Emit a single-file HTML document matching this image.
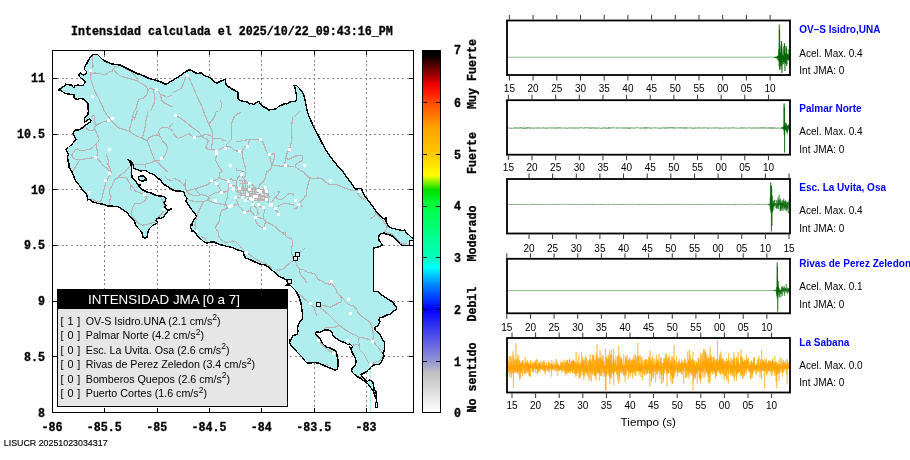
<!DOCTYPE html>
<html lang="es"><head><meta charset="utf-8"><title>Intensidad JMA</title>
<style>html,body{margin:0;padding:0;background:#fff;}svg{display:block}</style></head>
<body><svg width="910" height="460" viewBox="0 0 910 460">
<rect width="910" height="460" fill="#fff"/>
<g shape-rendering="crispEdges">
<line x1="104.5" y1="55" x2="104.5" y2="412" stroke="#858585" stroke-width="1" stroke-dasharray="2 2.66"/>
<line x1="157.5" y1="55" x2="157.5" y2="412" stroke="#858585" stroke-width="1" stroke-dasharray="2 2.66"/>
<line x1="209.5" y1="55" x2="209.5" y2="412" stroke="#858585" stroke-width="1" stroke-dasharray="2 2.66"/>
<line x1="261.5" y1="55" x2="261.5" y2="412" stroke="#858585" stroke-width="1" stroke-dasharray="2 2.66"/>
<line x1="314.5" y1="55" x2="314.5" y2="412" stroke="#858585" stroke-width="1" stroke-dasharray="2 2.66"/>
<line x1="366.5" y1="55" x2="366.5" y2="412" stroke="#858585" stroke-width="1" stroke-dasharray="2 2.66"/>
<line x1="57" y1="356.5" x2="413" y2="356.5" stroke="#858585" stroke-width="1" stroke-dasharray="2 2.66"/>
<line x1="57" y1="301.5" x2="413" y2="301.5" stroke="#858585" stroke-width="1" stroke-dasharray="2 2.66"/>
<line x1="57" y1="245.5" x2="413" y2="245.5" stroke="#858585" stroke-width="1" stroke-dasharray="2 2.66"/>
<line x1="57" y1="189.5" x2="413" y2="189.5" stroke="#858585" stroke-width="1" stroke-dasharray="2 2.66"/>
<line x1="57" y1="134.5" x2="413" y2="134.5" stroke="#858585" stroke-width="1" stroke-dasharray="2 2.66"/>
<line x1="57" y1="78.5" x2="413" y2="78.5" stroke="#858585" stroke-width="1" stroke-dasharray="2 2.66"/>
<polygon points="92.5,54.5 97.5,54.5 100.0,57.0 103.0,60.0 107.0,62.0 112.0,64.0 120.0,65.0 126.0,68.0 132.0,71.0 138.0,74.0 140.0,74.2 144.0,76.0 149.0,78.5 155.0,80.0 161.0,82.0 166.0,84.5 169.0,82.5 174.0,79.5 180.0,76.0 185.0,72.0 190.0,69.5 193.0,71.5 197.0,73.5 201.0,72.8 204.0,75.5 209.0,77.0 212.0,79.5 214.0,82.0 217.0,83.0 221.0,81.0 225.0,79.2 225.5,81.0 226.0,85.0 229.0,87.0 232.0,89.0 235.0,90.5 238.0,92.5 238.0,99.0 240.0,100.5 244.0,101.5 247.5,102.0 249.0,104.0 252.0,103.5 254.0,105.0 256.0,102.5 259.0,101.5 260.5,104.0 263.0,106.5 266.0,108.0 269.0,110.0 272.0,109.5 276.0,109.0 278.5,106.5 282.0,105.0 285.0,103.5 287.0,104.0 290.0,102.0 295.0,101.2 296.5,100.0 296.5,95.0 295.5,91.0 295.0,87.0 293.5,85.5 296.5,85.5 299.5,88.5 302.5,92.0 304.0,96.0 305.0,100.0 306.0,105.0 307.0,110.0 308.5,115.0 310.5,120.0 311.3,121.6 314.6,128.3 318.0,135.0 322.0,143.0 327.2,152.2 334.0,161.5 340.5,169.5 343.2,172.0 346.5,176.7 349.8,181.3 353.2,186.0 355.8,189.3 359.2,188.6 361.8,188.6 362.5,192.0 365.8,197.3 369.8,202.6 373.8,208.0 376.4,212.0 380.4,216.0 384.4,219.2 385.8,217.2 386.0,221.2 387.8,225.2 391.0,228.0 396.4,229.2 401.7,230.5 405.0,230.0 406.4,233.0 409.0,235.0 412.0,238.0 413.5,239.0 413.5,245.5 402.0,245.5 400.0,244.0 398.0,241.0 395.0,239.0 393.0,236.5 390.0,235.0 387.0,234.5 384.0,233.0 381.0,233.5 379.0,236.0 378.5,239.0 380.0,242.0 382.0,244.0 382.0,245.5 378.0,247.0 374.0,248.0 373.5,250.0 373.5,291.5 378.0,291.5 380.0,294.0 385.0,297.0 389.0,300.0 393.0,302.0 394.5,305.0 396.5,306.5 396.5,309.0 394.0,311.0 390.5,314.0 387.0,315.0 383.0,317.0 379.5,318.0 379.0,320.0 380.0,322.0 378.5,324.0 378.0,325.5 375.5,327.0 374.5,329.0 376.0,331.0 379.0,333.5 380.5,335.0 382.0,339.0 384.5,342.0 384.8,346.0 384.5,350.0 383.0,353.0 384.0,356.0 382.5,359.0 381.5,361.5 380.0,364.0 377.0,364.5 374.0,365.0 372.0,366.0 370.0,368.0 368.5,370.5 364.0,373.0 361.0,374.5 363.0,377.5 366.0,380.5 367.5,381.5 369.0,380.0 371.0,380.5 373.0,382.5 373.5,385.0 374.0,389.0 375.8,391.5 376.3,394.0 376.6,398.0 376.6,402.5 376.4,402.5 376.2,399.0 375.0,396.0 374.0,393.0 373.0,390.5 371.0,388.0 369.5,386.0 368.0,384.0 366.0,382.5 363.0,380.0 360.0,378.0 357.0,376.5 354.0,374.0 352.0,372.0 351.5,370.0 352.5,368.0 354.0,367.0 355.5,365.0 356.0,361.0 355.5,358.0 353.5,355.0 352.0,352.0 351.0,349.0 349.5,346.5 351.5,349.0 352.5,346.5 350.0,344.0 347.5,344.5 346.5,343.5 343.0,342.0 340.0,341.0 336.0,338.0 333.0,336.0 332.5,333.0 331.0,331.0 328.0,330.0 324.5,330.0 322.0,331.5 319.0,332.5 317.0,331.5 315.5,333.5 316.5,335.5 319.0,337.5 321.0,340.0 322.0,343.0 324.5,345.5 327.0,347.5 330.0,348.0 334.0,350.0 336.5,351.5 337.0,356.0 338.0,360.0 338.0,366.0 337.0,369.5 335.0,370.0 330.0,368.0 326.0,366.5 322.0,364.5 318.0,363.0 314.0,362.5 311.0,363.0 307.0,363.0 305.0,361.0 303.0,358.0 300.0,355.0 297.0,352.0 294.0,348.5 291.0,345.5 289.5,343.0 289.5,340.0 290.5,341.0 291.5,338.0 293.0,335.5 297.0,334.5 298.0,331.0 297.5,327.5 298.5,324.0 300.0,321.5 302.2,319.0 302.8,315.0 302.0,311.0 301.5,307.0 301.0,303.0 300.0,300.0 299.5,298.0 298.0,295.0 296.0,291.0 293.0,288.0 290.0,285.0 286.0,285.0 287.5,284.0 287.0,280.5 283.0,278.0 279.0,276.5 277.0,274.5 273.0,271.0 269.0,267.5 265.0,265.0 260.0,264.0 255.0,262.0 250.0,259.5 245.5,258.0 244.0,255.0 243.5,252.0 240.0,250.5 236.0,249.5 233.0,247.5 227.0,246.5 222.0,245.0 217.0,243.5 214.0,242.0 210.0,242.2 207.0,243.0 204.0,242.0 201.5,239.5 198.5,237.0 196.5,234.5 195.0,232.0 192.0,230.5 190.5,227.5 191.0,224.5 192.5,222.5 195.0,218.0 196.5,216.5 194.5,213.0 192.0,210.0 190.0,207.0 188.0,204.0 186.0,201.0 187.0,198.0 185.0,196.0 184.5,194.0 184.0,192.0 180.0,191.0 176.0,191.2 173.0,190.0 169.0,187.5 165.0,185.0 162.0,182.5 161.0,180.0 159.0,179.0 156.0,176.5 153.0,174.0 149.0,173.0 147.0,171.0 144.0,170.5 141.0,171.0 137.0,169.5 134.0,168.5 133.5,166.0 132.5,163.0 130.0,160.5 127.5,159.5 129.5,161.5 131.0,164.0 131.5,168.0 131.5,172.0 132.0,177.0 133.0,179.0 135.0,180.5 137.0,183.0 138.0,185.0 140.0,187.5 143.0,190.0 147.0,192.0 151.0,193.0 153.0,194.0 156.0,195.5 160.0,196.0 164.0,196.5 166.0,198.0 165.5,200.5 164.0,203.0 166.0,205.5 164.5,207.0 167.0,209.5 171.5,209.0 170.0,210.0 167.5,210.5 167.0,212.5 165.0,214.0 164.0,216.5 161.0,218.5 159.0,218.0 157.0,218.5 156.0,220.5 157.5,222.5 156.0,224.0 153.0,225.0 151.0,227.0 149.0,229.0 148.0,232.0 147.5,235.0 147.0,237.5 145.0,238.0 143.0,237.5 142.5,234.0 141.0,231.0 138.0,228.0 135.5,225.0 134.5,221.0 132.0,218.5 129.0,216.0 128.0,213.0 124.5,211.0 121.0,208.5 118.0,206.5 113.0,206.2 108.0,206.0 104.5,204.5 101.0,204.0 97.0,203.2 93.0,202.0 89.5,199.5 87.5,200.0 87.0,195.0 85.0,192.5 82.0,189.0 79.0,185.0 75.5,180.5 74.0,177.0 72.5,173.0 71.0,170.0 69.0,167.0 69.0,164.0 68.0,161.0 67.5,157.0 68.5,154.5 67.5,152.0 66.0,149.5 68.5,147.5 71.0,145.0 73.5,143.5 74.0,141.5 76.0,140.0 75.5,138.0 74.0,136.0 73.0,133.5 73.5,131.8 75.5,130.0 79.0,130.0 81.0,128.5 84.0,127.0 85.5,125.0 88.0,123.5 90.5,122.0 91.0,120.0 89.5,119.0 87.0,120.5 84.5,122.0 84.5,118.0 86.0,116.5 88.0,115.0 88.3,111.0 88.0,107.0 88.0,103.5 86.0,101.0 83.0,99.0 80.0,98.5 77.0,99.5 74.0,98.0 74.0,94.5 67.5,94.0 65.0,93.5 63.0,92.0 61.0,90.5 58.5,89.8 61.0,88.5 63.0,87.0 65.0,85.5 65.5,83.5 66.0,84.5 71.5,85.0 72.5,86.5 74.0,88.0 74.5,85.8 78.0,85.0 82.0,85.8 84.5,84.5 85.0,81.5 83.5,80.0 81.0,78.0 79.0,76.0 79.0,74.0 80.5,72.5 82.0,74.5 83.5,75.2 86.0,74.0 86.5,71.5 84.5,69.5 84.5,67.0 86.5,64.0 88.0,61.0 90.0,58.0 92.5,54.5" fill="#afeeee" stroke="none"/>
<polygon points="138.5,177.0 140.5,176.0 143.5,176.2 145.5,177.5 145.5,179.5 143.5,180.8 140.5,180.8 138.5,179.5" fill="#afeeee" stroke="none"/>
<polygon points="370.0,368.0 371.0,368.0 371.0,412.0 370.0,412.0" fill="#afeeee" stroke="none"/>
</g>
<g fill="none" stroke="#bcb0b0" stroke-width="1.15" shape-rendering="crispEdges">
<polyline points="92.6,55.3 92.3,62.0 93.2,66.0 91.6,69.9 90.6,74.6 90.8,79.3 92.6,84.6 94.3,89.9 96.5,94.5 98.8,98.5 100.9,103.2 102.8,107.2 104.1,111.0"/>
<polyline points="90.6,74.6 94.6,72.9 98.5,73.3 103.2,74.6 106.5,74.2 109.2,71.9 112.5,71.3 113.4,68.6 115.2,66.6 117.8,65.7 120.5,66.0"/>
<polyline points="113.4,68.6 114.5,71.3 117.2,73.3 119.2,75.3 122.5,76.6 126.5,77.9 130.5,78.6 134.4,79.9 137.8,81.2 140.4,83.2 143.8,84.8 146.7,87.2 148.0,89.9 147.7,93.2 145.8,95.9 143.8,97.9 140.4,98.5 138.2,100.5 137.1,104.5 136.0,108.5 134.4,111.0"/>
<polyline points="120.5,66.0 125.1,68.0 129.1,70.6 132.5,72.6 135.1,75.9 137.1,78.6 137.8,81.2"/>
<polyline points="148.0,89.9 150.4,87.9 153.1,89.2 156.4,89.5"/>
<polyline points="153.1,89.2 154.1,93.9 155.1,98.5 154.1,103.2 152.4,107.2 150.4,111.0"/>
<polyline points="156.4,89.5 158.4,91.2 160.4,94.5 161.0,97.9 162.4,101.2 165.0,103.2 167.7,104.5 170.4,105.9 173.0,106.5"/>
<polyline points="160.4,94.5 163.7,95.2 166.4,97.2 169.0,96.5 171.7,95.2"/>
<polyline points="187.0,75.0 185.0,79.3 183.0,84.6 181.0,88.6 177.0,90.6 173.0,92.6"/>
<polyline points="187.0,75.0 189.6,78.6 191.6,83.2 193.6,88.6 196.3,94.5 198.9,100.5 201.6,105.9 203.6,111.0"/>
<polyline points="220.2,99.9 221.5,103.2 221.5,107.2 219.5,111.0"/>
<polyline points="104.5,111.0 107.9,116.3 111.2,120.3 114.5,124.3 118.5,127.6 123.8,129.6 129.1,130.9 133.1,133.6 137.1,136.3 142.4,138.3 147.1,140.9 149.1,145.6 151.1,150.9 153.1,156.2 155.1,160.9 158.4,162.9 162.4,166.9 166.4,170.8 167.7,172.0"/>
<polyline points="134.4,111.0 132.5,116.3 131.8,121.6 130.5,125.6 129.1,130.9"/>
<polyline points="137.1,111.0 135.8,115.0 134.4,119.0 133.1,116.3"/>
<polyline points="147.7,111.0 147.1,116.3 145.8,121.6 145.1,127.0 143.8,132.3 142.4,138.3"/>
<polyline points="90.6,116.3 94.6,115.7 94.8,120.3 95.2,125.6 94.6,129.6 90.6,130.9 87.9,129.6 85.9,127.6"/>
<polyline points="95.2,125.6 97.9,124.3 101.9,122.3 106.5,121.0 108.5,120.3 112.5,118.3"/>
<polyline points="95.2,129.6 96.5,132.9 97.9,136.3 99.2,139.6 97.9,142.2 95.9,144.2 93.2,146.9 90.6,148.9 85.2,150.2 79.9,150.6 77.3,148.9 74.6,150.2 71.9,154.9 72.6,157.5 75.3,159.1 79.9,159.5 85.2,158.9 90.6,158.2 95.2,157.5 97.9,159.1 100.5,162.2 103.2,165.5 106.5,168.2 109.8,170.8 111.2,172.0"/>
<polyline points="95.9,144.2 96.5,148.2 97.9,152.2 97.2,155.5 95.2,157.5"/>
<polyline points="105.9,153.6 107.2,156.9 108.5,160.9 107.9,164.2 109.8,168.2 111.2,172.0"/>
<polyline points="79.9,159.5 77.9,162.9 75.3,166.9 73.3,170.8"/>
<polyline points="147.1,140.9 149.1,137.6 153.1,135.6 157.1,134.9 160.4,136.9 162.4,140.9 165.7,144.2 167.7,147.6 166.4,152.2 164.4,156.2 161.7,158.9 158.4,160.9 155.1,160.9"/>
<polyline points="160.4,136.9 158.4,132.3 160.4,128.3 165.0,127.0 169.0,128.3 173.0,130.9"/>
<polyline points="173.0,123.0 170.4,125.6 169.0,128.3"/>
<polyline points="155.1,160.9 150.4,162.9 145.1,164.2 138.4,164.5 133.1,164.2"/>
<polyline points="145.1,164.2 145.8,168.2"/>
<polyline points="133.1,165.5 129.1,167.5 126.5,169.5 125.1,172.0"/>
<polyline points="175.4,115.7 179.6,117.6 183.6,120.3 187.6,123.6 191.6,127.0 195.6,129.6 198.9,132.3 200.9,135.6 202.9,137.6 206.2,138.9 208.2,140.9 207.6,144.2 205.6,146.9 206.9,148.9 210.2,149.8 214.2,149.8 216.5,152.2"/>
<polyline points="203.6,111.0 204.9,115.0 206.9,119.6 208.9,124.3 210.9,128.3 212.2,132.3 212.9,136.3 212.9,138.3"/>
<polyline points="218.2,111.0 215.6,112.3 214.9,116.3 212.9,119.6 210.2,122.3 208.9,124.3"/>
<polyline points="173.0,133.6 175.7,136.3 178.3,138.3 182.3,136.9 186.3,134.9 189.0,133.6 191.0,135.6 194.5,137.3 199.6,136.3 204.2,134.7 208.2,134.9 211.6,136.3 212.9,138.3 216.9,138.7 220.9,138.9 223.5,140.5 225.5,140.5"/>
<polyline points="212.9,138.3 212.2,142.9 211.6,146.9 211.6,149.8"/>
<polyline points="241.5,112.6 238.2,113.4 234.8,116.3 232.8,119.6 231.5,124.3 231.5,129.6 231.8,134.9 231.5,139.6 228.9,142.2 226.9,144.2 226.2,146.9 225.5,148.5"/>
<polyline points="216.5,152.2 219.5,149.6 222.9,147.6 225.5,148.5 228.9,146.2 231.5,147.6 233.5,149.6 235.5,150.9 238.8,151.2 242.1,152.2 242.8,149.6 244.8,146.9 247.5,146.5 248.8,142.9 249.5,139.6 252.8,139.3 256.8,139.2 260.4,139.3"/>
<polyline points="236.2,141.6 239.5,141.3 243.5,140.5 247.5,139.6 249.5,139.6"/>
<polyline points="216.5,152.2 216.2,156.2 215.6,160.2 217.5,164.2 220.2,168.2 222.2,172.0"/>
<polyline points="242.1,152.2 242.8,157.5 243.5,161.5 244.8,165.5 245.5,169.5 244.8,171.5 240.8,170.8 236.8,170.2 236.2,168.2"/>
<polyline points="260.4,139.3 263.4,142.9 264.8,146.9 266.1,150.9 268.7,154.2 270.1,158.9 271.4,163.5 272.1,165.5"/>
<polyline points="269.4,154.5 274.7,153.6 274.7,157.5 273.4,161.5 272.1,165.5 271.4,168.2 268.7,170.8 266.1,172.0"/>
<polyline points="272.1,165.5 276.7,165.3 280.7,166.2 285.1,165.8 290.0,166.2 294.0,166.2"/>
<polyline points="292.7,117.0 292.0,123.0 291.4,128.3 291.6,133.6 292.0,137.6 291.4,141.6 290.7,145.6 289.4,149.6 287.4,152.2 286.0,156.2 285.4,160.2 284.7,164.2 285.1,165.8"/>
<polyline points="286.0,158.2 288.7,159.5 291.4,158.2 294.0,156.9"/>
<polyline points="294.0,117.0 296.7,114.3 300.0,111.0"/>
<polyline points="294.0,156.2 302.0,155.5 302.6,160.2 299.3,162.2 296.0,164.2 295.3,166.9 299.3,169.5 303.3,172.0"/>
<polyline points="111.2,172.0 109.2,176.0 107.2,180.0 105.2,184.0 104.5,188.0 103.2,191.9 102.5,196.6 101.2,200.6 98.5,201.9 94.6,200.6 90.6,198.6"/>
<polyline points="124.5,172.0 121.1,174.7 118.5,177.3 115.2,179.3 113.2,182.6 111.8,186.6 109.8,189.3 109.2,193.3 111.2,196.6 109.8,199.9 109.2,203.9"/>
<polyline points="118.5,177.3 122.5,177.3 126.5,177.6 128.5,181.3 130.5,184.6 133.1,188.0 135.8,191.3 139.8,192.6 144.4,194.6 146.4,197.3 145.1,200.6 142.4,202.6 138.4,203.9 135.1,203.2 133.1,206.6 131.8,210.6 131.1,214.6 133.1,217.9 135.8,220.5 138.4,223.2 142.4,225.2 146.4,224.5 150.4,223.2 154.4,222.5 156.4,220.5 158.4,217.2 161.0,214.6 163.0,211.9 163.4,209.9"/>
<polyline points="130.5,184.6 130.5,189.3 131.8,191.3"/>
<polyline points="163.0,211.9 164.4,205.2 162.4,199.9 160.4,197.3"/>
<polyline points="165.0,176.0 166.4,178.6 169.0,180.0 173.0,180.6"/>
<polyline points="173.0,178.6 177.0,179.3 181.0,182.0 183.6,184.6 185.6,188.0 186.3,190.6"/>
<polyline points="185.6,179.3 185.0,184.0 185.6,188.0"/>
<polyline points="186.3,190.6 190.3,190.0 195.6,188.6 199.6,187.3 203.6,186.0 207.6,184.6 210.2,182.6 211.6,180.6"/>
<polyline points="186.3,190.6 189.0,193.9 192.9,195.3 196.9,195.7 200.9,194.6 204.9,195.3 208.2,196.6 211.6,194.6 215.6,192.6 219.5,191.9 221.5,192.3 224.9,191.9 227.5,191.3 228.9,189.3 228.2,185.3 228.5,181.6"/>
<polyline points="195.6,188.6 197.6,191.9 200.9,194.6"/>
<polyline points="185.6,198.6 190.3,200.6 194.9,201.5 199.6,201.9 203.6,201.5 207.6,199.9 209.6,197.9 208.2,196.6"/>
<polyline points="203.6,201.5 201.6,205.2 199.6,209.2 197.6,213.2 196.9,217.2 195.6,221.2 194.9,225.2 195.6,229.2 196.3,231.2"/>
<polyline points="207.6,199.9 210.9,201.9 215.6,203.2 219.5,203.9 223.5,204.6 226.2,205.9 227.5,208.6 224.2,209.2 221.5,210.6 220.2,213.9 219.5,218.5 218.9,222.5 216.2,225.2 215.6,228.5 217.5,231.2 218.9,233.0"/>
<polyline points="227.5,191.3 227.5,195.3 226.9,199.3 225.5,201.9 226.2,205.9"/>
<polyline points="216.5,183.6 218.9,186.6 220.2,189.3 221.5,192.3"/>
<polyline points="211.6,180.6 215.6,180.0 218.9,178.6 219.5,174.7 220.2,172.0"/>
<polyline points="218.9,178.6 222.9,179.3 226.2,180.6 228.5,181.6"/>
<polyline points="230.2,205.9 234.2,205.2 237.5,203.9 236.8,200.6 235.5,197.3"/>
<polyline points="237.5,203.9 239.5,206.6 242.1,209.2 244.5,212.3 247.5,211.2 250.1,210.6 250.8,207.2 252.8,204.6"/>
<polyline points="250.1,210.6 252.8,213.2 255.4,217.5 258.1,213.2 257.4,209.2 255.4,207.2 252.8,204.6"/>
<polyline points="258.5,204.6 260.8,207.2 263.4,207.5 264.8,211.2 263.4,214.6 263.4,218.5"/>
<polyline points="255.4,217.5 256.1,222.5 258.1,225.2 261.4,227.2 264.4,228.5"/>
<polyline points="255.4,217.5 259.4,217.9 263.4,218.5 265.4,221.2 264.8,225.2 264.4,228.5"/>
<polyline points="265.4,221.2 268.7,223.2 272.7,225.2 276.7,227.9 279.4,231.2 282.0,232.5 286.0,233.0"/>
<polyline points="270.7,205.2 274.1,207.9 276.7,211.2 278.5,214.6"/>
<polyline points="275.4,208.2 279.4,205.2 283.4,203.9 287.4,203.2 291.4,204.6 294.0,205.2"/>
<polyline points="270.7,205.2 272.7,200.6 275.4,197.3 278.1,194.6 279.4,191.9 277.4,191.9"/>
<polyline points="275.4,197.3 279.4,199.9 283.4,198.6 286.0,195.9 288.7,193.9 292.7,193.9 294.0,195.9"/>
<polyline points="266.5,191.5 268.7,194.6 269.4,197.9 266.5,199.5 268.7,202.6 270.7,205.2"/>
<polyline points="230.8,185.3 235.5,186.0 239.5,188.6 244.8,189.3 249.5,189.3 254.1,188.6 258.1,190.6 260.8,191.9 266.5,191.5"/>
<polyline points="233.5,188.6 236.8,191.9 242.1,193.3 247.5,194.3 252.8,193.9 258.1,194.6 263.4,195.9 266.5,199.5"/>
<polyline points="235.5,197.3 242.4,197.3 245.5,200.2 251.5,198.6 256.8,197.9 260.8,199.3 266.5,199.5"/>
<polyline points="251.5,198.6 252.8,204.6"/>
<polyline points="247.5,194.3 249.5,189.3 249.5,183.6 246.1,181.3 243.5,178.6 241.5,174.4"/>
<polyline points="236.8,180.6 236.8,186.6 238.2,191.9"/>
<polyline points="239.5,180.0 244.8,180.6 249.5,183.6 252.8,185.3 255.4,188.0"/>
<polyline points="241.5,174.4 238.2,177.3 236.8,180.6 232.8,180.0 230.8,178.6 228.5,181.6"/>
<polyline points="244.8,180.6 245.5,185.3 244.8,189.3"/>
<polyline points="252.8,185.3 254.1,188.6 254.1,193.9 251.5,198.6"/>
<polyline points="258.1,190.6 259.4,185.3 262.1,182.6 264.8,180.0 265.4,176.0 266.8,172.0"/>
<polyline points="260.8,191.9 263.4,189.3 265.4,187.3"/>
<polyline points="246.1,172.0 245.5,176.0 243.5,178.6"/>
<polyline points="239.5,183.3 247.5,183.3"/>
<polyline points="242.1,180.0 242.1,186.6"/>
<polyline points="247.5,185.3 247.5,189.3"/>
<polyline points="255.4,191.9 266.1,193.3"/>
<polyline points="258.1,195.9 258.1,200.6 258.5,204.6"/>
<polyline points="262.1,194.6 262.8,200.6"/>
<polyline points="236.8,194.6 244.8,195.3 250.1,196.6"/>
<polyline points="235.5,188.0 242.1,187.7 247.5,188.6 252.8,189.3 258.1,188.6 263.4,190.0 268.7,190.6"/>
<polyline points="236.8,190.0 243.5,190.6 250.1,191.3 256.8,191.9 263.4,192.6 268.1,193.3"/>
<polyline points="238.2,186.6 238.2,193.3"/>
<polyline points="243.5,185.3 243.5,193.3"/>
<polyline points="252.8,188.0 252.8,198.6"/>
<polyline points="255.4,189.3 256.1,198.6"/>
<polyline points="260.8,191.9 260.8,199.9"/>
<polyline points="264.8,191.9 264.8,199.9"/>
<polyline points="267.4,191.9 268.1,199.9"/>
<polyline points="248.8,195.9 255.4,195.3 262.1,196.6 267.4,197.3"/>
<polyline points="247.5,198.6 252.8,200.6 258.1,199.9 264.8,200.6 268.7,199.9"/>
<polyline points="240.2,190.6 240.2,195.9"/>
<polyline points="245.5,190.0 246.1,197.3"/>
<polyline points="249.5,190.6 250.1,198.6"/>
<polyline points="303.3,172.0 306.6,175.3 310.0,178.0 313.9,178.6 317.9,178.0 321.9,178.4 324.6,181.3 328.6,184.0 332.6,184.6 336.6,184.6 340.5,186.0 344.5,188.0 348.5,189.3 352.5,190.6 356.5,190.6 359.6,191.5 357.8,193.9 360.5,197.3 363.8,199.3 366.5,199.3"/>
<polyline points="310.0,178.0 308.6,182.6 307.3,186.6 306.6,190.6 306.6,194.6 304.6,197.3 302.6,199.9 300.0,202.6 298.7,204.3 301.3,205.9 302.6,206.8"/>
<polyline points="298.7,204.3 296.7,207.9 294.0,209.2"/>
<polyline points="370.5,218.5 373.8,216.5 375.8,213.9 377.1,214.6 380.4,216.5"/>
<polyline points="375.8,213.9 375.1,211.9"/>
<polyline points="387.8,225.2 387.1,227.9 385.8,230.5 383.1,233.0"/>
<polyline points="218.2,233.0 218.9,236.3 220.9,239.6 224.2,241.6 226.2,243.0 228.9,242.0 232.2,241.0 235.5,241.6 238.2,244.3 240.8,247.0 243.5,249.6 245.5,251.6 248.8,254.3 252.8,256.9 256.8,259.6 260.8,261.6 264.8,262.9 268.7,265.6 272.1,268.2"/>
<polyline points="200.9,236.3 204.9,238.3 206.9,241.0 208.2,242.6"/>
<polyline points="282.0,233.0 285.4,235.0 287.4,237.7 290.7,238.3 292.7,241.0 292.0,246.3 291.4,250.3 292.0,254.3 292.7,258.3"/>
<polyline points="292.7,260.9 290.0,262.9 287.4,264.9 285.4,267.6 282.0,269.6 278.7,270.2 276.1,269.6"/>
<polyline points="304.6,248.3 301.3,251.6 298.7,254.3"/>
<polyline points="295.3,260.9 296.7,264.9 299.3,268.9 300.0,272.9 301.3,275.6 304.6,278.9 306.6,282.9"/>
<polyline points="299.3,268.9 303.3,269.6 307.3,272.2 311.3,272.9 314.6,273.6 316.6,276.9 317.9,279.5 321.9,280.9 325.9,283.5 329.9,284.2 331.5,283.5 333.9,286.2 336.6,290.2 337.2,294.0"/>
<polyline points="387.1,233.0 391.1,235.0 395.1,239.0 399.1,242.3 403.0,244.3 407.0,243.6"/>
<polyline points="299.3,294.0 303.3,298.0 307.3,301.3 310.6,304.0 313.9,307.3 315.3,311.3 316.6,315.9"/>
<polyline points="318.6,304.4 321.9,305.3 325.9,306.0 329.9,307.3 333.9,305.3 337.9,303.3 341.2,302.0 341.9,299.3 339.9,295.3 338.5,294.0"/>
<polyline points="318.6,306.6 323.3,310.0 328.6,314.6 333.9,319.9 339.2,325.2 344.5,329.2 349.9,332.6 355.2,335.2 359.2,337.2 363.1,337.9 368.5,339.2 372.5,341.2"/>
<polyline points="339.2,325.2 335.2,327.2 329.9,327.2 325.2,327.9 323.3,329.9"/>
<polyline points="339.9,295.3 344.5,300.6 348.5,304.6 353.2,306.0 356.5,308.6 357.8,312.6 361.8,316.6 365.8,319.3 369.8,321.9 371.8,326.6 373.1,332.6 373.1,337.9 372.5,341.2 376.4,345.2 380.4,349.9 382.4,353.2"/>
<polyline points="359.2,337.2 358.5,341.2 359.8,345.9 359.8,349.9 363.1,353.2 365.1,355.0"/>
<polyline points="352.5,345.2 355.2,344.5 359.2,345.2"/>
<polyline points="315.9,335.2 319.3,339.2 320.6,343.2 324.6,347.2 329.9,351.2 333.9,353.2"/>
<polyline points="364.5,355.0 366.5,359.0 368.5,363.0 369.8,365.0 375.1,362.3 379.1,361.0 381.8,358.3 383.1,355.0"/>
<polyline points="325.9,363.6 328.6,365.6"/>
<polyline points="376.0,214.0 379.0,217.0 383.0,221.0 386.0,225.0 387.0,229.0 384.5,231.5"/>
<polyline points="387.0,232.5 392.0,234.0 396.0,238.0 400.0,242.0 404.0,244.0 406.0,243.5"/>
</g>
<g shape-rendering="crispEdges">
<rect x="89.1" y="69.1" width="3" height="3" fill="#fff"/>
<rect x="91.1" y="95.0" width="3" height="3" fill="#fff"/>
<rect x="154.9" y="88.0" width="3" height="3" fill="#fff"/>
<rect x="185.5" y="73.5" width="3" height="3" fill="#fff"/>
<rect x="107.0" y="118.8" width="3" height="3" fill="#fff"/>
<rect x="111.0" y="116.8" width="3" height="3" fill="#fff"/>
<rect x="107.9" y="148.1" width="3" height="3" fill="#fff"/>
<rect x="94.0" y="156.0" width="3" height="3" fill="#fff"/>
<rect x="159.9" y="157.0" width="3" height="3" fill="#fff"/>
<rect x="173.9" y="114.2" width="3" height="3" fill="#fff"/>
<rect x="193.0" y="135.8" width="3" height="3" fill="#fff"/>
<rect x="215.0" y="150.1" width="3" height="3" fill="#fff"/>
<rect x="215.0" y="151.8" width="3" height="3" fill="#fff"/>
<rect x="224.0" y="147.0" width="3" height="3" fill="#fff"/>
<rect x="228.9" y="164.0" width="3" height="3" fill="#fff"/>
<rect x="238.0" y="149.8" width="3" height="3" fill="#fff"/>
<rect x="246.0" y="145.0" width="3" height="3" fill="#fff"/>
<rect x="258.9" y="137.8" width="3" height="3" fill="#fff"/>
<rect x="267.9" y="153.0" width="3" height="3" fill="#fff"/>
<rect x="283.6" y="164.3" width="3" height="3" fill="#fff"/>
<rect x="287.9" y="148.1" width="3" height="3" fill="#fff"/>
<rect x="303.1" y="164.3" width="3" height="3" fill="#fff"/>
<rect x="107.9" y="172.1" width="3" height="3" fill="#fff"/>
<rect x="104.0" y="179.1" width="3" height="3" fill="#fff"/>
<rect x="88.0" y="191.1" width="3" height="3" fill="#fff"/>
<rect x="142.9" y="193.1" width="3" height="3" fill="#fff"/>
<rect x="161.9" y="208.4" width="3" height="3" fill="#fff"/>
<rect x="210.1" y="179.1" width="3" height="3" fill="#fff"/>
<rect x="215.0" y="182.1" width="3" height="3" fill="#fff"/>
<rect x="220.0" y="190.8" width="3" height="3" fill="#fff"/>
<rect x="214.1" y="198.8" width="3" height="3" fill="#fff"/>
<rect x="227.0" y="180.1" width="3" height="3" fill="#fff"/>
<rect x="229.3" y="183.8" width="3" height="3" fill="#fff"/>
<rect x="232.0" y="186.5" width="3" height="3" fill="#fff"/>
<rect x="232.0" y="188.1" width="3" height="3" fill="#fff"/>
<rect x="234.0" y="195.8" width="3" height="3" fill="#fff"/>
<rect x="238.0" y="187.1" width="3" height="3" fill="#fff"/>
<rect x="240.0" y="172.9" width="3" height="3" fill="#fff"/>
<rect x="240.9" y="195.8" width="3" height="3" fill="#fff"/>
<rect x="244.0" y="198.7" width="3" height="3" fill="#fff"/>
<rect x="246.0" y="192.8" width="3" height="3" fill="#fff"/>
<rect x="248.0" y="182.1" width="3" height="3" fill="#fff"/>
<rect x="248.0" y="187.8" width="3" height="3" fill="#fff"/>
<rect x="249.3" y="196.7" width="3" height="3" fill="#fff"/>
<rect x="251.0" y="197.5" width="3" height="3" fill="#fff"/>
<rect x="251.3" y="203.1" width="3" height="3" fill="#fff"/>
<rect x="253.9" y="216.0" width="3" height="3" fill="#fff"/>
<rect x="256.6" y="189.1" width="3" height="3" fill="#fff"/>
<rect x="257.0" y="203.1" width="3" height="3" fill="#fff"/>
<rect x="259.3" y="190.4" width="3" height="3" fill="#fff"/>
<rect x="261.9" y="206.0" width="3" height="3" fill="#fff"/>
<rect x="263.9" y="185.8" width="3" height="3" fill="#fff"/>
<rect x="265.0" y="190.0" width="3" height="3" fill="#fff"/>
<rect x="265.0" y="198.0" width="3" height="3" fill="#fff"/>
<rect x="268.6" y="203.1" width="3" height="3" fill="#fff"/>
<rect x="270.2" y="204.4" width="3" height="3" fill="#fff"/>
<rect x="273.9" y="206.7" width="3" height="3" fill="#fff"/>
<rect x="277.0" y="213.1" width="3" height="3" fill="#fff"/>
<rect x="243.0" y="210.8" width="3" height="3" fill="#fff"/>
<rect x="228.0" y="204.8" width="3" height="3" fill="#fff"/>
<rect x="229.7" y="204.0" width="3" height="3" fill="#fff"/>
<rect x="262.9" y="227.0" width="3" height="3" fill="#fff"/>
<rect x="194.8" y="229.7" width="3" height="3" fill="#fff"/>
<rect x="252.6" y="195.1" width="3" height="3" fill="#fff"/>
<rect x="254.6" y="195.1" width="3" height="3" fill="#fff"/>
<rect x="269.6" y="203.7" width="3" height="3" fill="#fff"/>
<rect x="268.6" y="204.1" width="3" height="3" fill="#fff"/>
<rect x="270.2" y="203.2" width="3" height="3" fill="#fff"/>
<rect x="328.8" y="179.1" width="3" height="3" fill="#fff"/>
<rect x="358.1" y="190.0" width="3" height="3" fill="#fff"/>
<rect x="293.8" y="199.1" width="3" height="3" fill="#fff"/>
<rect x="297.2" y="202.8" width="3" height="3" fill="#fff"/>
<rect x="244.9" y="250.5" width="3" height="3" fill="#fff"/>
<rect x="330.0" y="280.4" width="3" height="3" fill="#fff"/>
<rect x="347.0" y="298.1" width="3" height="3" fill="#fff"/>
<rect x="308.5" y="302.1" width="3" height="3" fill="#fff"/>
<rect x="349.0" y="312.0" width="3" height="3" fill="#fff"/>
<rect x="390.0" y="310.5" width="3" height="3" fill="#fff"/>
<rect x="346.4" y="339.0" width="3" height="3" fill="#fff"/>
<rect x="371.0" y="339.7" width="3" height="3" fill="#fff"/>
<rect x="317.1" y="339.0" width="3" height="3" fill="#fff"/>
<rect x="332.4" y="352.3" width="3" height="3" fill="#fff"/>
<rect x="369.0" y="363.1" width="3" height="3" fill="#fff"/>
<rect x="295.5" y="252.5" width="4" height="4" fill="#e8e8e8" stroke="#000" stroke-width="1"/>
<rect x="293.5" y="256.5" width="4" height="4" fill="#e8e8e8" stroke="#000" stroke-width="1"/>
<rect x="287.5" y="279.5" width="4" height="4" fill="#e8e8e8" stroke="#000" stroke-width="1"/>
<rect x="316.5" y="302.5" width="4" height="4" fill="#e8e8e8" stroke="#000" stroke-width="1"/>
</g>
<g fill="none" stroke="#000" stroke-width="1.4" stroke-linejoin="round" shape-rendering="crispEdges">
<polyline points="92.5,54.5 97.5,54.5 100.0,57.0 103.0,60.0 107.0,62.0 112.0,64.0 120.0,65.0 126.0,68.0 132.0,71.0 138.0,74.0 140.0,74.2 144.0,76.0 149.0,78.5 155.0,80.0 161.0,82.0 166.0,84.5 169.0,82.5 174.0,79.5 180.0,76.0 185.0,72.0 190.0,69.5 193.0,71.5 197.0,73.5 201.0,72.8 204.0,75.5 209.0,77.0 212.0,79.5 214.0,82.0 217.0,83.0 221.0,81.0 225.0,79.2 225.5,81.0 226.0,85.0 229.0,87.0 232.0,89.0 235.0,90.5 238.0,92.5 238.0,99.0 240.0,100.5 244.0,101.5 247.5,102.0 249.0,104.0 252.0,103.5 254.0,105.0 256.0,102.5 259.0,101.5 260.5,104.0 263.0,106.5 266.0,108.0 269.0,110.0 272.0,109.5 276.0,109.0 278.5,106.5 282.0,105.0 285.0,103.5 287.0,104.0 290.0,102.0 295.0,101.2 296.5,100.0 296.5,95.0 295.5,91.0 295.0,87.0 293.5,85.5 296.5,85.5 299.5,88.5 302.5,92.0 304.0,96.0 305.0,100.0 306.0,105.0 307.0,110.0 308.5,115.0 310.5,120.0 311.3,121.6 314.6,128.3 318.0,135.0 322.0,143.0 327.2,152.2 334.0,161.5 340.5,169.5 343.2,172.0 346.5,176.7 349.8,181.3 353.2,186.0 355.8,189.3 359.2,188.6 361.8,188.6 362.5,192.0 365.8,197.3 369.8,202.6 373.8,208.0 376.4,212.0 380.4,216.0 384.4,219.2 385.8,217.2 386.0,221.2 387.8,225.2 391.0,228.0 396.4,229.2 401.7,230.5 405.0,230.0 406.4,233.0 409.0,235.0 412.0,238.0 413.5,239.0 413.5,245.5 402.0,245.5 400.0,244.0 398.0,241.0 395.0,239.0 393.0,236.5 390.0,235.0 387.0,234.5 384.0,233.0 381.0,233.5 379.0,236.0 378.5,239.0 380.0,242.0 382.0,244.0 382.0,245.5 378.0,247.0 374.0,248.0 373.5,250.0 373.5,291.5 378.0,291.5 380.0,294.0 385.0,297.0 389.0,300.0 393.0,302.0 394.5,305.0 396.5,306.5 396.5,309.0 394.0,311.0 390.5,314.0 387.0,315.0 383.0,317.0 379.5,318.0 379.0,320.0 380.0,322.0 378.5,324.0 378.0,325.5 375.5,327.0 374.5,329.0 376.0,331.0 379.0,333.5 380.5,335.0 382.0,339.0 384.5,342.0 384.8,346.0 384.5,350.0 383.0,353.0 384.0,356.0 382.5,359.0 381.5,361.5 380.0,364.0 377.0,364.5 374.0,365.0 372.0,366.0 370.0,368.0 368.5,370.5 364.0,373.0 361.0,374.5 363.0,377.5 366.0,380.5 367.5,381.5 369.0,380.0 371.0,380.5 373.0,382.5 373.5,385.0 374.0,389.0 375.8,391.5 376.3,394.0 376.6,398.0 376.6,402.5 376.4,402.5 376.2,399.0 375.0,396.0 374.0,393.0 373.0,390.5 371.0,388.0 369.5,386.0 368.0,384.0 366.0,382.5 363.0,380.0 360.0,378.0 357.0,376.5 354.0,374.0 352.0,372.0 351.5,370.0 352.5,368.0 354.0,367.0 355.5,365.0 356.0,361.0 355.5,358.0 353.5,355.0 352.0,352.0 351.0,349.0 349.5,346.5 351.5,349.0 352.5,346.5 350.0,344.0 347.5,344.5 346.5,343.5 343.0,342.0 340.0,341.0 336.0,338.0 333.0,336.0 332.5,333.0 331.0,331.0 328.0,330.0 324.5,330.0 322.0,331.5 319.0,332.5 317.0,331.5 315.5,333.5 316.5,335.5 319.0,337.5 321.0,340.0 322.0,343.0 324.5,345.5 327.0,347.5 330.0,348.0 334.0,350.0 336.5,351.5 337.0,356.0 338.0,360.0 338.0,366.0 337.0,369.5 335.0,370.0 330.0,368.0 326.0,366.5 322.0,364.5 318.0,363.0 314.0,362.5 311.0,363.0 307.0,363.0 305.0,361.0 303.0,358.0 300.0,355.0 297.0,352.0 294.0,348.5 291.0,345.5 289.5,343.0 289.5,340.0 290.5,341.0 291.5,338.0 293.0,335.5 297.0,334.5 298.0,331.0 297.5,327.5 298.5,324.0 300.0,321.5 302.2,319.0 302.8,315.0 302.0,311.0 301.5,307.0 301.0,303.0 300.0,300.0 299.5,298.0 298.0,295.0 296.0,291.0 293.0,288.0 290.0,285.0 286.0,285.0 287.5,284.0 287.0,280.5 283.0,278.0 279.0,276.5 277.0,274.5 273.0,271.0 269.0,267.5 265.0,265.0 260.0,264.0 255.0,262.0 250.0,259.5 245.5,258.0 244.0,255.0 243.5,252.0 240.0,250.5 236.0,249.5 233.0,247.5 227.0,246.5 222.0,245.0 217.0,243.5 214.0,242.0 210.0,242.2 207.0,243.0 204.0,242.0 201.5,239.5 198.5,237.0 196.5,234.5 195.0,232.0 192.0,230.5 190.5,227.5 191.0,224.5 192.5,222.5 195.0,218.0 196.5,216.5 194.5,213.0 192.0,210.0 190.0,207.0 188.0,204.0 186.0,201.0 187.0,198.0 185.0,196.0 184.5,194.0 184.0,192.0 180.0,191.0 176.0,191.2 173.0,190.0 169.0,187.5 165.0,185.0 162.0,182.5 161.0,180.0 159.0,179.0 156.0,176.5 153.0,174.0 149.0,173.0 147.0,171.0 144.0,170.5 141.0,171.0 137.0,169.5 134.0,168.5 133.5,166.0 132.5,163.0 130.0,160.5 127.5,159.5 129.5,161.5 131.0,164.0 131.5,168.0 131.5,172.0 132.0,177.0 133.0,179.0 135.0,180.5 137.0,183.0 138.0,185.0 140.0,187.5 143.0,190.0 147.0,192.0 151.0,193.0 153.0,194.0 156.0,195.5 160.0,196.0 164.0,196.5 166.0,198.0 165.5,200.5 164.0,203.0 166.0,205.5 164.5,207.0 167.0,209.5 171.5,209.0 170.0,210.0 167.5,210.5 167.0,212.5 165.0,214.0 164.0,216.5 161.0,218.5 159.0,218.0 157.0,218.5 156.0,220.5 157.5,222.5 156.0,224.0 153.0,225.0 151.0,227.0 149.0,229.0 148.0,232.0 147.5,235.0 147.0,237.5 145.0,238.0 143.0,237.5 142.5,234.0 141.0,231.0 138.0,228.0 135.5,225.0 134.5,221.0 132.0,218.5 129.0,216.0 128.0,213.0 124.5,211.0 121.0,208.5 118.0,206.5 113.0,206.2 108.0,206.0 104.5,204.5 101.0,204.0 97.0,203.2 93.0,202.0 89.5,199.5 87.5,200.0 87.0,195.0 85.0,192.5 82.0,189.0 79.0,185.0 75.5,180.5 74.0,177.0 72.5,173.0 71.0,170.0 69.0,167.0 69.0,164.0 68.0,161.0 67.5,157.0 68.5,154.5 67.5,152.0 66.0,149.5 68.5,147.5 71.0,145.0 73.5,143.5 74.0,141.5 76.0,140.0 75.5,138.0 74.0,136.0 73.0,133.5 73.5,131.8 75.5,130.0 79.0,130.0 81.0,128.5 84.0,127.0 85.5,125.0 88.0,123.5 90.5,122.0 91.0,120.0 89.5,119.0 87.0,120.5 84.5,122.0 84.5,118.0 86.0,116.5 88.0,115.0 88.3,111.0 88.0,107.0 88.0,103.5 86.0,101.0 83.0,99.0 80.0,98.5 77.0,99.5 74.0,98.0 74.0,94.5 67.5,94.0 65.0,93.5 63.0,92.0 61.0,90.5 58.5,89.8 61.0,88.5 63.0,87.0 65.0,85.5 65.5,83.5 66.0,84.5 71.5,85.0 72.5,86.5 74.0,88.0 74.5,85.8 78.0,85.0 82.0,85.8 84.5,84.5 85.0,81.5 83.5,80.0 81.0,78.0 79.0,76.0 79.0,74.0 80.5,72.5 82.0,74.5 83.5,75.2 86.0,74.0 86.5,71.5 84.5,69.5 84.5,67.0 86.5,64.0 88.0,61.0 90.0,58.0 92.5,54.5 92.5,54.5"/>
<polyline points="138.5,177.0 140.5,176.0 143.5,176.2 145.5,177.5 145.5,179.5 143.5,180.8 140.5,180.8 138.5,179.5 138.5,177.0"/>
</g>
<polygon points="144.5,177.5 147.0,178.0 147.0,180.5 144.5,180.5" fill="#000" shape-rendering="crispEdges"/>
<polygon points="137.5,184.0 140.5,184.5 140.5,186.5 138.0,186.0" fill="#000" shape-rendering="crispEdges"/>
<polygon points="190.0,223.5 192.5,223.5 192.5,225.5 190.0,225.5" fill="#000" shape-rendering="crispEdges"/>
<polygon points="191.0,230.0 194.0,230.0 194.0,232.0 191.0,232.0" fill="#000" shape-rendering="crispEdges"/>
<rect x="375.5" y="402.5" width="2" height="5" fill="#afeeee" stroke="#000" stroke-width="1" shape-rendering="crispEdges"/>
<rect x="409.5" y="240.5" width="4" height="4" fill="#fff" shape-rendering="crispEdges"/><path d="M409.5 239.5 V244.5 M409.5 240 H412.5" stroke="#000" stroke-width="1" fill="none" shape-rendering="crispEdges"/>
<g shape-rendering="crispEdges" stroke="#000" stroke-width="1" fill="none">
<rect x="52.5" y="50.5" width="361" height="362"/>
<line x1="104.5" y1="408" x2="104.5" y2="412"/>
<line x1="104.5" y1="51" x2="104.5" y2="55"/>
<line x1="157.5" y1="408" x2="157.5" y2="412"/>
<line x1="157.5" y1="51" x2="157.5" y2="55"/>
<line x1="209.5" y1="408" x2="209.5" y2="412"/>
<line x1="209.5" y1="51" x2="209.5" y2="55"/>
<line x1="261.5" y1="408" x2="261.5" y2="412"/>
<line x1="261.5" y1="51" x2="261.5" y2="55"/>
<line x1="314.5" y1="408" x2="314.5" y2="412"/>
<line x1="314.5" y1="51" x2="314.5" y2="55"/>
<line x1="366.5" y1="408" x2="366.5" y2="412"/>
<line x1="366.5" y1="51" x2="366.5" y2="55"/>
<line x1="53" y1="356.5" x2="57" y2="356.5"/>
<line x1="409" y1="356.5" x2="413" y2="356.5"/>
<line x1="53" y1="301.5" x2="57" y2="301.5"/>
<line x1="409" y1="301.5" x2="413" y2="301.5"/>
<line x1="53" y1="245.5" x2="57" y2="245.5"/>
<line x1="409" y1="245.5" x2="413" y2="245.5"/>
<line x1="53" y1="189.5" x2="57" y2="189.5"/>
<line x1="409" y1="189.5" x2="413" y2="189.5"/>
<line x1="53" y1="134.5" x2="57" y2="134.5"/>
<line x1="409" y1="134.5" x2="413" y2="134.5"/>
<line x1="53" y1="78.5" x2="57" y2="78.5"/>
<line x1="409" y1="78.5" x2="413" y2="78.5"/>
</g>
<text transform="translate(71,35) scale(1,1.1)" text-anchor="start" font-family="'Liberation Mono','DejaVu Sans Mono',monospace" font-weight="bold" font-size="11.67px" stroke="#000" stroke-width="0.3" >Intensidad calculada el 2025/10/22_09:43:16_PM</text>
<text transform="translate(45,82.29999999999995) scale(1,1.1)" text-anchor="end" font-family="'Liberation Mono','DejaVu Sans Mono',monospace" font-weight="bold" font-size="11.67px" stroke="#000" stroke-width="0.3" >11</text>
<text transform="translate(45,138.0) scale(1,1.1)" text-anchor="end" font-family="'Liberation Mono','DejaVu Sans Mono',monospace" font-weight="bold" font-size="11.67px" stroke="#000" stroke-width="0.3" >10.5</text>
<text transform="translate(45,193.7) scale(1,1.1)" text-anchor="end" font-family="'Liberation Mono','DejaVu Sans Mono',monospace" font-weight="bold" font-size="11.67px" stroke="#000" stroke-width="0.3" >10</text>
<text transform="translate(45,249.39999999999998) scale(1,1.1)" text-anchor="end" font-family="'Liberation Mono','DejaVu Sans Mono',monospace" font-weight="bold" font-size="11.67px" stroke="#000" stroke-width="0.3" >9.5</text>
<text transform="translate(45,305.1) scale(1,1.1)" text-anchor="end" font-family="'Liberation Mono','DejaVu Sans Mono',monospace" font-weight="bold" font-size="11.67px" stroke="#000" stroke-width="0.3" >9</text>
<text transform="translate(45,360.8) scale(1,1.1)" text-anchor="end" font-family="'Liberation Mono','DejaVu Sans Mono',monospace" font-weight="bold" font-size="11.67px" stroke="#000" stroke-width="0.3" >8.5</text>
<text transform="translate(45,416.5) scale(1,1.1)" text-anchor="end" font-family="'Liberation Mono','DejaVu Sans Mono',monospace" font-weight="bold" font-size="11.67px" stroke="#000" stroke-width="0.3" >8</text>
<text transform="translate(52.0,431) scale(1,1.1)" text-anchor="middle" font-family="'Liberation Mono','DejaVu Sans Mono',monospace" font-weight="bold" font-size="11.67px" stroke="#000" stroke-width="0.3" >-86</text>
<text transform="translate(104.33500000000001,431) scale(1,1.1)" text-anchor="middle" font-family="'Liberation Mono','DejaVu Sans Mono',monospace" font-weight="bold" font-size="11.67px" stroke="#000" stroke-width="0.3" >-85.5</text>
<text transform="translate(156.67000000000002,431) scale(1,1.1)" text-anchor="middle" font-family="'Liberation Mono','DejaVu Sans Mono',monospace" font-weight="bold" font-size="11.67px" stroke="#000" stroke-width="0.3" >-85</text>
<text transform="translate(209.005,431) scale(1,1.1)" text-anchor="middle" font-family="'Liberation Mono','DejaVu Sans Mono',monospace" font-weight="bold" font-size="11.67px" stroke="#000" stroke-width="0.3" >-84.5</text>
<text transform="translate(261.34000000000003,431) scale(1,1.1)" text-anchor="middle" font-family="'Liberation Mono','DejaVu Sans Mono',monospace" font-weight="bold" font-size="11.67px" stroke="#000" stroke-width="0.3" >-84</text>
<text transform="translate(313.675,431) scale(1,1.1)" text-anchor="middle" font-family="'Liberation Mono','DejaVu Sans Mono',monospace" font-weight="bold" font-size="11.67px" stroke="#000" stroke-width="0.3" >-83.5</text>
<text transform="translate(366.01,431) scale(1,1.1)" text-anchor="middle" font-family="'Liberation Mono','DejaVu Sans Mono',monospace" font-weight="bold" font-size="11.67px" stroke="#000" stroke-width="0.3" >-83</text>
<defs><linearGradient id="cb" x1="0" y1="0" x2="0" y2="1">
<stop offset="0.0000" stop-color="#000000"/>
<stop offset="0.0120" stop-color="#000000"/>
<stop offset="0.0550" stop-color="#7a0000"/>
<stop offset="0.0920" stop-color="#e80000"/>
<stop offset="0.1150" stop-color="#ff1800"/>
<stop offset="0.1430" stop-color="#ff4800"/>
<stop offset="0.2150" stop-color="#ffa500"/>
<stop offset="0.2860" stop-color="#ffc800"/>
<stop offset="0.3450" stop-color="#ffff00"/>
<stop offset="0.3850" stop-color="#00e000"/>
<stop offset="0.4300" stop-color="#00ff40"/>
<stop offset="0.5000" stop-color="#00ff80"/>
<stop offset="0.5720" stop-color="#00ffc0"/>
<stop offset="0.6000" stop-color="#00ffff"/>
<stop offset="0.6500" stop-color="#0080ff"/>
<stop offset="0.7150" stop-color="#0000ff"/>
<stop offset="0.7900" stop-color="#5050e8"/>
<stop offset="0.8570" stop-color="#9494d4"/>
<stop offset="0.8900" stop-color="#c0c0c0"/>
<stop offset="1.0000" stop-color="#ffffff"/>
</linearGradient></defs>
<rect x="422.5" y="50.5" width="18" height="362" fill="url(#cb)" stroke="#000" stroke-width="1" shape-rendering="crispEdges"/>
<text transform="translate(454,416.8) scale(1,1.1)" text-anchor="start" font-family="'Liberation Mono','DejaVu Sans Mono',monospace" font-weight="bold" font-size="11.67px" stroke="#000" stroke-width="0.3" >0</text>
<line x1="423" y1="361.5" x2="427" y2="361.5" stroke="#000" shape-rendering="crispEdges"/>
<line x1="436" y1="361.5" x2="440" y2="361.5" stroke="#000" shape-rendering="crispEdges"/>
<text transform="translate(454,365.59000000000003) scale(1,1.1)" text-anchor="start" font-family="'Liberation Mono','DejaVu Sans Mono',monospace" font-weight="bold" font-size="11.67px" stroke="#000" stroke-width="0.3" >1</text>
<line x1="423" y1="309.5" x2="427" y2="309.5" stroke="#000" shape-rendering="crispEdges"/>
<line x1="436" y1="309.5" x2="440" y2="309.5" stroke="#000" shape-rendering="crispEdges"/>
<text transform="translate(454,313.88) scale(1,1.1)" text-anchor="start" font-family="'Liberation Mono','DejaVu Sans Mono',monospace" font-weight="bold" font-size="11.67px" stroke="#000" stroke-width="0.3" >2</text>
<line x1="423" y1="257.5" x2="427" y2="257.5" stroke="#000" shape-rendering="crispEdges"/>
<line x1="436" y1="257.5" x2="440" y2="257.5" stroke="#000" shape-rendering="crispEdges"/>
<text transform="translate(454,262.17) scale(1,1.1)" text-anchor="start" font-family="'Liberation Mono','DejaVu Sans Mono',monospace" font-weight="bold" font-size="11.67px" stroke="#000" stroke-width="0.3" >3</text>
<line x1="423" y1="206.5" x2="427" y2="206.5" stroke="#000" shape-rendering="crispEdges"/>
<line x1="436" y1="206.5" x2="440" y2="206.5" stroke="#000" shape-rendering="crispEdges"/>
<text transform="translate(454,210.46) scale(1,1.1)" text-anchor="start" font-family="'Liberation Mono','DejaVu Sans Mono',monospace" font-weight="bold" font-size="11.67px" stroke="#000" stroke-width="0.3" >4</text>
<line x1="423" y1="154.5" x2="427" y2="154.5" stroke="#000" shape-rendering="crispEdges"/>
<line x1="436" y1="154.5" x2="440" y2="154.5" stroke="#000" shape-rendering="crispEdges"/>
<text transform="translate(454,158.75) scale(1,1.1)" text-anchor="start" font-family="'Liberation Mono','DejaVu Sans Mono',monospace" font-weight="bold" font-size="11.67px" stroke="#000" stroke-width="0.3" >5</text>
<line x1="423" y1="102.5" x2="427" y2="102.5" stroke="#000" shape-rendering="crispEdges"/>
<line x1="436" y1="102.5" x2="440" y2="102.5" stroke="#000" shape-rendering="crispEdges"/>
<text transform="translate(454,107.04000000000003) scale(1,1.1)" text-anchor="start" font-family="'Liberation Mono','DejaVu Sans Mono',monospace" font-weight="bold" font-size="11.67px" stroke="#000" stroke-width="0.3" >6</text>
<text transform="translate(454,54.23) scale(1,1.1)" text-anchor="start" font-family="'Liberation Mono','DejaVu Sans Mono',monospace" font-weight="bold" font-size="11.67px" stroke="#000" stroke-width="0.3" >7</text>
<text transform="translate(476.3,109) rotate(-90) scale(1,1.08)" text-anchor="start" font-family="'Liberation Mono','DejaVu Sans Mono',monospace" font-weight="bold" font-size="11.67px" stroke="#000" stroke-width="0.3">Muy Fuerte</text>
<text transform="translate(476.3,174) rotate(-90) scale(1,1.08)" text-anchor="start" font-family="'Liberation Mono','DejaVu Sans Mono',monospace" font-weight="bold" font-size="11.67px" stroke="#000" stroke-width="0.3">Fuerte</text>
<text transform="translate(476.3,261.4) rotate(-90) scale(1,1.08)" text-anchor="start" font-family="'Liberation Mono','DejaVu Sans Mono',monospace" font-weight="bold" font-size="11.67px" stroke="#000" stroke-width="0.3">Moderado</text>
<text transform="translate(476.3,321.6) rotate(-90) scale(1,1.08)" text-anchor="start" font-family="'Liberation Mono','DejaVu Sans Mono',monospace" font-weight="bold" font-size="11.67px" stroke="#000" stroke-width="0.3">Debil</text>
<text transform="translate(476.3,412.5) rotate(-90) scale(1,1.08)" text-anchor="start" font-family="'Liberation Mono','DejaVu Sans Mono',monospace" font-weight="bold" font-size="11.67px" stroke="#000" stroke-width="0.3">No sentido</text>
<g shape-rendering="crispEdges">
<rect x="57" y="289" width="231" height="19" fill="#000"/>
<rect x="57.5" y="308.5" width="230" height="98" fill="#e6e6e6" stroke="#000" stroke-width="1"/>
</g>
<text x="164" y="304" text-anchor="middle" font-family="'Liberation Sans',Arial,sans-serif" font-size="13.4px" fill="#fff">INTENSIDAD JMA [0 a 7]</text>
<text x="60.6" y="324.7" font-family="'Liberation Sans',Arial,sans-serif" font-size="10.8px" fill="#000" style="white-space:pre" word-spacing="0.8px">[ 1 ]</text>
<text x="85.8" y="324.7" font-family="'Liberation Sans',Arial,sans-serif" font-size="10.7px" fill="#000" style="white-space:pre">OV-S Isidro.UNA (2.1 cm/s<tspan dy="-4.4" font-size="8.6px">2</tspan><tspan dy="4.4">)</tspan></text>
<text x="60.6" y="339.2" font-family="'Liberation Sans',Arial,sans-serif" font-size="10.8px" fill="#000" style="white-space:pre" word-spacing="0.8px">[ 0 ]</text>
<text x="85.8" y="339.2" font-family="'Liberation Sans',Arial,sans-serif" font-size="10.7px" fill="#000" style="white-space:pre">Palmar Norte (4.2 cm/s<tspan dy="-4.4" font-size="8.6px">2</tspan><tspan dy="4.4">)</tspan></text>
<text x="60.6" y="353.7" font-family="'Liberation Sans',Arial,sans-serif" font-size="10.8px" fill="#000" style="white-space:pre" word-spacing="0.8px">[ 0 ]</text>
<text x="85.8" y="353.7" font-family="'Liberation Sans',Arial,sans-serif" font-size="10.7px" fill="#000" style="white-space:pre">Esc. La Uvita. Osa (2.6 cm/s<tspan dy="-4.4" font-size="8.6px">2</tspan><tspan dy="4.4">)</tspan></text>
<text x="60.6" y="368.2" font-family="'Liberation Sans',Arial,sans-serif" font-size="10.8px" fill="#000" style="white-space:pre" word-spacing="0.8px">[ 0 ]</text>
<text x="85.8" y="368.2" font-family="'Liberation Sans',Arial,sans-serif" font-size="10.7px" fill="#000" style="white-space:pre">Rivas de Perez Zeledon (3.4 cm/s<tspan dy="-4.4" font-size="8.6px">2</tspan><tspan dy="4.4">)</tspan></text>
<text x="60.6" y="382.7" font-family="'Liberation Sans',Arial,sans-serif" font-size="10.8px" fill="#000" style="white-space:pre" word-spacing="0.8px">[ 0 ]</text>
<text x="85.8" y="382.7" font-family="'Liberation Sans',Arial,sans-serif" font-size="10.7px" fill="#000" style="white-space:pre">Bomberos Quepos (2.6 cm/s<tspan dy="-4.4" font-size="8.6px">2</tspan><tspan dy="4.4">)</tspan></text>
<text x="60.6" y="397.2" font-family="'Liberation Sans',Arial,sans-serif" font-size="10.8px" fill="#000" style="white-space:pre" word-spacing="0.8px">[ 0 ]</text>
<text x="85.8" y="397.2" font-family="'Liberation Sans',Arial,sans-serif" font-size="10.7px" fill="#000" style="white-space:pre">Puerto Cortes (1.6 cm/s<tspan dy="-4.4" font-size="8.6px">2</tspan><tspan dy="4.4">)</tspan></text>
<text x="3.8" y="446.3" font-family="'Liberation Sans',Arial,sans-serif" font-size="8.85px" fill="#000" stroke="#000" stroke-width="0.15">LISUCR 20251023034317</text>
<rect x="507" y="20.5" width="283" height="54.5" fill="#fff" stroke="none"/>
<svg x="507" y="20.5" width="283" height="54.5" viewBox="507 20.5 283 54.5" overflow="hidden">
<polyline points="508.00,57.20 774.50,57.20 774.50,57.64 774.66,57.06 774.78,57.68 774.87,57.18 774.99,57.64 775.07,56.73 775.17,57.75 775.31,56.85 775.39,58.10 775.52,57.10 775.65,57.23 775.77,57.15 775.85,57.30 775.93,56.95 776.04,57.84 776.16,56.95 776.30,57.73 776.41,57.20 776.51,58.10 776.67,57.18 776.81,57.30 776.91,56.96 776.98,57.24 777.14,55.69 777.25,60.01 777.32,56.44 777.41,58.63 777.58,56.30 777.69,59.09 777.83,56.26 777.93,58.35 778.10,56.50 778.24,58.03 778.32,56.44 778.40,57.47 778.53,56.30 778.64,60.39 778.73,49.08 778.86,61.36 778.95,53.48 779.05,66.61 779.15,55.47 779.31,58.48 779.46,52.13 779.60,69.83 779.69,48.02 779.78,57.85 779.88,52.66 779.96,62.91 780.06,53.59 780.19,61.05 780.35,53.21 780.47,66.17 780.56,52.68 780.65,64.89 780.74,52.23 780.83,57.98 780.92,45.56 781.09,62.10 781.20,52.75 781.28,69.24 781.38,54.23 781.52,57.59 781.65,48.34 781.75,60.62 781.83,50.47 781.92,65.77 782.05,53.87 782.15,59.93 782.22,55.64 782.32,58.74 782.41,56.66 782.52,59.39 782.62,56.14 782.78,63.76 782.92,56.40 783.05,57.96 783.12,56.28 783.28,60.64 783.35,46.44 783.49,64.24 783.59,56.42 783.76,62.03 783.90,54.75 784.06,57.74 784.21,50.64 784.37,61.00 784.53,52.13 784.68,63.52 784.84,53.60 784.96,60.02 785.09,54.40 785.22,62.21 785.39,54.46 785.55,57.73 785.69,53.36 785.82,64.10 785.90,54.50 786.04,62.31 786.16,56.24 786.25,58.62 786.38,53.01 786.54,57.22 786.64,56.64 786.78,57.86 786.94,55.07 787.08,64.33 787.18,54.49 787.32,58.41 787.46,53.64 787.62,59.72 787.75,54.86 787.85,59.86 788.01,54.17 788.16,59.20 788.26,49.19 788.35,59.76 788.44,56.38 788.55,59.92 788.65,54.47 788.81,60.75 788.89,56.80 788.96,57.85" fill="none" stroke="#006400" stroke-width="0.45" stroke-opacity="1" stroke-linejoin="bevel"/>
<polyline points="778.80,57.20 779.29,24.50 779.50,60.89 779.64,29.41 779.85,69.50 780.20,57.20" fill="none" stroke="#006400" stroke-width="0.5850000000000001" stroke-opacity="1" stroke-linejoin="bevel"/>
<polyline points="781.00,57.20 781.42,41.00 781.60,61.94 781.72,43.43 781.90,73.00 782.20,57.20" fill="none" stroke="#006400" stroke-width="0.5850000000000001" stroke-opacity="1" stroke-linejoin="bevel"/>
<polyline points="784.00,57.20 784.42,43.00 784.60,61.34 784.72,45.13 784.90,71.00 785.20,57.20" fill="none" stroke="#006400" stroke-width="0.5850000000000001" stroke-opacity="1" stroke-linejoin="bevel"/>
<polyline points="785.80,57.20 786.15,46.00 786.30,59.84 786.40,47.68 786.55,66.00 786.80,57.20" fill="none" stroke="#006400" stroke-width="0.5850000000000001" stroke-opacity="1" stroke-linejoin="bevel"/>
</svg>
<rect x="507" y="20.5" width="283" height="54.5" fill="none" stroke="#000" stroke-width="1.8"/>
<line x1="509.40" y1="15.0" x2="509.40" y2="19.5" stroke="#000" stroke-width="0.8"/>
<line x1="509.40" y1="76.0" x2="509.40" y2="80.5" stroke="#000" stroke-width="0.8"/>
<text x="509.40" y="92.2" text-anchor="middle" font-family="'Liberation Sans',Arial,sans-serif" font-size="10px">15</text>
<line x1="533.10" y1="15.0" x2="533.10" y2="19.5" stroke="#000" stroke-width="0.8"/>
<line x1="533.10" y1="76.0" x2="533.10" y2="80.5" stroke="#000" stroke-width="0.8"/>
<text x="533.10" y="92.2" text-anchor="middle" font-family="'Liberation Sans',Arial,sans-serif" font-size="10px">20</text>
<line x1="556.80" y1="15.0" x2="556.80" y2="19.5" stroke="#000" stroke-width="0.8"/>
<line x1="556.80" y1="76.0" x2="556.80" y2="80.5" stroke="#000" stroke-width="0.8"/>
<text x="556.80" y="92.2" text-anchor="middle" font-family="'Liberation Sans',Arial,sans-serif" font-size="10px">25</text>
<line x1="580.50" y1="15.0" x2="580.50" y2="19.5" stroke="#000" stroke-width="0.8"/>
<line x1="580.50" y1="76.0" x2="580.50" y2="80.5" stroke="#000" stroke-width="0.8"/>
<text x="580.50" y="92.2" text-anchor="middle" font-family="'Liberation Sans',Arial,sans-serif" font-size="10px">30</text>
<line x1="604.20" y1="15.0" x2="604.20" y2="19.5" stroke="#000" stroke-width="0.8"/>
<line x1="604.20" y1="76.0" x2="604.20" y2="80.5" stroke="#000" stroke-width="0.8"/>
<text x="604.20" y="92.2" text-anchor="middle" font-family="'Liberation Sans',Arial,sans-serif" font-size="10px">35</text>
<line x1="627.90" y1="15.0" x2="627.90" y2="19.5" stroke="#000" stroke-width="0.8"/>
<line x1="627.90" y1="76.0" x2="627.90" y2="80.5" stroke="#000" stroke-width="0.8"/>
<text x="627.90" y="92.2" text-anchor="middle" font-family="'Liberation Sans',Arial,sans-serif" font-size="10px">40</text>
<line x1="651.60" y1="15.0" x2="651.60" y2="19.5" stroke="#000" stroke-width="0.8"/>
<line x1="651.60" y1="76.0" x2="651.60" y2="80.5" stroke="#000" stroke-width="0.8"/>
<text x="651.60" y="92.2" text-anchor="middle" font-family="'Liberation Sans',Arial,sans-serif" font-size="10px">45</text>
<line x1="675.30" y1="15.0" x2="675.30" y2="19.5" stroke="#000" stroke-width="0.8"/>
<line x1="675.30" y1="76.0" x2="675.30" y2="80.5" stroke="#000" stroke-width="0.8"/>
<text x="675.30" y="92.2" text-anchor="middle" font-family="'Liberation Sans',Arial,sans-serif" font-size="10px">50</text>
<line x1="699.00" y1="15.0" x2="699.00" y2="19.5" stroke="#000" stroke-width="0.8"/>
<line x1="699.00" y1="76.0" x2="699.00" y2="80.5" stroke="#000" stroke-width="0.8"/>
<text x="699.00" y="92.2" text-anchor="middle" font-family="'Liberation Sans',Arial,sans-serif" font-size="10px">55</text>
<line x1="722.70" y1="15.0" x2="722.70" y2="19.5" stroke="#000" stroke-width="0.8"/>
<line x1="722.70" y1="76.0" x2="722.70" y2="80.5" stroke="#000" stroke-width="0.8"/>
<text x="722.70" y="92.2" text-anchor="middle" font-family="'Liberation Sans',Arial,sans-serif" font-size="10px">00</text>
<line x1="746.40" y1="15.0" x2="746.40" y2="19.5" stroke="#000" stroke-width="0.8"/>
<line x1="746.40" y1="76.0" x2="746.40" y2="80.5" stroke="#000" stroke-width="0.8"/>
<text x="746.40" y="92.2" text-anchor="middle" font-family="'Liberation Sans',Arial,sans-serif" font-size="10px">05</text>
<line x1="770.10" y1="15.0" x2="770.10" y2="19.5" stroke="#000" stroke-width="0.8"/>
<line x1="770.10" y1="76.0" x2="770.10" y2="80.5" stroke="#000" stroke-width="0.8"/>
<text x="770.10" y="92.2" text-anchor="middle" font-family="'Liberation Sans',Arial,sans-serif" font-size="10px">10</text>
<text x="799.3" y="33" font-family="'Liberation Sans',Arial,sans-serif" font-size="10px" font-weight="bold" fill="#0000ff">OV–S Isidro,UNA</text>
<text x="799.3" y="57" font-family="'Liberation Sans',Arial,sans-serif" font-size="10px">Acel. Max. 0.4</text>
<text x="799.3" y="74" font-family="'Liberation Sans',Arial,sans-serif" font-size="10px">Int JMA: 0</text>
<rect x="507" y="100.2" width="283" height="54.5" fill="#fff" stroke="none"/>
<svg x="507" y="100.2" width="283" height="54.5" viewBox="507 100.2 283 54.5" overflow="hidden">
<polyline points="508.00,127.74 508.15,128.04 508.30,127.95 508.45,127.91 508.60,128.17 508.75,128.01 508.90,127.95 509.05,128.32 509.20,127.91 509.35,127.77 509.50,127.75 509.65,127.91 509.80,128.12 509.95,128.15 510.10,128.20 510.25,128.33 510.40,128.31 510.55,128.12 510.70,128.24 510.85,128.12 511.00,127.90 511.15,128.16 511.30,128.02 511.45,127.97 511.60,128.37 511.75,128.15 511.90,127.92 512.05,128.00 512.20,128.43 512.35,127.96 512.50,128.14 512.65,128.12 512.80,128.10 512.95,128.12 513.10,127.92 513.25,127.93 513.40,127.98 513.55,127.94 513.70,128.16 513.85,128.29 514.00,127.85 514.15,128.11 514.30,127.83 514.45,127.88 514.60,127.97 514.75,128.03 514.90,127.93 515.05,127.53 515.20,128.26 515.35,127.96 515.50,127.89 515.65,128.13 515.80,127.90 515.95,127.75 516.10,128.10 516.25,128.09 516.40,127.86 516.55,128.16 516.70,128.08 516.85,127.80 517.00,128.33 517.15,128.06 517.30,127.80 517.45,128.09 517.60,128.03 517.75,128.19 517.90,127.76 518.05,128.20 518.20,128.18 518.35,128.14 518.50,128.12 518.65,128.25 518.80,128.14 518.95,128.03 519.10,127.86 519.25,128.21 519.40,128.19 519.55,128.06 519.70,128.04 519.85,128.14 520.00,127.55 520.15,128.07 520.30,127.55 520.45,128.05 520.60,128.20 520.75,128.36 520.90,127.92 521.05,128.09 521.20,128.00 521.35,127.60 521.50,128.14 521.65,128.01 521.80,128.02 521.95,127.84 522.10,128.00 522.25,128.02 522.40,128.24 522.55,128.06 522.70,128.65 522.85,127.93 523.00,127.96 523.15,128.00 523.30,127.86 523.45,128.28 523.60,128.13 523.75,127.78 523.90,128.03 524.05,128.22 524.20,127.75 524.35,128.04 524.50,127.97 524.65,128.43 524.80,128.08 524.95,127.93 525.10,127.91 525.25,128.35 525.40,127.92 525.55,128.43 525.70,127.72 525.85,127.97 526.00,127.96 526.15,127.88 526.30,127.97 526.45,128.13 526.60,127.89 526.75,127.75 526.90,128.25 527.05,128.28 527.20,127.88 527.35,128.06 527.50,127.54 527.65,128.20 527.80,127.77 527.95,127.91 528.10,128.40 528.25,127.78 528.40,128.01 528.55,127.81 528.70,127.67 528.85,127.80 529.00,128.06 529.15,127.77 529.30,127.90 529.45,128.14 529.60,127.98 529.75,127.77 529.90,128.28 530.05,128.03 530.20,128.26 530.35,127.82 530.50,128.32 530.65,127.76 530.80,127.69 530.95,127.93 531.10,127.94 531.25,128.06 531.40,127.91 531.55,128.12 531.70,128.25 531.85,127.89 532.00,127.76 532.15,127.94 532.30,128.16 532.45,128.16 532.60,127.94 532.75,127.83 532.90,128.00 533.05,128.18 533.20,127.88 533.35,128.24 533.50,128.05 533.65,128.06 533.80,127.89 533.95,128.26 534.10,128.02 534.25,127.74 534.40,128.16 534.55,127.93 534.70,128.20 534.85,128.04 535.00,127.89 535.15,128.04 535.30,127.92 535.45,127.86 535.60,128.01 535.75,128.16 535.90,128.02 536.05,127.99 536.20,127.91 536.35,128.11 536.50,128.06 536.65,128.18 536.80,128.07 536.95,128.40 537.10,127.72 537.25,128.00 537.40,128.11 537.55,128.17 537.70,127.73 537.85,127.79 538.00,128.00 538.15,128.20 538.30,128.21 538.45,127.73 538.60,128.03 538.75,128.22 538.90,128.01 539.05,127.82 539.20,127.88 539.35,127.76 539.50,128.23 539.65,127.96 539.80,127.93 539.95,127.85 540.10,127.98 540.25,127.84 540.40,127.83 540.55,128.00 540.70,127.97 540.85,128.09 541.00,128.03 541.15,128.22 541.30,128.00 541.45,128.06 541.60,128.05 541.75,127.86 541.90,128.22 542.05,127.90 542.20,127.72 542.35,128.23 542.50,128.13 542.65,127.90 542.80,128.18 542.95,128.18 543.10,128.14 543.25,127.79 543.40,128.04 543.55,127.82 543.70,127.90 543.85,127.91 544.00,127.85 544.15,128.10 544.30,127.86 544.45,128.12 544.60,128.04 544.75,127.90 544.90,128.04 545.05,128.13 545.20,128.22 545.35,127.96 545.50,128.32 545.65,128.11 545.80,128.23 545.95,127.76 546.10,127.81 546.25,128.23 546.40,127.97 546.55,128.09 546.70,128.23 546.85,127.74 547.00,128.09 547.15,128.36 547.30,128.15 547.45,128.02 547.60,128.11 547.75,128.01 547.90,128.15 548.05,128.24 548.20,127.97 548.35,128.11 548.50,128.06 548.65,128.14 548.80,128.16 548.95,127.81 549.10,128.22 549.25,128.16 549.40,127.81 549.55,127.96 549.70,127.74 549.85,127.95 550.00,128.07 550.15,127.80 550.30,127.87 550.45,127.85 550.60,127.88 550.75,127.87 550.90,127.81 551.05,128.11 551.20,127.97 551.35,127.86 551.50,128.19 551.65,127.90 551.80,128.17 551.95,127.78 552.10,128.26 552.25,127.93 552.40,127.84 552.55,128.08 552.70,127.76 552.85,127.81 553.00,128.05 553.15,127.92 553.30,128.08 553.45,128.03 553.60,128.05 553.75,128.03 553.90,128.14 554.05,128.01 554.20,128.21 554.35,128.18 554.50,127.65 554.65,127.69 554.80,128.29 554.95,127.93 555.10,128.04 555.25,127.99 555.40,128.06 555.55,128.41 555.70,127.88 555.85,128.02 556.00,128.01 556.15,127.81 556.30,127.85 556.45,127.96 556.60,128.00 556.75,128.08 556.90,127.65 557.05,127.72 557.20,128.31 557.35,127.97 557.50,128.16 557.65,127.93 557.80,127.88 557.95,128.39 558.10,127.78 558.25,127.84 558.40,128.13 558.55,128.01 558.70,127.71 558.85,128.03 559.00,128.14 559.15,127.73 559.30,127.91 559.45,128.15 559.60,128.35 559.75,127.59 559.90,127.88 560.05,128.01 560.20,127.84 560.35,127.84 560.50,127.92 560.65,128.10 560.80,127.81 560.95,128.16 561.10,128.16 561.25,128.16 561.40,128.28 561.55,127.91 561.70,128.00 561.85,128.19 562.00,128.24 562.15,128.18 562.30,127.93 562.45,127.92 562.60,127.77 562.75,127.93 562.90,127.84 563.05,127.92 563.20,127.94 563.35,128.16 563.50,128.16 563.65,128.00 563.80,127.80 563.95,128.00 564.10,128.08 564.25,128.16 564.40,128.04 564.55,128.15 564.70,127.89 564.85,128.12 565.00,128.14 565.15,127.94 565.30,127.87 565.45,128.23 565.60,127.83 565.75,128.13 565.90,127.96 566.05,127.94 566.20,127.96 566.35,127.93 566.50,128.00 566.65,128.33 566.80,128.27 566.95,127.98 567.10,128.09 567.25,128.17 567.40,127.93 567.55,128.34 567.70,128.01 567.85,128.12 568.00,127.83 568.15,127.80 568.30,127.83 568.45,127.89 568.60,128.19 568.75,127.95 568.90,128.17 569.05,127.93 569.20,127.83 569.35,128.04 569.50,127.93 569.65,127.71 569.80,128.01 569.95,128.22 570.10,127.97 570.25,127.79 570.40,127.87 570.55,127.79 570.70,127.96 570.85,127.84 571.00,127.99 571.15,128.04 571.30,128.25 571.45,127.80 571.60,127.64 571.75,128.30 571.90,128.08 572.05,127.94 572.20,128.10 572.35,127.84 572.50,127.95 572.65,128.13 572.80,127.95 572.95,128.03 573.10,128.09 573.25,128.03 573.40,127.96 573.55,128.10 573.70,128.25 573.85,128.24 574.00,127.85 574.15,128.14 574.30,127.66 574.45,127.75 574.60,128.08 574.75,128.10 574.90,128.25 575.05,127.70 575.20,128.20 575.35,127.91 575.50,127.92 575.65,128.09 575.80,128.26 575.95,127.84 576.10,127.70 576.25,127.90 576.40,127.99 576.55,128.22 576.70,128.07 576.85,127.95 577.00,127.91 577.15,127.92 577.30,128.18 577.45,127.71 577.60,127.88 577.75,127.85 577.90,128.21 578.05,128.03 578.20,127.88 578.35,128.14 578.50,128.36 578.65,128.19 578.80,127.77 578.95,127.97 579.10,128.21 579.25,127.68 579.40,127.79 579.55,127.93 579.70,128.10 579.85,127.86 580.00,128.03 580.15,127.98 580.30,128.06 580.45,127.79 580.60,127.61 580.75,127.62 580.90,128.03 581.05,128.18 581.20,128.09 581.35,127.72 581.50,127.69 581.65,127.95 581.80,127.84 581.95,127.67 582.10,127.90 582.25,127.86 582.40,127.98 582.55,128.07 582.70,128.04 582.85,128.04 583.00,128.10 583.15,127.98 583.30,127.92 583.45,127.94 583.60,128.22 583.75,127.95 583.90,128.15 584.05,128.30 584.20,128.32 584.35,127.62 584.50,128.03 584.65,128.18 584.80,127.92 584.95,127.88 585.10,127.75 585.25,127.88 585.40,128.00 585.55,127.66 585.70,128.00 585.85,127.85 586.00,128.01 586.15,127.81 586.30,128.02 586.45,128.03 586.60,127.88 586.75,127.88 586.90,128.17 587.05,128.12 587.20,127.86 587.35,128.08 587.50,127.80 587.65,127.91 587.80,127.48 587.95,127.90 588.10,128.13 588.25,127.91 588.40,128.11 588.55,127.89 588.70,128.06 588.85,127.98 589.00,127.83 589.15,128.38 589.30,127.85 589.45,127.76 589.60,128.03 589.75,128.09 589.90,128.06 590.05,127.98 590.20,128.09 590.35,128.17 590.50,128.11 590.65,127.75 590.80,128.31 590.95,128.00 591.10,127.63 591.25,128.15 591.40,127.98 591.55,128.05 591.70,128.36 591.85,127.91 592.00,127.89 592.15,127.83 592.30,128.04 592.45,128.12 592.60,128.07 592.75,128.03 592.90,127.62 593.05,128.05 593.20,128.20 593.35,127.91 593.50,127.91 593.65,127.82 593.80,128.05 593.95,127.72 594.10,128.35 594.25,127.97 594.40,127.89 594.55,127.78 594.70,128.10 594.85,128.18 595.00,127.90 595.15,128.03 595.30,128.06 595.45,128.18 595.60,128.11 595.75,128.22 595.90,127.75 596.05,128.47 596.20,127.91 596.35,127.80 596.50,127.84 596.65,128.07 596.80,128.14 596.95,128.44 597.10,128.22 597.25,127.87 597.40,127.94 597.55,127.92 597.70,127.89 597.85,127.97 598.00,127.89 598.15,128.21 598.30,128.06 598.45,128.12 598.60,127.97 598.75,127.79 598.90,128.08 599.05,127.93 599.20,128.36 599.35,128.22 599.50,127.79 599.65,127.83 599.80,127.90 599.95,127.96 600.10,128.21 600.25,127.97 600.40,128.09 600.55,127.95 600.70,127.96 600.85,128.22 601.00,128.01 601.15,128.36 601.30,128.00 601.45,128.07 601.60,128.07 601.75,128.12 601.90,128.35 602.05,127.88 602.20,127.91 602.35,127.83 602.50,128.33 602.65,128.09 602.80,128.08 602.95,128.09 603.10,127.67 603.25,128.14 603.40,128.03 603.55,128.06 603.70,128.02 603.85,127.99 604.00,127.99 604.15,127.90 604.30,127.96 604.45,128.12 604.60,127.62 604.75,128.15 604.90,128.12 605.05,127.81 605.20,128.10 605.35,128.06 605.50,127.91 605.65,128.31 605.80,128.04 605.95,127.98 606.10,127.77 606.25,128.39 606.40,128.04 606.55,128.06 606.70,127.96 606.85,128.38 607.00,127.98 607.15,128.29 607.30,128.19 607.45,128.18 607.60,128.12 607.75,128.21 607.90,127.98 608.05,127.63 608.20,127.52 608.35,128.20 608.50,127.63 608.65,128.24 608.80,128.56 608.95,127.66 609.10,128.11 609.25,128.09 609.40,127.88 609.55,127.65 609.70,127.99 609.85,128.31 610.00,127.98 610.15,128.00 610.30,128.02 610.45,128.01 610.60,128.06 610.75,128.41 610.90,127.85 611.05,127.68 611.20,128.16 611.35,127.91 611.50,127.91 611.65,127.75 611.80,127.97 611.95,127.93 612.10,128.08 612.25,127.93 612.40,127.74 612.55,128.09 612.70,127.99 612.85,127.66 613.00,127.94 613.15,128.14 613.30,127.99 613.45,127.94 613.60,128.11 613.75,127.89 613.90,127.88 614.05,128.10 614.20,127.97 614.35,127.89 614.50,128.04 614.65,128.05 614.80,128.17 614.95,128.18 615.10,128.02 615.25,128.00 615.40,127.84 615.55,128.04 615.70,127.94 615.85,128.15 616.00,128.15 616.15,128.12 616.30,127.99 616.45,128.06 616.60,128.27 616.75,128.31 616.90,127.90 617.05,127.50 617.20,128.12 617.35,127.73 617.50,128.01 617.65,128.09 617.80,128.27 617.95,127.97 618.10,127.98 618.25,127.90 618.40,128.06 618.55,127.78 618.70,128.11 618.85,128.06 619.00,128.25 619.15,127.95 619.30,128.06 619.45,128.04 619.60,128.00 619.75,127.83 619.90,127.90 620.05,128.01 620.20,128.09 620.35,128.19 620.50,127.90 620.65,128.05 620.80,128.11 620.95,128.16 621.10,128.05 621.25,128.04 621.40,127.94 621.55,128.01 621.70,127.97 621.85,127.69 622.00,127.88 622.15,127.57 622.30,128.10 622.45,128.16 622.60,127.94 622.75,128.04 622.90,128.03 623.05,127.96 623.20,128.27 623.35,127.97 623.50,128.06 623.65,127.99 623.80,128.36 623.95,127.71 624.10,128.04 624.25,127.77 624.40,127.88 624.55,127.83 624.70,128.14 624.85,127.81 625.00,127.82 625.15,127.95 625.30,127.83 625.45,127.83 625.60,128.29 625.75,127.89 625.90,127.86 626.05,128.25 626.20,128.02 626.35,128.21 626.50,127.71 626.65,127.95 626.80,128.09 626.95,128.04 627.10,128.10 627.25,128.23 627.40,128.11 627.55,128.20 627.70,128.14 627.85,127.87 628.00,128.04 628.15,128.24 628.30,127.84 628.45,128.10 628.60,128.12 628.75,128.25 628.90,127.71 629.05,128.43 629.20,127.73 629.35,128.01 629.50,128.46 629.65,127.76 629.80,128.41 629.95,128.06 630.10,128.35 630.25,128.27 630.40,128.03 630.55,127.87 630.70,127.95 630.85,127.77 631.00,127.76 631.15,128.07 631.30,127.75 631.45,128.07 631.60,127.99 631.75,127.98 631.90,127.82 632.05,127.78 632.20,128.15 632.35,127.83 632.50,127.90 632.65,127.97 632.80,128.13 632.95,128.36 633.10,128.36 633.25,128.15 633.40,128.13 633.55,128.12 633.70,127.97 633.85,127.97 634.00,127.70 634.15,128.11 634.30,127.92 634.45,128.07 634.60,128.41 634.75,128.16 634.90,128.21 635.05,128.16 635.20,127.91 635.35,127.89 635.50,127.74 635.65,127.90 635.80,128.04 635.95,128.13 636.10,128.11 636.25,127.94 636.40,127.80 636.55,128.01 636.70,128.06 636.85,127.65 637.00,128.02 637.15,127.75 637.30,127.92 637.45,127.98 637.60,127.83 637.75,127.91 637.90,128.01 638.05,127.83 638.20,128.13 638.35,128.12 638.50,128.10 638.65,127.82 638.80,127.97 638.95,127.95 639.10,128.03 639.25,128.14 639.40,127.91 639.55,128.01 639.70,128.15 639.85,127.95 640.00,128.13 640.15,128.00 640.30,127.75 640.45,128.00 640.60,128.03 640.75,127.93 640.90,128.35 641.05,127.94 641.20,127.74 641.35,127.98 641.50,127.96 641.65,128.10 641.80,128.46 641.95,128.03 642.10,128.15 642.25,127.88 642.40,127.84 642.55,127.88 642.70,127.97 642.85,127.92 643.00,128.00 643.15,127.89 643.30,127.79 643.45,127.86 643.60,128.14 643.75,127.80 643.90,128.14 644.05,128.30 644.20,127.84 644.35,128.16 644.50,128.15 644.65,127.53 644.80,128.16 644.95,128.12 645.10,127.86 645.25,128.32 645.40,127.68 645.55,128.24 645.70,128.05 645.85,127.82 646.00,128.02 646.15,127.73 646.30,128.11 646.45,128.10 646.60,128.22 646.75,128.26 646.90,127.88 647.05,128.09 647.20,127.89 647.35,127.48 647.50,128.17 647.65,128.21 647.80,128.04 647.95,128.32 648.10,127.99 648.25,127.69 648.40,127.92 648.55,127.95 648.70,128.05 648.85,127.93 649.00,127.60 649.15,127.78 649.30,127.98 649.45,128.20 649.60,127.88 649.75,127.77 649.90,127.92 650.05,128.17 650.20,128.23 650.35,127.83 650.50,128.13 650.65,128.24 650.80,128.15 650.95,127.80 651.10,128.11 651.25,127.91 651.40,127.91 651.55,128.35 651.70,128.00 651.85,128.09 652.00,128.22 652.15,128.30 652.30,128.05 652.45,127.89 652.60,127.99 652.75,127.88 652.90,127.98 653.05,127.98 653.20,127.73 653.35,127.86 653.50,127.75 653.65,127.99 653.80,128.15 653.95,128.13 654.10,128.04 654.25,127.83 654.40,127.99 654.55,127.76 654.70,128.11 654.85,127.72 655.00,127.89 655.15,128.31 655.30,128.08 655.45,127.83 655.60,127.96 655.75,127.82 655.90,127.86 656.05,127.93 656.20,127.85 656.35,128.04 656.50,128.20 656.65,127.85 656.80,127.83 656.95,127.86 657.10,127.89 657.25,128.02 657.40,127.88 657.55,127.84 657.70,127.88 657.85,128.18 658.00,128.18 658.15,128.19 658.30,128.04 658.45,127.83 658.60,128.25 658.75,128.40 658.90,127.88 659.05,127.89 659.20,128.20 659.35,128.13 659.50,128.07 659.65,128.38 659.80,127.97 659.95,127.86 660.10,127.94 660.25,128.04 660.40,128.04 660.55,128.23 660.70,128.14 660.85,127.87 661.00,128.13 661.15,127.97 661.30,128.27 661.45,128.21 661.60,127.90 661.75,128.10 661.90,127.77 662.05,128.08 662.20,128.02 662.35,128.08 662.50,127.78 662.65,127.85 662.80,127.90 662.95,127.96 663.10,128.12 663.25,127.85 663.40,127.64 663.55,127.90 663.70,128.14 663.85,128.16 664.00,127.77 664.15,128.12 664.30,128.02 664.45,128.13 664.60,128.03 664.75,128.23 664.90,127.87 665.05,128.39 665.20,128.20 665.35,127.79 665.50,127.72 665.65,128.19 665.80,127.72 665.95,127.86 666.10,128.09 666.25,127.97 666.40,128.03 666.55,127.61 666.70,127.86 666.85,128.09 667.00,128.38 667.15,128.08 667.30,128.01 667.45,128.02 667.60,128.18 667.75,128.12 667.90,127.84 668.05,127.64 668.20,127.96 668.35,127.93 668.50,128.33 668.65,127.84 668.80,128.14 668.95,127.64 669.10,128.14 669.25,127.77 669.40,128.00 669.55,127.96 669.70,128.02 669.85,128.00 670.00,127.79 670.15,128.11 670.30,127.84 670.45,127.99 670.60,127.84 670.75,127.99 670.90,127.98 671.05,127.96 671.20,127.85 671.35,128.22 671.50,127.97 671.65,128.01 671.80,127.60 671.95,128.10 672.10,127.71 672.25,127.96 672.40,127.63 672.55,128.34 672.70,127.68 672.85,127.95 673.00,127.77 673.15,127.77 673.30,127.68 673.45,128.26 673.60,128.38 673.75,127.97 673.90,128.14 674.05,127.91 674.20,127.80 674.35,128.32 674.50,128.11 674.65,127.79 674.80,127.97 674.95,127.99 675.10,127.94 675.25,127.98 675.40,127.87 675.55,127.98 675.70,127.92 675.85,127.93 676.00,127.86 676.15,128.27 676.30,127.92 676.45,127.95 676.60,128.04 676.75,128.00 676.90,127.76 677.05,128.15 677.20,127.77 677.35,127.87 677.50,128.07 677.65,127.95 677.80,127.86 677.95,127.99 678.10,127.84 678.25,127.88 678.40,127.78 678.55,127.77 678.70,127.81 678.85,128.00 679.00,127.90 679.15,127.96 679.30,128.15 679.45,127.91 679.60,127.66 679.75,128.00 679.90,128.31 680.05,127.46 680.20,127.94 680.35,127.79 680.50,127.72 680.65,128.13 680.80,127.98 680.95,127.98 681.10,127.75 681.25,127.90 681.40,127.79 681.55,128.26 681.70,127.98 681.85,127.63 682.00,127.93 682.15,128.26 682.30,127.85 682.45,127.94 682.60,127.98 682.75,128.07 682.90,128.07 683.05,127.88 683.20,127.92 683.35,128.11 683.50,127.80 683.65,127.93 683.80,128.05 683.95,127.95 684.10,127.81 684.25,128.29 684.40,128.02 684.55,127.94 684.70,127.46 684.85,128.19 685.00,128.16 685.15,127.98 685.30,127.99 685.45,127.84 685.60,128.35 685.75,128.15 685.90,128.40 686.05,128.40 686.20,127.66 686.35,128.11 686.50,127.62 686.65,128.06 686.80,128.00 686.95,127.89 687.10,128.11 687.25,128.02 687.40,127.93 687.55,127.95 687.70,128.16 687.85,128.08 688.00,128.15 688.15,128.05 688.30,127.91 688.45,127.91 688.60,128.04 688.75,127.86 688.90,127.88 689.05,128.14 689.20,128.03 689.35,127.95 689.50,128.03 689.65,127.93 689.80,128.23 689.95,127.96 690.10,128.00 690.25,127.78 690.40,127.87 690.55,127.76 690.70,128.07 690.85,128.09 691.00,128.11 691.15,127.93 691.30,128.00 691.45,128.06 691.60,127.93 691.75,127.69 691.90,128.35 692.05,128.08 692.20,128.16 692.35,128.14 692.50,127.86 692.65,127.99 692.80,127.91 692.95,128.19 693.10,128.03 693.25,127.87 693.40,128.05 693.55,128.49 693.70,127.99 693.85,128.08 694.00,128.37 694.15,127.83 694.30,128.05 694.45,128.22 694.60,128.11 694.75,127.89 694.90,127.99 695.05,128.01 695.20,128.17 695.35,128.18 695.50,127.64 695.65,128.01 695.80,127.87 695.95,128.05 696.10,127.92 696.25,128.06 696.40,127.73 696.55,128.03 696.70,128.10 696.85,128.22 697.00,128.28 697.15,128.00 697.30,127.89 697.45,128.24 697.60,128.07 697.75,128.06 697.90,128.10 698.05,127.74 698.20,127.84 698.35,127.84 698.50,127.80 698.65,128.28 698.80,127.67 698.95,127.97 699.10,127.98 699.25,127.84 699.40,128.07 699.55,127.85 699.70,127.74 699.85,127.77 700.00,128.24 700.15,127.93 700.30,128.03 700.45,128.10 700.60,128.07 700.75,127.86 700.90,128.14 701.05,128.19 701.20,127.74 701.35,128.15 701.50,128.09 701.65,128.19 701.80,128.11 701.95,127.97 702.10,127.86 702.25,128.12 702.40,128.07 702.55,128.07 702.70,127.91 702.85,128.21 703.00,128.17 703.15,128.19 703.30,127.89 703.45,128.11 703.60,128.18 703.75,127.76 703.90,127.87 704.05,128.05 704.20,127.74 704.35,127.98 704.50,128.02 704.65,127.74 704.80,128.11 704.95,128.00 705.10,128.23 705.25,127.99 705.40,127.91 705.55,127.99 705.70,128.08 705.85,127.67 706.00,127.95 706.15,128.13 706.30,128.14 706.45,128.07 706.60,127.80 706.75,127.98 706.90,128.08 707.05,128.00 707.20,128.03 707.35,128.34 707.50,128.35 707.65,127.92 707.80,127.83 707.95,128.01 708.10,128.24 708.25,127.82 708.40,127.83 708.55,127.78 708.70,128.20 708.85,127.92 709.00,127.99 709.15,128.29 709.30,128.12 709.45,127.95 709.60,127.77 709.75,128.20 709.90,128.02 710.05,127.94 710.20,128.05 710.35,127.87 710.50,128.04 710.65,128.04 710.80,127.81 710.95,128.05 711.10,128.11 711.25,128.26 711.40,128.16 711.55,128.38 711.70,128.16 711.85,128.00 712.00,128.07 712.15,128.01 712.30,127.84 712.45,127.96 712.60,128.03 712.75,127.82 712.90,128.00 713.05,128.11 713.20,128.31 713.35,127.98 713.50,127.95 713.65,127.88 713.80,127.72 713.95,128.11 714.10,127.91 714.25,127.88 714.40,127.81 714.55,128.27 714.70,128.24 714.85,128.09 715.00,127.94 715.15,127.79 715.30,127.61 715.45,127.87 715.60,127.86 715.75,128.27 715.90,127.95 716.05,127.71 716.20,128.25 716.35,128.11 716.50,127.93 716.65,128.07 716.80,128.12 716.95,127.92 717.10,127.85 717.25,128.03 717.40,128.11 717.55,128.10 717.70,127.80 717.85,127.83 718.00,128.00 718.15,127.90 718.30,127.95 718.45,128.34 718.60,127.71 718.75,127.95 718.90,127.82 719.05,128.04 719.20,128.34 719.35,128.07 719.50,128.24 719.65,127.84 719.80,128.05 719.95,128.25 720.10,127.94 720.25,127.87 720.40,127.73 720.55,128.26 720.70,127.98 720.85,128.25 721.00,128.04 721.15,128.01 721.30,128.15 721.45,128.04 721.60,128.21 721.75,127.90 721.90,127.90 722.05,128.01 722.20,127.91 722.35,127.97 722.50,128.15 722.65,128.07 722.80,127.99 722.95,128.31 723.10,127.76 723.25,127.90 723.40,127.97 723.55,128.18 723.70,128.11 723.85,128.10 724.00,128.27 724.15,127.99 724.30,127.87 724.45,128.22 724.60,128.28 724.75,127.83 724.90,127.90 725.05,127.98 725.20,128.07 725.35,128.02 725.50,128.13 725.65,127.72 725.80,127.91 725.95,127.73 726.10,128.15 726.25,128.18 726.40,128.05 726.55,128.00 726.70,127.98 726.85,127.99 727.00,127.86 727.15,128.09 727.30,128.11 727.45,127.88 727.60,128.08 727.75,128.26 727.90,128.28 728.05,128.41 728.20,128.49 728.35,127.74 728.50,127.92 728.65,127.92 728.80,128.09 728.95,128.27 729.10,127.74 729.25,128.10 729.40,128.06 729.55,128.23 729.70,128.09 729.85,127.88 730.00,128.05 730.15,127.91 730.30,127.97 730.45,127.95 730.60,128.00 730.75,128.07 730.90,128.07 731.05,128.21 731.20,128.12 731.35,127.69 731.50,128.12 731.65,127.93 731.80,128.18 731.95,127.93 732.10,127.86 732.25,127.75 732.40,127.98 732.55,128.14 732.70,127.85 732.85,128.06 733.00,127.95 733.15,127.64 733.30,127.97 733.45,127.95 733.60,128.09 733.75,127.71 733.90,128.12 734.05,127.99 734.20,128.17 734.35,127.93 734.50,127.89 734.65,127.96 734.80,128.00 734.95,128.19 735.10,127.87 735.25,127.95 735.40,127.82 735.55,127.94 735.70,128.05 735.85,128.25 736.00,127.98 736.15,128.04 736.30,128.01 736.45,128.19 736.60,127.95 736.75,127.95 736.90,128.06 737.05,127.95 737.20,128.04 737.35,127.99 737.50,127.94 737.65,128.15 737.80,127.96 737.95,127.93 738.10,128.09 738.25,128.32 738.40,128.05 738.55,127.97 738.70,128.13 738.85,128.10 739.00,127.83 739.15,128.21 739.30,128.24 739.45,127.91 739.60,127.94 739.75,128.11 739.90,128.06 740.05,128.03 740.20,128.23 740.35,127.73 740.50,127.91 740.65,128.09 740.80,128.08 740.95,127.90 741.10,127.69 741.25,128.21 741.40,128.17 741.55,128.03 741.70,128.06 741.85,128.19 742.00,128.42 742.15,127.82 742.30,128.01 742.45,127.65 742.60,127.79 742.75,128.21 742.90,127.95 743.05,127.61 743.20,127.77 743.35,128.26 743.50,128.09 743.65,128.22 743.80,128.28 743.95,127.90 744.10,128.01 744.25,127.89 744.40,127.84 744.55,128.17 744.70,128.04 744.85,127.88 745.00,127.71 745.15,127.93 745.30,127.95 745.45,127.87 745.60,128.14 745.75,128.10 745.90,128.08 746.05,128.22 746.20,127.94 746.35,127.99 746.50,128.37 746.65,127.84 746.80,128.05 746.95,128.13 747.10,128.04 747.25,127.99 747.40,128.09 747.55,128.15 747.70,128.03 747.85,127.95 748.00,127.70 748.15,127.95 748.30,127.86 748.45,127.86 748.60,127.83 748.75,127.77 748.90,127.86 749.05,128.01 749.20,127.78 749.35,127.76 749.50,128.21 749.65,128.15 749.80,127.91 749.95,128.05 750.10,127.97 750.25,128.06 750.40,128.10 750.55,127.79 750.70,127.67 750.85,128.14 751.00,128.09 751.15,127.84 751.30,128.23 751.45,128.05 751.60,128.03 751.75,128.24 751.90,128.26 752.05,128.19 752.20,128.07 752.35,127.91 752.50,128.03 752.65,127.93 752.80,128.14 752.95,128.18 753.10,128.01 753.25,128.18 753.40,127.79 753.55,128.22 753.70,128.06 753.85,127.63 754.00,128.01 754.15,128.14 754.30,128.09 754.45,127.84 754.60,128.16 754.75,128.14 754.90,128.02 755.05,128.25 755.20,127.91 755.35,128.06 755.50,128.00 755.65,127.62 755.80,128.07 755.95,128.10 756.10,127.89 756.25,128.00 756.40,128.19 756.55,127.95 756.70,128.11 756.85,128.05 757.00,128.03 757.15,128.13 757.30,127.71 757.45,127.77 757.60,127.82 757.75,128.14 757.90,128.20 758.05,127.94 758.20,127.73 758.35,128.25 758.50,127.92 758.65,127.83 758.80,128.05 758.95,127.88 759.10,128.11 759.25,128.08 759.40,127.82 759.55,128.31 759.70,128.00 759.85,128.07 760.00,128.25 760.15,128.20 760.30,127.56 760.45,127.99 760.60,127.95 760.75,128.09 760.90,128.12 761.05,128.27 761.20,127.65 761.35,127.99 761.50,128.20 761.65,127.93 761.80,128.29 761.95,128.19 762.10,128.17 762.25,127.84 762.40,127.69 762.55,127.94 762.70,127.98 762.85,128.03 763.00,128.19 763.15,127.95 763.30,127.80 763.45,128.32 763.60,128.16 763.75,127.89 763.90,127.97 764.05,127.31 764.20,127.79 764.35,127.98 764.50,128.09 764.65,127.96 764.80,127.96 764.95,127.88 765.10,127.86 765.25,128.28 765.40,128.36 765.55,128.19 765.70,127.92 765.85,127.60 766.00,128.14 766.15,127.80 766.30,127.93 766.45,128.05 766.60,128.27 766.75,127.84 766.90,127.94 767.05,128.13 767.20,128.16 767.35,127.97 767.50,128.06 767.65,128.11 767.80,127.91 767.95,127.68 768.10,127.97 768.25,128.27 768.40,127.78 768.55,127.84 768.70,128.16 768.85,128.27 769.00,128.07 769.15,128.05 769.30,127.69 769.45,127.77 769.60,127.87 769.75,127.67 769.90,128.16 770.05,127.79 770.20,128.43 770.35,127.78 770.50,128.05 770.65,127.91 770.80,127.95 770.95,128.19 771.10,127.81 771.25,127.94 771.40,128.20 771.55,127.84 771.70,128.48 771.85,127.75 772.00,128.14 772.15,128.04 772.30,128.08 772.45,127.99 772.60,127.92 772.75,128.08 772.90,127.90 773.05,127.83 773.20,128.32 773.35,127.65 773.50,128.12 773.65,127.90 773.80,127.63 773.95,127.56 774.10,127.83 774.25,128.09 774.40,128.23 774.55,127.99 774.70,128.23 774.85,128.02 775.00,128.03 775.15,128.04 775.30,128.22 775.45,127.79 775.60,127.66 775.75,128.24 775.90,128.01 776.05,128.06 776.20,128.20 776.35,128.07 776.50,127.99 776.65,128.27 776.80,128.20 776.95,127.96 777.10,128.04 777.25,127.92 777.40,127.98 777.55,127.88 777.70,128.14 777.85,127.82 778.00,127.89 778.15,128.14 778.30,128.04 778.45,128.29 778.60,127.90 778.75,128.01 778.90,127.97 779.05,128.17 779.20,127.98 779.35,128.10 779.50,127.73 779.65,127.91 779.80,128.27 779.95,128.01 780.10,128.07 780.25,128.20 780.40,128.05 780.55,127.86 780.70,128.04 780.85,127.93 781.00,128.00 781.15,128.01 781.30,128.16 781.45,128.23 781.50,128.00 781.50,128.74 781.59,127.63 781.72,128.26 781.80,127.71 781.96,128.40 782.04,127.81 782.19,128.05 782.35,127.86 782.44,128.05 782.59,127.30 782.72,128.51 782.83,127.11 782.92,128.08 783.03,127.67 783.13,128.80 783.21,127.87 783.38,128.93 783.50,127.98 783.60,129.06 783.70,127.54 783.78,129.04 783.87,125.89 784.03,130.21 784.11,127.33 784.23,130.85 784.34,125.49 784.49,131.88 784.63,125.26 784.73,130.29 784.82,126.91 784.97,128.61 785.09,127.09 785.22,130.09 785.38,127.26 785.53,128.67 785.69,122.44 785.85,128.90 785.93,123.63 786.03,130.59 786.10,123.49 786.25,129.23 786.35,127.34 786.45,129.10 786.55,125.96 786.70,132.12 786.78,124.90 786.89,129.02 787.01,125.98 787.17,134.10 787.27,127.85 787.35,129.29 787.45,125.87 787.59,131.70 787.71,127.94 787.80,130.58 787.89,126.87 788.02,129.57 788.12,126.31 788.19,128.82 788.33,125.30 788.47,128.70 788.56,124.43 788.69,129.23 788.85,125.98" fill="none" stroke="#006400" stroke-width="0.5" stroke-opacity="1" stroke-linejoin="bevel"/>
<polyline points="783.80,128.00 784.15,103.50 784.30,135.35 784.40,107.17 784.55,152.50 784.80,128.00" fill="none" stroke="#006400" stroke-width="0.65" stroke-opacity="1" stroke-linejoin="bevel"/>
</svg>
<rect x="507" y="100.2" width="283" height="54.5" fill="none" stroke="#000" stroke-width="1.8"/>
<line x1="508.40" y1="94.7" x2="508.40" y2="99.2" stroke="#000" stroke-width="0.8"/>
<line x1="508.40" y1="155.7" x2="508.40" y2="160.2" stroke="#000" stroke-width="0.8"/>
<text x="508.40" y="171.2" text-anchor="middle" font-family="'Liberation Sans',Arial,sans-serif" font-size="10px">15</text>
<line x1="532.04" y1="94.7" x2="532.04" y2="99.2" stroke="#000" stroke-width="0.8"/>
<line x1="532.04" y1="155.7" x2="532.04" y2="160.2" stroke="#000" stroke-width="0.8"/>
<text x="532.04" y="171.2" text-anchor="middle" font-family="'Liberation Sans',Arial,sans-serif" font-size="10px">20</text>
<line x1="555.68" y1="94.7" x2="555.68" y2="99.2" stroke="#000" stroke-width="0.8"/>
<line x1="555.68" y1="155.7" x2="555.68" y2="160.2" stroke="#000" stroke-width="0.8"/>
<text x="555.68" y="171.2" text-anchor="middle" font-family="'Liberation Sans',Arial,sans-serif" font-size="10px">25</text>
<line x1="579.32" y1="94.7" x2="579.32" y2="99.2" stroke="#000" stroke-width="0.8"/>
<line x1="579.32" y1="155.7" x2="579.32" y2="160.2" stroke="#000" stroke-width="0.8"/>
<text x="579.32" y="171.2" text-anchor="middle" font-family="'Liberation Sans',Arial,sans-serif" font-size="10px">30</text>
<line x1="602.96" y1="94.7" x2="602.96" y2="99.2" stroke="#000" stroke-width="0.8"/>
<line x1="602.96" y1="155.7" x2="602.96" y2="160.2" stroke="#000" stroke-width="0.8"/>
<text x="602.96" y="171.2" text-anchor="middle" font-family="'Liberation Sans',Arial,sans-serif" font-size="10px">35</text>
<line x1="626.60" y1="94.7" x2="626.60" y2="99.2" stroke="#000" stroke-width="0.8"/>
<line x1="626.60" y1="155.7" x2="626.60" y2="160.2" stroke="#000" stroke-width="0.8"/>
<text x="626.60" y="171.2" text-anchor="middle" font-family="'Liberation Sans',Arial,sans-serif" font-size="10px">40</text>
<line x1="650.24" y1="94.7" x2="650.24" y2="99.2" stroke="#000" stroke-width="0.8"/>
<line x1="650.24" y1="155.7" x2="650.24" y2="160.2" stroke="#000" stroke-width="0.8"/>
<text x="650.24" y="171.2" text-anchor="middle" font-family="'Liberation Sans',Arial,sans-serif" font-size="10px">45</text>
<line x1="673.88" y1="94.7" x2="673.88" y2="99.2" stroke="#000" stroke-width="0.8"/>
<line x1="673.88" y1="155.7" x2="673.88" y2="160.2" stroke="#000" stroke-width="0.8"/>
<text x="673.88" y="171.2" text-anchor="middle" font-family="'Liberation Sans',Arial,sans-serif" font-size="10px">50</text>
<line x1="697.52" y1="94.7" x2="697.52" y2="99.2" stroke="#000" stroke-width="0.8"/>
<line x1="697.52" y1="155.7" x2="697.52" y2="160.2" stroke="#000" stroke-width="0.8"/>
<text x="697.52" y="171.2" text-anchor="middle" font-family="'Liberation Sans',Arial,sans-serif" font-size="10px">55</text>
<line x1="721.16" y1="94.7" x2="721.16" y2="99.2" stroke="#000" stroke-width="0.8"/>
<line x1="721.16" y1="155.7" x2="721.16" y2="160.2" stroke="#000" stroke-width="0.8"/>
<text x="721.16" y="171.2" text-anchor="middle" font-family="'Liberation Sans',Arial,sans-serif" font-size="10px">00</text>
<line x1="744.80" y1="94.7" x2="744.80" y2="99.2" stroke="#000" stroke-width="0.8"/>
<line x1="744.80" y1="155.7" x2="744.80" y2="160.2" stroke="#000" stroke-width="0.8"/>
<text x="744.80" y="171.2" text-anchor="middle" font-family="'Liberation Sans',Arial,sans-serif" font-size="10px">05</text>
<line x1="768.44" y1="94.7" x2="768.44" y2="99.2" stroke="#000" stroke-width="0.8"/>
<line x1="768.44" y1="155.7" x2="768.44" y2="160.2" stroke="#000" stroke-width="0.8"/>
<text x="768.44" y="171.2" text-anchor="middle" font-family="'Liberation Sans',Arial,sans-serif" font-size="10px">10</text>
<text x="799.3" y="112" font-family="'Liberation Sans',Arial,sans-serif" font-size="10px" font-weight="bold" fill="#0000ff">Palmar Norte</text>
<text x="799.3" y="134.6" font-family="'Liberation Sans',Arial,sans-serif" font-size="10px">Acel. Max. 0.4</text>
<text x="799.3" y="152.6" font-family="'Liberation Sans',Arial,sans-serif" font-size="10px">Int JMA: 0</text>
<rect x="507" y="179" width="283" height="54.5" fill="#fff" stroke="none"/>
<svg x="507" y="179" width="283" height="54.5" viewBox="507 179 283 54.5" overflow="hidden">
<polyline points="508.00,204.39 508.15,204.58 508.30,204.31 508.45,204.19 508.60,204.43 508.75,204.48 508.90,204.45 509.05,204.47 509.20,204.39 509.35,204.34 509.50,204.32 509.65,204.38 509.80,204.36 509.95,204.52 510.10,204.49 510.25,204.26 510.40,204.50 510.55,204.41 510.70,204.55 510.85,204.59 511.00,204.48 511.15,204.20 511.30,204.49 511.45,204.22 511.60,204.60 511.75,204.33 511.90,204.39 512.05,204.63 512.20,204.20 512.35,204.42 512.50,204.28 512.65,204.35 512.80,204.32 512.95,204.50 513.10,204.38 513.25,204.46 513.40,204.49 513.55,204.21 513.70,204.58 513.85,204.38 514.00,204.21 514.15,204.33 514.30,204.52 514.45,204.54 514.60,204.33 514.75,204.43 514.90,204.44 515.05,204.54 515.20,204.40 515.35,204.53 515.50,204.31 515.65,204.33 515.80,204.49 515.95,204.50 516.10,204.41 516.25,204.49 516.40,204.44 516.55,204.51 516.70,204.56 516.85,204.48 517.00,204.51 517.15,204.37 517.30,204.35 517.45,204.13 517.60,204.46 517.75,204.42 517.90,204.48 518.05,204.19 518.20,204.35 518.35,204.35 518.50,204.19 518.65,204.52 518.80,204.56 518.95,204.26 519.10,204.47 519.25,204.63 519.40,204.27 519.55,204.53 519.70,204.61 519.85,204.64 520.00,204.25 520.15,204.28 520.30,204.44 520.45,204.56 520.60,204.26 520.75,204.32 520.90,204.28 521.05,204.55 521.20,204.35 521.35,204.48 521.50,204.49 521.65,204.56 521.80,204.47 521.95,204.46 522.10,204.56 522.25,204.47 522.40,204.26 522.55,204.35 522.70,204.53 522.85,204.43 523.00,204.37 523.15,204.44 523.30,204.82 523.45,204.41 523.60,204.47 523.75,204.47 523.90,204.38 524.05,204.56 524.20,204.52 524.35,204.46 524.50,204.25 524.65,204.57 524.80,204.51 524.95,204.40 525.10,204.08 525.25,204.41 525.40,204.26 525.55,204.39 525.70,204.35 525.85,204.31 526.00,204.54 526.15,204.43 526.30,204.57 526.45,204.30 526.60,204.39 526.75,204.58 526.90,204.45 527.05,204.32 527.20,204.30 527.35,204.34 527.50,204.40 527.65,204.50 527.80,204.43 527.95,204.51 528.10,204.52 528.25,204.43 528.40,204.57 528.55,204.50 528.70,204.39 528.85,204.39 529.00,204.41 529.15,204.32 529.30,204.25 529.45,204.42 529.60,204.35 529.75,204.49 529.90,204.34 530.05,204.43 530.20,204.44 530.35,204.36 530.50,204.44 530.65,204.32 530.80,204.36 530.95,204.51 531.10,204.46 531.25,204.41 531.40,204.32 531.55,204.50 531.70,204.66 531.85,204.15 532.00,204.54 532.15,204.44 532.30,204.55 532.45,204.56 532.60,204.29 532.75,204.63 532.90,204.34 533.05,204.38 533.20,204.49 533.35,204.40 533.50,204.45 533.65,204.35 533.80,204.29 533.95,204.42 534.10,204.28 534.25,204.58 534.40,204.44 534.55,204.59 534.70,204.26 534.85,204.16 535.00,204.13 535.15,204.37 535.30,204.25 535.45,204.46 535.60,204.23 535.75,204.24 535.90,204.45 536.05,204.36 536.20,204.50 536.35,204.51 536.50,204.46 536.65,204.26 536.80,204.31 536.95,204.69 537.10,204.38 537.25,204.45 537.40,204.43 537.55,204.41 537.70,204.39 537.85,204.34 538.00,204.35 538.15,204.16 538.30,204.62 538.45,204.40 538.60,204.25 538.75,204.48 538.90,204.50 539.05,204.24 539.20,204.35 539.35,204.60 539.50,204.48 539.65,204.47 539.80,204.54 539.95,204.40 540.10,204.38 540.25,204.61 540.40,204.39 540.55,204.40 540.70,204.49 540.85,204.42 541.00,204.26 541.15,204.65 541.30,204.40 541.45,204.63 541.60,204.48 541.75,204.30 541.90,204.60 542.05,204.39 542.20,204.31 542.35,204.41 542.50,204.15 542.65,204.46 542.80,204.32 542.95,204.38 543.10,204.30 543.25,204.50 543.40,204.46 543.55,204.55 543.70,204.62 543.85,204.45 544.00,204.42 544.15,204.45 544.30,204.31 544.45,204.35 544.60,204.51 544.75,204.31 544.90,204.17 545.05,204.37 545.20,204.44 545.35,204.59 545.50,204.32 545.65,204.30 545.80,204.42 545.95,204.39 546.10,204.44 546.25,204.35 546.40,204.44 546.55,204.34 546.70,204.53 546.85,204.45 547.00,204.48 547.15,204.36 547.30,204.24 547.45,204.41 547.60,204.41 547.75,204.55 547.90,204.53 548.05,204.41 548.20,204.41 548.35,204.29 548.50,204.41 548.65,204.44 548.80,204.36 548.95,204.28 549.10,204.57 549.25,204.30 549.40,204.61 549.55,204.56 549.70,204.60 549.85,204.31 550.00,204.49 550.15,204.24 550.30,204.37 550.45,204.22 550.60,204.32 550.75,204.35 550.90,204.53 551.05,204.54 551.20,204.37 551.35,204.38 551.50,204.30 551.65,204.27 551.80,204.19 551.95,204.38 552.10,204.48 552.25,204.32 552.40,204.46 552.55,204.27 552.70,204.29 552.85,204.35 553.00,204.52 553.15,204.35 553.30,204.50 553.45,204.37 553.60,204.28 553.75,204.17 553.90,204.35 554.05,204.29 554.20,204.52 554.35,204.46 554.50,204.21 554.65,204.51 554.80,204.48 554.95,204.06 555.10,204.28 555.25,204.44 555.40,204.22 555.55,204.32 555.70,204.47 555.85,204.44 556.00,204.46 556.15,204.48 556.30,204.30 556.45,204.70 556.60,204.47 556.75,204.67 556.90,204.38 557.05,204.48 557.20,204.45 557.35,204.39 557.50,204.45 557.65,204.44 557.80,204.51 557.95,204.45 558.10,204.42 558.25,204.47 558.40,204.58 558.55,204.42 558.70,204.48 558.85,204.43 559.00,204.17 559.15,204.30 559.30,204.30 559.45,204.24 559.60,204.33 559.75,204.20 559.90,204.44 560.05,204.34 560.20,204.56 560.35,204.46 560.50,204.26 560.65,204.38 560.80,204.41 560.95,204.33 561.10,204.37 561.25,204.28 561.40,204.32 561.55,204.44 561.70,204.37 561.85,204.55 562.00,204.15 562.15,204.31 562.30,204.36 562.45,204.59 562.60,204.54 562.75,204.50 562.90,204.53 563.05,204.60 563.20,204.49 563.35,204.38 563.50,204.43 563.65,204.32 563.80,204.38 563.95,204.45 564.10,204.35 564.25,204.42 564.40,204.36 564.55,204.25 564.70,204.23 564.85,204.49 565.00,204.41 565.15,204.51 565.30,204.39 565.45,204.41 565.60,204.44 565.75,204.37 565.90,204.57 566.05,204.53 566.20,204.45 566.35,204.28 566.50,204.34 566.65,204.43 566.80,204.55 566.95,204.40 567.10,204.40 567.25,204.47 567.40,204.42 567.55,204.39 567.70,204.27 567.85,204.55 568.00,204.40 568.15,204.34 568.30,204.39 568.45,204.25 568.60,204.20 568.75,204.19 568.90,204.45 569.05,204.25 569.20,204.42 569.35,204.26 569.50,204.19 569.65,204.33 569.80,204.31 569.95,204.32 570.10,204.61 570.25,204.43 570.40,204.33 570.55,204.51 570.70,204.36 570.85,204.55 571.00,204.22 571.15,204.53 571.30,204.27 571.45,204.31 571.60,204.43 571.75,204.27 571.90,204.21 572.05,204.35 572.20,204.37 572.35,204.20 572.50,204.52 572.65,204.30 572.80,204.33 572.95,204.37 573.10,204.41 573.25,204.53 573.40,204.14 573.55,204.40 573.70,204.51 573.85,204.43 574.00,204.39 574.15,204.27 574.30,204.44 574.45,204.34 574.60,204.42 574.75,204.27 574.90,204.36 575.05,204.38 575.20,204.22 575.35,204.52 575.50,204.39 575.65,204.25 575.80,204.37 575.95,204.42 576.10,204.36 576.25,204.28 576.40,204.37 576.55,204.24 576.70,204.20 576.85,204.54 577.00,204.60 577.15,204.62 577.30,204.67 577.45,204.56 577.60,204.29 577.75,204.33 577.90,204.53 578.05,204.34 578.20,204.36 578.35,204.40 578.50,204.45 578.65,204.24 578.80,204.40 578.95,204.46 579.10,204.15 579.25,204.54 579.40,204.49 579.55,204.30 579.70,204.62 579.85,204.45 580.00,204.46 580.15,204.59 580.30,204.09 580.45,204.40 580.60,204.53 580.75,204.57 580.90,204.40 581.05,204.38 581.20,204.31 581.35,204.36 581.50,204.30 581.65,204.11 581.80,204.33 581.95,204.28 582.10,204.33 582.25,204.34 582.40,204.34 582.55,204.41 582.70,204.39 582.85,204.36 583.00,204.33 583.15,204.39 583.30,204.36 583.45,204.38 583.60,204.57 583.75,204.43 583.90,204.35 584.05,204.15 584.20,204.23 584.35,204.04 584.50,204.51 584.65,204.53 584.80,204.35 584.95,204.34 585.10,204.46 585.25,204.47 585.40,204.19 585.55,204.37 585.70,204.36 585.85,204.25 586.00,204.57 586.15,204.49 586.30,204.33 586.45,204.39 586.60,204.33 586.75,204.34 586.90,204.35 587.05,204.52 587.20,204.40 587.35,204.34 587.50,204.32 587.65,204.43 587.80,204.29 587.95,204.21 588.10,204.38 588.25,204.59 588.40,204.32 588.55,204.42 588.70,204.38 588.85,204.55 589.00,204.46 589.15,204.25 589.30,204.61 589.45,204.40 589.60,204.29 589.75,204.34 589.90,204.41 590.05,204.53 590.20,204.37 590.35,204.31 590.50,204.56 590.65,204.59 590.80,204.36 590.95,204.42 591.10,204.44 591.25,204.36 591.40,204.29 591.55,204.53 591.70,204.27 591.85,204.18 592.00,204.47 592.15,204.54 592.30,204.50 592.45,204.31 592.60,204.37 592.75,204.27 592.90,204.34 593.05,204.10 593.20,204.30 593.35,204.57 593.50,204.26 593.65,204.61 593.80,204.42 593.95,204.16 594.10,204.51 594.25,204.29 594.40,204.47 594.55,204.38 594.70,204.36 594.85,204.38 595.00,204.24 595.15,204.31 595.30,204.35 595.45,204.61 595.60,204.33 595.75,204.44 595.90,204.45 596.05,204.55 596.20,204.37 596.35,204.42 596.50,204.29 596.65,204.71 596.80,204.22 596.95,204.43 597.10,204.36 597.25,204.42 597.40,204.34 597.55,204.35 597.70,204.52 597.85,204.52 598.00,204.39 598.15,204.38 598.30,204.42 598.45,204.39 598.60,204.45 598.75,204.49 598.90,204.46 599.05,204.21 599.20,204.39 599.35,204.27 599.50,204.45 599.65,204.37 599.80,204.44 599.95,204.39 600.10,204.51 600.25,204.56 600.40,204.42 600.55,204.22 600.70,204.40 600.85,204.64 601.00,204.32 601.15,204.39 601.30,204.70 601.45,204.61 601.60,204.48 601.75,204.43 601.90,204.24 602.05,204.60 602.20,204.51 602.35,204.20 602.50,204.39 602.65,204.39 602.80,204.39 602.95,204.32 603.10,204.70 603.25,204.30 603.40,204.58 603.55,204.48 603.70,204.40 603.85,204.46 604.00,204.49 604.15,204.31 604.30,204.36 604.45,204.55 604.60,204.52 604.75,204.45 604.90,204.26 605.05,204.21 605.20,204.58 605.35,204.58 605.50,204.46 605.65,204.45 605.80,204.36 605.95,204.46 606.10,204.55 606.25,204.49 606.40,204.34 606.55,204.45 606.70,204.34 606.85,204.39 607.00,204.27 607.15,204.12 607.30,204.28 607.45,204.43 607.60,204.31 607.75,204.47 607.90,204.34 608.05,204.44 608.20,204.35 608.35,204.58 608.50,204.36 608.65,204.41 608.80,204.54 608.95,204.58 609.10,204.26 609.25,204.58 609.40,204.28 609.55,204.29 609.70,204.30 609.85,204.52 610.00,204.28 610.15,204.47 610.30,204.45 610.45,204.38 610.60,204.46 610.75,204.65 610.90,204.60 611.05,204.30 611.20,204.44 611.35,204.36 611.50,204.39 611.65,204.34 611.80,204.47 611.95,204.30 612.10,204.25 612.25,204.41 612.40,204.44 612.55,204.55 612.70,204.48 612.85,204.30 613.00,204.29 613.15,204.44 613.30,204.44 613.45,204.49 613.60,204.56 613.75,204.14 613.90,204.33 614.05,204.47 614.20,204.28 614.35,204.60 614.50,204.39 614.65,204.48 614.80,204.38 614.95,204.45 615.10,204.45 615.25,204.47 615.40,204.24 615.55,204.18 615.70,204.39 615.85,204.50 616.00,204.37 616.15,204.38 616.30,204.53 616.45,204.48 616.60,204.29 616.75,204.42 616.90,204.38 617.05,204.41 617.20,204.40 617.35,204.47 617.50,204.40 617.65,204.45 617.80,204.41 617.95,204.38 618.10,204.34 618.25,204.44 618.40,204.46 618.55,204.59 618.70,204.70 618.85,204.32 619.00,204.33 619.15,204.53 619.30,204.36 619.45,204.42 619.60,204.25 619.75,204.48 619.90,204.23 620.05,204.52 620.20,204.31 620.35,204.43 620.50,204.52 620.65,204.30 620.80,204.39 620.95,204.66 621.10,204.24 621.25,204.42 621.40,204.17 621.55,204.45 621.70,204.39 621.85,204.27 622.00,204.26 622.15,204.55 622.30,204.49 622.45,204.26 622.60,204.50 622.75,204.29 622.90,204.31 623.05,204.45 623.20,204.39 623.35,204.47 623.50,204.53 623.65,204.33 623.80,204.47 623.95,204.44 624.10,204.21 624.25,204.50 624.40,204.53 624.55,204.24 624.70,204.37 624.85,204.52 625.00,204.51 625.15,204.36 625.30,204.38 625.45,204.37 625.60,204.26 625.75,204.42 625.90,204.66 626.05,204.24 626.20,204.40 626.35,204.29 626.50,204.59 626.65,204.21 626.80,204.51 626.95,204.46 627.10,204.30 627.25,204.37 627.40,204.41 627.55,204.61 627.70,204.44 627.85,204.55 628.00,204.53 628.15,204.42 628.30,204.41 628.45,204.40 628.60,204.60 628.75,204.56 628.90,204.52 629.05,204.33 629.20,204.37 629.35,204.50 629.50,204.38 629.65,204.24 629.80,204.23 629.95,204.46 630.10,204.50 630.25,204.47 630.40,204.59 630.55,204.22 630.70,204.19 630.85,204.42 631.00,204.51 631.15,204.30 631.30,204.44 631.45,204.44 631.60,204.35 631.75,204.30 631.90,204.37 632.05,204.39 632.20,204.49 632.35,204.37 632.50,204.29 632.65,204.27 632.80,204.35 632.95,204.46 633.10,204.30 633.25,204.36 633.40,204.47 633.55,204.43 633.70,204.65 633.85,204.46 634.00,204.48 634.15,204.66 634.30,204.18 634.45,204.20 634.60,204.31 634.75,204.42 634.90,204.54 635.05,204.48 635.20,204.34 635.35,204.23 635.50,204.45 635.65,204.37 635.80,204.29 635.95,204.25 636.10,204.49 636.25,204.37 636.40,204.42 636.55,204.39 636.70,204.31 636.85,204.34 637.00,204.33 637.15,204.39 637.30,204.32 637.45,204.47 637.60,204.28 637.75,204.43 637.90,204.41 638.05,204.47 638.20,204.04 638.35,204.47 638.50,204.44 638.65,204.34 638.80,204.36 638.95,204.35 639.10,204.22 639.25,204.75 639.40,204.37 639.55,204.45 639.70,204.25 639.85,204.34 640.00,204.11 640.15,204.38 640.30,204.29 640.45,204.39 640.60,204.44 640.75,204.55 640.90,204.39 641.05,204.26 641.20,204.33 641.35,204.46 641.50,204.61 641.65,204.09 641.80,204.24 641.95,204.30 642.10,204.37 642.25,204.46 642.40,204.56 642.55,204.46 642.70,204.56 642.85,204.31 643.00,204.29 643.15,204.19 643.30,204.29 643.45,204.47 643.60,204.39 643.75,204.63 643.90,204.35 644.05,204.26 644.20,204.45 644.35,204.14 644.50,204.48 644.65,204.42 644.80,204.21 644.95,204.44 645.10,204.41 645.25,204.53 645.40,204.35 645.55,204.31 645.70,204.38 645.85,204.36 646.00,204.25 646.15,204.49 646.30,204.49 646.45,204.29 646.60,204.31 646.75,204.25 646.90,204.32 647.05,204.29 647.20,204.37 647.35,204.46 647.50,204.56 647.65,204.26 647.80,204.28 647.95,204.24 648.10,204.37 648.25,204.47 648.40,204.27 648.55,204.37 648.70,204.26 648.85,204.20 649.00,204.31 649.15,204.47 649.30,204.33 649.45,204.16 649.60,204.25 649.75,204.33 649.90,204.61 650.05,204.23 650.20,204.71 650.35,204.49 650.50,204.53 650.65,204.49 650.80,204.07 650.95,204.40 651.10,204.40 651.25,204.44 651.40,204.53 651.55,204.37 651.70,204.28 651.85,204.43 652.00,204.40 652.15,204.43 652.30,204.32 652.45,204.37 652.60,204.00 652.75,204.40 652.90,204.50 653.05,204.39 653.20,204.37 653.35,204.45 653.50,204.34 653.65,204.35 653.80,204.59 653.95,204.59 654.10,204.16 654.25,204.31 654.40,204.42 654.55,204.47 654.70,204.24 654.85,204.31 655.00,204.46 655.15,204.53 655.30,204.27 655.45,204.35 655.60,204.35 655.75,204.52 655.90,204.44 656.05,204.43 656.20,204.61 656.35,204.48 656.50,204.40 656.65,204.58 656.80,204.59 656.95,204.56 657.10,204.61 657.25,204.44 657.40,204.14 657.55,204.35 657.70,204.41 657.85,204.39 658.00,204.49 658.15,204.43 658.30,204.63 658.45,204.47 658.60,204.51 658.75,204.54 658.90,204.58 659.05,204.34 659.20,204.57 659.35,204.39 659.50,204.15 659.65,204.61 659.80,204.43 659.95,204.55 660.10,204.27 660.25,204.48 660.40,204.31 660.55,204.69 660.70,204.59 660.85,204.39 661.00,204.11 661.15,204.41 661.30,204.44 661.45,204.39 661.60,204.44 661.75,204.36 661.90,204.48 662.05,204.45 662.20,204.30 662.35,204.50 662.50,204.47 662.65,204.38 662.80,204.31 662.95,204.29 663.10,204.68 663.25,204.68 663.40,204.50 663.55,204.34 663.70,204.49 663.85,204.30 664.00,204.27 664.15,204.16 664.30,204.33 664.45,204.31 664.60,204.53 664.75,204.44 664.90,204.32 665.05,204.35 665.20,204.38 665.35,204.39 665.50,204.40 665.65,204.54 665.80,204.21 665.95,204.42 666.10,204.41 666.25,204.50 666.40,204.39 666.55,204.30 666.70,204.50 666.85,204.54 667.00,204.31 667.15,204.53 667.30,204.71 667.45,204.34 667.60,204.48 667.75,204.09 667.90,204.43 668.05,204.29 668.20,204.46 668.35,204.37 668.50,204.44 668.65,204.54 668.80,204.52 668.95,204.51 669.10,204.32 669.25,204.38 669.40,204.40 669.55,204.35 669.70,204.30 669.85,204.41 670.00,204.46 670.15,204.37 670.30,204.26 670.45,204.53 670.60,204.33 670.75,204.61 670.90,204.44 671.05,204.43 671.20,204.55 671.35,204.41 671.50,204.25 671.65,204.42 671.80,204.16 671.95,204.44 672.10,204.41 672.25,204.47 672.40,204.40 672.55,204.63 672.70,204.42 672.85,204.35 673.00,204.76 673.15,204.40 673.30,204.49 673.45,204.38 673.60,204.36 673.75,204.39 673.90,204.33 674.05,204.40 674.20,204.37 674.35,204.34 674.50,204.30 674.65,204.36 674.80,204.11 674.95,204.43 675.10,204.08 675.25,204.35 675.40,204.38 675.55,204.32 675.70,204.40 675.85,204.62 676.00,204.41 676.15,204.33 676.30,204.44 676.45,204.31 676.60,204.17 676.75,204.30 676.90,204.46 677.05,204.36 677.20,204.46 677.35,204.47 677.50,204.16 677.65,204.21 677.80,204.28 677.95,204.23 678.10,204.46 678.25,204.28 678.40,204.25 678.55,204.55 678.70,204.22 678.85,204.23 679.00,204.53 679.15,204.40 679.30,204.36 679.45,204.45 679.60,204.31 679.75,204.35 679.90,204.34 680.05,204.53 680.20,204.38 680.35,204.22 680.50,204.23 680.65,204.44 680.80,204.22 680.95,204.21 681.10,204.30 681.25,204.19 681.40,204.41 681.55,204.63 681.70,204.62 681.85,204.41 682.00,204.56 682.15,204.41 682.30,204.39 682.45,204.47 682.60,204.40 682.75,204.33 682.90,204.38 683.05,204.35 683.20,204.43 683.35,204.52 683.50,204.24 683.65,204.32 683.80,204.25 683.95,204.59 684.10,204.48 684.25,204.41 684.40,204.27 684.55,204.50 684.70,204.26 684.85,204.19 685.00,204.30 685.15,204.54 685.30,204.37 685.45,204.33 685.60,204.31 685.75,204.50 685.90,204.28 686.05,204.31 686.20,204.45 686.35,204.46 686.50,204.38 686.65,204.45 686.80,204.43 686.95,204.15 687.10,204.39 687.25,204.32 687.40,204.37 687.55,204.38 687.70,204.42 687.85,204.49 688.00,204.27 688.15,204.31 688.30,204.33 688.45,204.38 688.60,204.20 688.75,204.40 688.90,204.48 689.05,204.32 689.20,204.17 689.35,204.48 689.50,204.56 689.65,204.45 689.80,204.57 689.95,204.53 690.10,204.38 690.25,204.36 690.40,204.67 690.55,204.48 690.70,204.34 690.85,204.55 691.00,204.30 691.15,204.34 691.30,204.56 691.45,204.51 691.60,204.34 691.75,204.51 691.90,204.49 692.05,204.13 692.20,204.38 692.35,204.51 692.50,204.42 692.65,204.27 692.80,204.49 692.95,204.33 693.10,204.49 693.25,204.43 693.40,204.53 693.55,204.31 693.70,204.62 693.85,204.36 694.00,204.37 694.15,204.33 694.30,204.38 694.45,204.41 694.60,204.36 694.75,204.47 694.90,204.46 695.05,204.37 695.20,204.39 695.35,204.42 695.50,204.51 695.65,204.55 695.80,204.28 695.95,204.48 696.10,204.48 696.25,204.23 696.40,204.45 696.55,204.59 696.70,204.34 696.85,204.25 697.00,204.13 697.15,204.40 697.30,204.37 697.45,204.38 697.60,204.49 697.75,204.25 697.90,204.38 698.05,204.61 698.20,204.58 698.35,204.32 698.50,204.18 698.65,204.43 698.80,204.43 698.95,204.42 699.10,204.28 699.25,204.48 699.40,204.29 699.55,204.26 699.70,204.28 699.85,204.39 700.00,204.38 700.15,204.25 700.30,204.44 700.45,204.55 700.60,204.19 700.75,204.46 700.90,204.30 701.05,204.07 701.20,204.41 701.35,204.26 701.50,204.35 701.65,204.31 701.80,204.05 701.95,204.28 702.10,204.49 702.25,204.49 702.40,204.23 702.55,204.48 702.70,204.47 702.85,204.57 703.00,204.63 703.15,204.60 703.30,204.55 703.45,204.48 703.60,204.40 703.75,204.25 703.90,204.39 704.05,204.51 704.20,204.50 704.35,204.32 704.50,204.12 704.65,204.29 704.80,204.18 704.95,204.42 705.10,204.22 705.25,204.27 705.40,204.35 705.55,204.35 705.70,204.41 705.85,204.50 706.00,204.43 706.15,204.56 706.30,204.30 706.45,204.46 706.60,204.75 706.75,204.44 706.90,204.32 707.05,204.41 707.20,204.37 707.35,204.36 707.50,204.57 707.65,204.63 707.80,204.34 707.95,204.30 708.10,204.53 708.25,204.54 708.40,204.41 708.55,204.51 708.70,204.37 708.85,204.57 709.00,204.40 709.15,204.44 709.30,204.49 709.45,204.28 709.60,204.43 709.75,204.43 709.90,204.52 710.05,204.32 710.20,204.15 710.35,204.32 710.50,204.46 710.65,204.41 710.80,204.45 710.95,204.58 711.10,204.52 711.25,204.50 711.40,204.43 711.55,204.28 711.70,204.38 711.85,204.37 712.00,204.28 712.15,204.41 712.30,204.35 712.45,204.29 712.60,204.26 712.75,204.18 712.90,204.60 713.05,204.31 713.20,204.32 713.35,204.10 713.50,204.38 713.65,204.41 713.80,204.44 713.95,204.29 714.10,204.25 714.25,204.65 714.40,204.35 714.55,204.44 714.70,204.41 714.85,204.39 715.00,204.58 715.15,204.46 715.30,204.49 715.45,204.57 715.60,204.50 715.75,204.40 715.90,204.27 716.05,204.50 716.20,204.39 716.35,204.22 716.50,204.48 716.65,204.62 716.80,204.52 716.95,204.44 717.10,204.60 717.25,204.46 717.40,204.27 717.55,204.42 717.70,204.48 717.85,204.36 718.00,204.29 718.15,204.25 718.30,204.59 718.45,204.49 718.60,204.29 718.75,204.56 718.90,204.40 719.05,204.29 719.20,204.30 719.35,204.48 719.50,204.53 719.65,204.49 719.80,204.35 719.95,204.10 720.10,204.26 720.25,204.45 720.40,204.27 720.55,204.24 720.70,204.25 720.85,204.14 721.00,204.57 721.15,204.14 721.30,204.26 721.45,204.45 721.60,204.47 721.75,204.53 721.90,204.29 722.05,204.39 722.20,204.62 722.35,204.30 722.50,204.44 722.65,204.31 722.80,204.19 722.95,204.29 723.10,204.28 723.25,204.50 723.40,204.50 723.55,204.67 723.70,204.28 723.85,204.34 724.00,204.46 724.15,204.33 724.30,204.28 724.45,204.38 724.60,204.51 724.75,204.32 724.90,204.61 725.05,204.33 725.20,204.52 725.35,204.50 725.50,204.33 725.65,204.40 725.80,204.56 725.95,204.24 726.10,204.54 726.25,204.37 726.40,204.51 726.55,204.54 726.70,204.45 726.85,204.32 727.00,204.41 727.15,204.26 727.30,204.14 727.45,204.62 727.60,204.30 727.75,204.10 727.90,204.44 728.05,204.18 728.20,204.45 728.35,204.59 728.50,204.57 728.65,204.52 728.80,204.35 728.95,204.29 729.10,204.13 729.25,204.25 729.40,204.36 729.55,204.31 729.70,204.60 729.85,204.35 730.00,204.36 730.15,204.52 730.30,204.33 730.45,204.51 730.60,204.46 730.75,204.30 730.90,204.50 731.05,204.36 731.20,204.34 731.35,204.48 731.50,204.41 731.65,204.34 731.80,204.52 731.95,204.58 732.10,204.40 732.25,204.33 732.40,204.36 732.55,204.42 732.70,204.54 732.85,204.20 733.00,204.60 733.15,204.45 733.30,204.41 733.45,204.74 733.60,204.57 733.75,204.64 733.90,204.36 734.05,204.55 734.20,204.20 734.35,204.34 734.50,204.27 734.65,204.57 734.80,204.45 734.95,204.23 735.10,204.52 735.25,204.44 735.40,204.47 735.55,204.79 735.70,204.18 735.85,204.52 736.00,204.32 736.15,204.45 736.30,204.47 736.45,204.58 736.60,204.51 736.75,204.48 736.90,204.11 737.05,204.34 737.20,204.42 737.35,204.36 737.50,204.32 737.65,204.50 737.80,204.41 737.95,204.34 738.10,204.37 738.25,204.31 738.40,204.31 738.55,204.33 738.70,204.51 738.85,204.61 739.00,204.46 739.15,204.30 739.30,204.34 739.45,204.46 739.60,204.33 739.75,204.50 739.90,204.59 740.05,204.59 740.20,204.31 740.35,204.43 740.50,204.40 740.65,204.47 740.80,204.28 740.95,204.42 741.10,204.43 741.25,204.30 741.40,204.42 741.55,204.47 741.70,204.38 741.85,204.33 742.00,204.43 742.15,204.44 742.30,204.30 742.45,204.37 742.60,204.40 742.75,204.29 742.90,204.45 743.05,204.33 743.20,204.25 743.35,204.54 743.50,204.55 743.65,204.24 743.80,204.34 743.95,204.27 744.10,204.15 744.25,204.52 744.40,204.34 744.55,204.51 744.70,204.34 744.85,204.26 745.00,204.49 745.15,204.34 745.30,204.49 745.45,204.22 745.60,204.57 745.75,204.60 745.90,204.31 746.05,204.14 746.20,204.16 746.35,204.36 746.50,204.15 746.65,204.34 746.80,204.43 746.95,204.32 747.10,204.45 747.25,204.35 747.40,204.29 747.55,204.39 747.70,204.31 747.85,204.44 748.00,204.33 748.15,204.59 748.30,204.28 748.45,204.49 748.60,204.44 748.75,204.46 748.90,204.36 749.05,204.29 749.20,204.16 749.35,204.29 749.50,204.48 749.65,204.45 749.80,204.50 749.95,204.25 750.10,204.42 750.25,204.33 750.40,204.19 750.55,204.50 750.70,204.59 750.85,204.36 751.00,204.51 751.15,204.38 751.30,204.26 751.45,204.16 751.60,204.49 751.75,204.54 751.90,204.34 752.05,204.53 752.20,204.49 752.35,204.31 752.50,204.50 752.65,204.50 752.80,204.32 752.95,204.35 753.10,204.43 753.25,204.30 753.40,204.25 753.55,204.42 753.70,204.65 753.85,204.44 754.00,204.33 754.15,204.33 754.30,204.58 754.45,204.30 754.60,204.28 754.75,204.32 754.90,204.37 755.05,204.32 755.20,204.37 755.35,204.41 755.50,204.55 755.65,204.45 755.80,204.17 755.95,204.36 756.10,204.27 756.25,204.25 756.40,204.34 756.55,204.29 756.70,204.39 756.85,204.33 757.00,204.56 757.15,204.37 757.30,204.23 757.45,204.47 757.60,204.31 757.75,204.44 757.90,204.19 758.05,204.17 758.20,204.19 758.35,204.27 758.50,204.17 758.65,204.59 758.80,204.58 758.95,204.31 759.10,204.63 759.25,204.53 759.40,204.28 759.55,204.35 759.70,204.46 759.85,204.26 760.00,204.48 760.15,204.26 760.30,204.53 760.45,204.65 760.60,204.43 760.75,204.54 760.90,204.41 761.05,204.45 761.20,204.28 761.35,204.40 761.50,204.58 761.65,204.54 761.80,204.25 761.95,204.34 762.10,204.46 762.25,204.49 762.40,204.39 762.55,204.24 762.70,204.31 762.85,204.47 763.00,204.51 763.15,204.32 763.30,204.44 763.45,204.57 763.60,204.28 763.75,204.26 763.90,204.38 764.05,204.53 764.20,204.38 764.35,204.43 764.50,204.23 764.65,204.42 764.80,204.14 764.95,204.40 765.10,204.34 765.25,204.57 765.40,204.48 765.55,204.22 765.70,204.57 765.85,204.67 766.00,204.41 766.15,204.43 766.30,204.32 766.45,204.34 766.60,204.36 766.75,204.46 766.90,204.41 767.05,204.37 767.20,204.24 767.35,204.73 767.50,204.53 767.65,204.53 767.80,204.32 767.95,204.32 768.10,204.35 768.25,204.35 768.40,204.51 768.50,204.40 768.50,205.21 768.73,203.98 768.88,204.50 769.15,203.58 769.42,204.48 769.69,204.26 769.83,205.37 770.02,204.28 770.18,209.58 770.40,197.25 770.65,210.29 770.78,202.94 770.93,207.38 771.21,198.51 771.47,206.53 771.69,204.30 771.92,210.15 772.05,200.56 772.28,211.57 772.41,195.77 772.55,212.35 772.81,204.19 772.97,207.63 773.15,202.65 773.43,206.22 773.63,200.72 773.79,210.30 774.03,203.79 774.20,205.90 774.38,199.72 774.58,206.16 774.84,200.03 775.10,205.00 775.26,203.39 775.50,205.04 775.71,203.19 775.94,207.44 776.13,203.75 776.35,208.52 776.63,200.21 776.83,208.72 777.06,204.09 777.31,208.12 777.48,203.20 777.61,204.84 777.84,197.60 778.03,206.83 778.24,199.85 778.47,209.02 778.70,201.46 778.91,205.34 779.10,194.65 779.31,204.95 779.56,200.32 779.82,205.01 779.97,203.65 780.13,210.62 780.28,198.54 780.47,210.50 780.62,203.12 780.78,209.26 780.91,199.58 781.04,210.97 781.31,201.83 781.45,205.00 781.65,202.98 781.80,208.66 782.00,203.50 782.16,208.01 782.39,202.74 782.67,210.65 782.85,200.06 783.03,207.23 783.23,200.81 783.42,205.93 783.66,198.70 783.92,210.41 784.10,204.23 784.36,209.16 784.50,201.20 784.64,207.64 784.90,202.32 785.14,207.13 785.30,200.14 785.47,208.00 785.65,201.73 785.87,210.37 786.13,201.11 786.38,211.22 786.59,204.18 786.84,208.70 787.11,202.12 787.37,209.59 787.64,202.20 787.79,208.28 788.03,203.20 788.22,213.45 788.46,201.67 788.65,204.83 788.86,199.37" fill="none" stroke="#006400" stroke-width="0.45" stroke-opacity="1" stroke-linejoin="bevel"/>
<polyline points="770.20,204.40 770.76,182.50 771.00,212.53 771.16,185.78 771.40,231.50 771.80,204.40" fill="none" stroke="#006400" stroke-width="0.5850000000000001" stroke-opacity="1" stroke-linejoin="bevel"/>
<polyline points="771.10,204.40 771.45,186.00 771.60,210.88 771.70,188.76 771.85,226.00 772.10,204.40" fill="none" stroke="#006400" stroke-width="0.5850000000000001" stroke-opacity="1" stroke-linejoin="bevel"/>
</svg>
<rect x="507" y="179" width="283" height="54.5" fill="none" stroke="#000" stroke-width="1.8"/>
<line x1="529.00" y1="173.5" x2="529.00" y2="178" stroke="#000" stroke-width="0.8"/>
<line x1="529.00" y1="234.5" x2="529.00" y2="239.0" stroke="#000" stroke-width="0.8"/>
<text x="529.00" y="251.6" text-anchor="middle" font-family="'Liberation Sans',Arial,sans-serif" font-size="10px">20</text>
<line x1="552.64" y1="173.5" x2="552.64" y2="178" stroke="#000" stroke-width="0.8"/>
<line x1="552.64" y1="234.5" x2="552.64" y2="239.0" stroke="#000" stroke-width="0.8"/>
<text x="552.64" y="251.6" text-anchor="middle" font-family="'Liberation Sans',Arial,sans-serif" font-size="10px">25</text>
<line x1="576.28" y1="173.5" x2="576.28" y2="178" stroke="#000" stroke-width="0.8"/>
<line x1="576.28" y1="234.5" x2="576.28" y2="239.0" stroke="#000" stroke-width="0.8"/>
<text x="576.28" y="251.6" text-anchor="middle" font-family="'Liberation Sans',Arial,sans-serif" font-size="10px">30</text>
<line x1="599.92" y1="173.5" x2="599.92" y2="178" stroke="#000" stroke-width="0.8"/>
<line x1="599.92" y1="234.5" x2="599.92" y2="239.0" stroke="#000" stroke-width="0.8"/>
<text x="599.92" y="251.6" text-anchor="middle" font-family="'Liberation Sans',Arial,sans-serif" font-size="10px">35</text>
<line x1="623.56" y1="173.5" x2="623.56" y2="178" stroke="#000" stroke-width="0.8"/>
<line x1="623.56" y1="234.5" x2="623.56" y2="239.0" stroke="#000" stroke-width="0.8"/>
<text x="623.56" y="251.6" text-anchor="middle" font-family="'Liberation Sans',Arial,sans-serif" font-size="10px">40</text>
<line x1="647.20" y1="173.5" x2="647.20" y2="178" stroke="#000" stroke-width="0.8"/>
<line x1="647.20" y1="234.5" x2="647.20" y2="239.0" stroke="#000" stroke-width="0.8"/>
<text x="647.20" y="251.6" text-anchor="middle" font-family="'Liberation Sans',Arial,sans-serif" font-size="10px">45</text>
<line x1="670.84" y1="173.5" x2="670.84" y2="178" stroke="#000" stroke-width="0.8"/>
<line x1="670.84" y1="234.5" x2="670.84" y2="239.0" stroke="#000" stroke-width="0.8"/>
<text x="670.84" y="251.6" text-anchor="middle" font-family="'Liberation Sans',Arial,sans-serif" font-size="10px">50</text>
<line x1="694.48" y1="173.5" x2="694.48" y2="178" stroke="#000" stroke-width="0.8"/>
<line x1="694.48" y1="234.5" x2="694.48" y2="239.0" stroke="#000" stroke-width="0.8"/>
<text x="694.48" y="251.6" text-anchor="middle" font-family="'Liberation Sans',Arial,sans-serif" font-size="10px">55</text>
<line x1="718.12" y1="173.5" x2="718.12" y2="178" stroke="#000" stroke-width="0.8"/>
<line x1="718.12" y1="234.5" x2="718.12" y2="239.0" stroke="#000" stroke-width="0.8"/>
<text x="718.12" y="251.6" text-anchor="middle" font-family="'Liberation Sans',Arial,sans-serif" font-size="10px">00</text>
<line x1="741.76" y1="173.5" x2="741.76" y2="178" stroke="#000" stroke-width="0.8"/>
<line x1="741.76" y1="234.5" x2="741.76" y2="239.0" stroke="#000" stroke-width="0.8"/>
<text x="741.76" y="251.6" text-anchor="middle" font-family="'Liberation Sans',Arial,sans-serif" font-size="10px">05</text>
<line x1="765.40" y1="173.5" x2="765.40" y2="178" stroke="#000" stroke-width="0.8"/>
<line x1="765.40" y1="234.5" x2="765.40" y2="239.0" stroke="#000" stroke-width="0.8"/>
<text x="765.40" y="251.6" text-anchor="middle" font-family="'Liberation Sans',Arial,sans-serif" font-size="10px">10</text>
<line x1="789.04" y1="173.5" x2="789.04" y2="178" stroke="#000" stroke-width="0.8"/>
<line x1="789.04" y1="234.5" x2="789.04" y2="239.0" stroke="#000" stroke-width="0.8"/>
<text x="789.04" y="251.6" text-anchor="middle" font-family="'Liberation Sans',Arial,sans-serif" font-size="10px">15</text>
<text x="799.3" y="191" font-family="'Liberation Sans',Arial,sans-serif" font-size="10px" font-weight="bold" fill="#0000ff">Esc. La Uvita, Osa</text>
<text x="799.3" y="214.2" font-family="'Liberation Sans',Arial,sans-serif" font-size="10px">Acel. Max. 0.4</text>
<text x="799.3" y="232.4" font-family="'Liberation Sans',Arial,sans-serif" font-size="10px">Int JMA: 0</text>
<rect x="507" y="258.8" width="283" height="54.5" fill="#fff" stroke="none"/>
<svg x="507" y="258.8" width="283" height="54.5" viewBox="507 258.8 283 54.5" overflow="hidden">
<polyline points="508.00,290.60 774.00,290.60 774.00,291.33 774.22,290.02 774.49,290.66 774.73,290.14 774.96,290.90 775.14,289.74 775.39,290.91 775.65,290.31 775.83,290.67 776.05,289.52 776.19,291.44 776.34,290.32 776.56,294.10 776.70,287.18 776.85,296.04 777.13,289.84 777.32,299.15 777.55,283.74 777.69,297.09 777.83,286.54 777.97,295.18 778.12,286.01 778.31,292.52 778.51,281.13 778.65,291.57 778.81,288.47 778.94,290.76 779.14,288.26 779.28,297.73 779.48,289.73 779.68,295.53 779.89,290.14 780.03,293.88 780.28,290.08 780.56,292.83 780.79,289.63 781.00,297.21 781.27,289.82 781.46,293.69 781.73,286.28 781.89,291.44 782.11,288.18 782.31,290.75 782.43,286.76 782.60,295.65 782.77,290.06 783.04,292.38 783.16,288.42 783.31,291.43 783.57,288.15 783.73,290.64 783.99,285.90 784.16,290.84 784.37,287.40 784.59,295.78 784.79,288.67 785.04,292.68 785.32,288.33 785.52,290.99 785.79,288.05 786.01,290.71 786.20,283.95 786.38,290.70 786.53,289.31 786.76,291.93 786.95,289.01 787.16,293.93 787.32,287.54 787.50,291.77 787.65,290.01 787.80,290.81 788.02,289.29 788.18,292.65 788.36,287.95 788.63,292.15 788.75,288.29 788.94,290.84" fill="none" stroke="#006400" stroke-width="0.45" stroke-opacity="1" stroke-linejoin="bevel"/>
<polyline points="776.80,290.60 777.22,262.50 777.40,296.87 777.52,266.72 777.70,311.50 778.00,290.60" fill="none" stroke="#006400" stroke-width="0.5850000000000001" stroke-opacity="1" stroke-linejoin="bevel"/>
</svg>
<rect x="507" y="258.8" width="283" height="54.5" fill="none" stroke="#000" stroke-width="1.8"/>
<line x1="506.80" y1="253.3" x2="506.80" y2="257.8" stroke="#000" stroke-width="0.8"/>
<line x1="506.80" y1="314.3" x2="506.80" y2="318.8" stroke="#000" stroke-width="0.8"/>
<text x="506.80" y="330.5" text-anchor="middle" font-family="'Liberation Sans',Arial,sans-serif" font-size="10px">15</text>
<line x1="530.44" y1="253.3" x2="530.44" y2="257.8" stroke="#000" stroke-width="0.8"/>
<line x1="530.44" y1="314.3" x2="530.44" y2="318.8" stroke="#000" stroke-width="0.8"/>
<text x="530.44" y="330.5" text-anchor="middle" font-family="'Liberation Sans',Arial,sans-serif" font-size="10px">20</text>
<line x1="554.08" y1="253.3" x2="554.08" y2="257.8" stroke="#000" stroke-width="0.8"/>
<line x1="554.08" y1="314.3" x2="554.08" y2="318.8" stroke="#000" stroke-width="0.8"/>
<text x="554.08" y="330.5" text-anchor="middle" font-family="'Liberation Sans',Arial,sans-serif" font-size="10px">25</text>
<line x1="577.72" y1="253.3" x2="577.72" y2="257.8" stroke="#000" stroke-width="0.8"/>
<line x1="577.72" y1="314.3" x2="577.72" y2="318.8" stroke="#000" stroke-width="0.8"/>
<text x="577.72" y="330.5" text-anchor="middle" font-family="'Liberation Sans',Arial,sans-serif" font-size="10px">30</text>
<line x1="601.36" y1="253.3" x2="601.36" y2="257.8" stroke="#000" stroke-width="0.8"/>
<line x1="601.36" y1="314.3" x2="601.36" y2="318.8" stroke="#000" stroke-width="0.8"/>
<text x="601.36" y="330.5" text-anchor="middle" font-family="'Liberation Sans',Arial,sans-serif" font-size="10px">35</text>
<line x1="625.00" y1="253.3" x2="625.00" y2="257.8" stroke="#000" stroke-width="0.8"/>
<line x1="625.00" y1="314.3" x2="625.00" y2="318.8" stroke="#000" stroke-width="0.8"/>
<text x="625.00" y="330.5" text-anchor="middle" font-family="'Liberation Sans',Arial,sans-serif" font-size="10px">40</text>
<line x1="648.64" y1="253.3" x2="648.64" y2="257.8" stroke="#000" stroke-width="0.8"/>
<line x1="648.64" y1="314.3" x2="648.64" y2="318.8" stroke="#000" stroke-width="0.8"/>
<text x="648.64" y="330.5" text-anchor="middle" font-family="'Liberation Sans',Arial,sans-serif" font-size="10px">45</text>
<line x1="672.28" y1="253.3" x2="672.28" y2="257.8" stroke="#000" stroke-width="0.8"/>
<line x1="672.28" y1="314.3" x2="672.28" y2="318.8" stroke="#000" stroke-width="0.8"/>
<text x="672.28" y="330.5" text-anchor="middle" font-family="'Liberation Sans',Arial,sans-serif" font-size="10px">50</text>
<line x1="695.92" y1="253.3" x2="695.92" y2="257.8" stroke="#000" stroke-width="0.8"/>
<line x1="695.92" y1="314.3" x2="695.92" y2="318.8" stroke="#000" stroke-width="0.8"/>
<text x="695.92" y="330.5" text-anchor="middle" font-family="'Liberation Sans',Arial,sans-serif" font-size="10px">55</text>
<line x1="719.56" y1="253.3" x2="719.56" y2="257.8" stroke="#000" stroke-width="0.8"/>
<line x1="719.56" y1="314.3" x2="719.56" y2="318.8" stroke="#000" stroke-width="0.8"/>
<text x="719.56" y="330.5" text-anchor="middle" font-family="'Liberation Sans',Arial,sans-serif" font-size="10px">00</text>
<line x1="743.20" y1="253.3" x2="743.20" y2="257.8" stroke="#000" stroke-width="0.8"/>
<line x1="743.20" y1="314.3" x2="743.20" y2="318.8" stroke="#000" stroke-width="0.8"/>
<text x="743.20" y="330.5" text-anchor="middle" font-family="'Liberation Sans',Arial,sans-serif" font-size="10px">05</text>
<line x1="766.84" y1="253.3" x2="766.84" y2="257.8" stroke="#000" stroke-width="0.8"/>
<line x1="766.84" y1="314.3" x2="766.84" y2="318.8" stroke="#000" stroke-width="0.8"/>
<text x="766.84" y="330.5" text-anchor="middle" font-family="'Liberation Sans',Arial,sans-serif" font-size="10px">10</text>
<text x="799.3" y="266.8" font-family="'Liberation Sans',Arial,sans-serif" font-size="10px" font-weight="bold" fill="#0000ff">Rivas de Perez Zeledon</text>
<text x="799.3" y="289.6" font-family="'Liberation Sans',Arial,sans-serif" font-size="10px">Acel. Max. 0.1</text>
<text x="799.3" y="307.6" font-family="'Liberation Sans',Arial,sans-serif" font-size="10px">Int JMA: 0</text>
<rect x="507" y="338" width="283" height="54.5" fill="#fff" stroke="none"/>
<svg x="507" y="338" width="283" height="54.5" viewBox="507 338 283 54.5" overflow="hidden">
<polyline points="508.20,372.78 508.38,361.37 508.57,372.40 508.72,366.00 508.82,370.63 508.97,365.57 509.08,369.02 509.19,356.21 509.29,370.80 509.47,365.27 509.58,376.96 509.77,365.89 509.92,370.30 510.11,355.69 510.23,368.92 510.33,364.71 510.48,374.47 510.60,366.84 510.74,369.29 510.83,361.78 510.92,367.02 511.09,357.39 511.24,368.54 511.43,366.91 511.59,377.77 511.72,361.90 511.89,373.46 512.06,356.56 512.25,370.84 512.43,364.52 512.61,371.17 512.72,365.78 512.82,373.34 512.92,351.22 513.06,370.07 513.23,364.93 513.37,388.08 513.51,363.15 513.61,368.42 513.78,354.73 513.91,372.77 514.05,359.13 514.22,372.50 514.38,366.16 514.50,369.35 514.69,365.38 514.84,371.62 514.96,366.98 515.14,372.75 515.30,360.16 515.46,372.20 515.60,360.97 515.76,370.35 515.91,343.28 516.05,367.03 516.23,359.36 516.40,371.25 516.57,360.98 516.74,372.36 516.93,361.28 517.07,371.92 517.21,358.54 517.37,367.39 517.52,363.86 517.65,373.34 517.81,354.50 517.92,373.98 518.08,364.29 518.17,370.64 518.28,366.34 518.38,367.49 518.51,365.69 518.66,368.71 518.79,355.82 518.92,374.34 519.02,360.52 519.12,371.54 519.30,365.67 519.43,369.88 519.54,360.11 519.68,380.18 519.81,363.37 519.90,372.25 520.00,362.77 520.18,370.93 520.30,363.12 520.43,378.11 520.55,364.24 520.68,370.89 520.82,364.72 520.96,372.14 521.08,362.07 521.25,373.25 521.44,366.48 521.55,367.32 521.67,364.10 521.81,371.19 521.91,361.61 522.03,371.43 522.17,366.06 522.30,367.42 522.41,360.38 522.60,376.45 522.76,363.00 522.91,368.80 523.09,360.33 523.22,368.92 523.40,364.43 523.57,368.75 523.74,362.18 523.84,373.01 523.96,366.18 524.11,367.68 524.28,365.34 524.44,374.49 524.63,365.79 524.73,368.81 524.91,364.24 525.01,369.76 525.17,356.95 525.27,368.00 525.40,366.04 525.50,373.78 525.60,363.54 525.72,371.31 525.85,363.87 526.01,370.76 526.19,361.78 526.34,367.48 526.51,361.30 526.61,367.42 526.72,362.70 526.87,372.71 526.98,363.62 527.09,370.64 527.26,359.92 527.42,369.38 527.58,366.17 527.68,373.39 527.78,365.90 527.91,367.37 528.04,363.10 528.14,370.06 528.27,361.55 528.41,371.69 528.54,363.92 528.64,367.36 528.77,365.84 528.86,375.78 529.00,365.34 529.10,368.40 529.23,364.95 529.33,367.09 529.45,363.62 529.59,376.30 529.77,365.11 529.93,376.83 530.09,365.24 530.24,367.32 530.34,364.57 530.43,375.97 530.56,360.59 530.67,367.72 530.79,360.57 530.97,369.61 531.06,363.60 531.23,368.03 531.42,366.35 531.54,368.28 531.68,366.15 531.78,367.05 531.87,365.72 532.01,367.89 532.19,365.80 532.33,370.96 532.45,364.22 532.60,371.64 532.71,362.00 532.85,372.04 533.01,366.57 533.19,368.49 533.30,363.07 533.42,372.62 533.54,363.56 533.64,367.05 533.79,365.40 533.89,367.36 534.00,365.87 534.10,369.88 534.25,365.44 534.40,367.30 534.58,362.13 534.76,367.80 534.93,361.30 535.04,369.06 535.19,366.10 535.29,367.81 535.39,362.34 535.51,372.68 535.62,360.14 535.75,367.28 535.92,366.50 536.02,369.17 536.16,366.58 536.33,369.30 536.46,364.89 536.60,367.92 536.78,358.74 536.88,368.45 537.07,360.25 537.22,374.20 537.33,366.18 537.44,370.03 537.56,365.75 537.67,373.60 537.82,366.27 537.93,370.92 538.03,363.53 538.19,368.85 538.32,365.67 538.49,371.36 538.58,362.75 538.73,368.33 538.83,363.94 538.95,372.17 539.14,366.22 539.32,368.74 539.49,362.39 539.64,368.72 539.74,363.39 539.87,371.84 539.99,364.33 540.11,367.27 540.26,365.78 540.44,369.35 540.59,361.34 540.74,368.88 540.88,365.57 540.97,368.54 541.15,365.74 541.30,368.14 541.45,366.02 541.57,368.64 541.69,365.59 541.87,369.18 541.98,363.20 542.13,370.05 542.26,361.49 542.40,369.14 542.55,365.55 542.66,368.47 542.81,366.72 542.92,370.59 543.09,364.58 543.22,370.80 543.40,360.58 543.58,367.60 543.72,362.50 543.83,367.72 543.98,365.93 544.15,367.46 544.31,361.70 544.49,372.26 544.59,361.75 544.70,369.23 544.87,364.77 545.00,369.64 545.15,366.26 545.31,374.28 545.40,366.79 545.57,367.40 545.69,365.63 545.87,368.75 546.03,365.39 546.18,367.74 546.32,364.49 546.45,367.33 546.57,362.72 546.71,370.61 546.89,366.65 547.02,367.11 547.14,366.45 547.26,369.78 547.35,366.25 547.54,370.11 547.66,365.83 547.82,367.97 547.99,366.95 548.14,370.49 548.23,362.08 548.40,372.18 548.58,363.85 548.77,367.25 548.94,360.68 549.12,369.10 549.24,366.92 549.36,367.78 549.50,365.66 549.62,372.04 549.71,363.21 549.90,368.34 550.08,366.04 550.18,368.29 550.34,364.03 550.51,369.14 550.67,363.97 550.77,368.85 550.91,364.65 551.09,367.23 551.24,362.99 551.34,376.64 551.51,366.43 551.65,371.25 551.79,359.91 551.92,367.37 552.05,366.46 552.24,369.65 552.42,364.19 552.61,367.61 552.71,365.19 552.87,370.09 552.99,366.43 553.16,368.91 553.31,364.74 553.45,368.27 553.55,366.50 553.67,367.90 553.78,361.46 553.93,370.46 554.05,364.08 554.18,368.61 554.28,365.79 554.43,367.96 554.57,366.94 554.66,368.38 554.81,366.14 554.92,368.50 555.08,366.50 555.18,371.58 555.34,365.83 555.49,367.92 555.61,365.61 555.70,367.20 555.84,363.03 555.95,367.67 556.05,359.02 556.15,371.12 556.25,364.91 556.39,368.39 556.57,363.65 556.69,371.13 556.84,366.84 556.97,368.36 557.07,360.77 557.19,369.03 557.35,365.31 557.45,367.38 557.60,363.97 557.75,375.61 557.90,364.21 558.02,369.54 558.12,365.35 558.25,367.84 558.36,366.10 558.53,370.23 558.66,364.54 558.75,369.60 558.89,365.87 559.08,368.57 559.18,366.66 559.28,371.30 559.39,366.65 559.58,369.13 559.76,365.96 559.91,369.69 560.06,365.49 560.15,370.64 560.33,365.52 560.47,368.24 560.61,361.26 560.76,368.60 560.93,365.19 561.12,368.47 561.25,365.36 561.43,369.95 561.57,362.12 561.70,372.59 561.87,365.07 562.01,369.78 562.20,363.65 562.32,368.45 562.45,365.58 562.55,370.60 562.64,361.68 562.77,370.41 562.94,362.47 563.06,367.52 563.21,362.40 563.32,367.19 563.49,366.99 563.58,371.40 563.69,366.01 563.87,367.56 564.00,359.50 564.11,367.09 564.26,366.43 564.40,370.18 564.52,365.61 564.69,372.86 564.81,364.86 564.91,367.66 565.01,366.75 565.15,368.54 565.24,362.52 565.41,372.67 565.57,361.41 565.72,375.71 565.83,365.88 565.95,370.30 566.06,362.17 566.20,369.14 566.30,360.39 566.48,368.13 566.62,364.18 566.71,374.16 566.89,364.94 567.05,373.76 567.19,359.84 567.34,372.20 567.45,362.27 567.57,370.17 567.71,360.01 567.84,372.09 567.94,363.55 568.03,369.83 568.12,363.15 568.31,369.04 568.40,363.49 568.50,372.81 568.63,364.75 568.77,372.52 568.88,363.90 569.01,368.49 569.18,363.97 569.32,368.32 569.42,360.16 569.55,371.00 569.68,358.56 569.78,368.96 569.96,366.77 570.05,372.38 570.16,366.55 570.29,373.52 570.41,363.87 570.53,370.66 570.66,365.30 570.76,368.84 570.89,364.19 571.07,370.53 571.25,360.36 571.36,367.86 571.50,363.19 571.64,370.68 571.80,361.63 571.93,369.39 572.10,365.80 572.23,372.40 572.36,362.89 572.46,373.64 572.56,361.58 572.71,370.23 572.84,359.64 572.97,369.15 573.14,361.18 573.32,369.61 573.47,361.67 573.65,373.32 573.83,360.28 574.01,369.80 574.17,366.95 574.29,369.55 574.42,362.11 574.57,373.85 574.69,361.29 574.86,369.19 575.01,363.58 575.19,367.84 575.34,362.39 575.52,373.20 575.67,365.17 575.78,376.70 575.91,365.66 576.02,372.71 576.13,352.03 576.23,376.14 576.41,366.73 576.52,369.16 576.63,363.11 576.77,371.79 576.94,366.68 577.11,373.15 577.25,363.18 577.35,367.39 577.44,360.70 577.57,373.37 577.74,365.24 577.86,370.92 578.03,363.85 578.15,367.46 578.27,365.75 578.39,367.53 578.53,363.09 578.70,370.56 578.85,354.29 579.01,378.86 579.17,366.04 579.28,374.24 579.44,365.41 579.58,378.23 579.73,365.43 579.88,368.84 580.03,362.52 580.13,374.25 580.23,364.44 580.33,377.05 580.44,366.96 580.57,369.07 580.73,365.68 580.83,367.66 580.96,362.10 581.10,370.46 581.26,366.68 581.40,368.98 581.50,351.75 581.65,371.55 581.81,358.81 581.96,375.67 582.12,362.60 582.27,368.61 582.39,365.48 582.53,368.85 582.71,356.48 582.86,372.56 583.05,366.70 583.21,371.56 583.39,360.55 583.53,374.38 583.70,360.44 583.79,379.66 583.96,360.67 584.13,376.35 584.30,365.11 584.49,374.54 584.64,366.69 584.82,370.20 584.93,360.03 585.05,370.59 585.21,355.59 585.39,372.80 585.51,365.29 585.61,370.40 585.80,362.38 585.91,369.51 586.02,358.00 586.13,374.20 586.27,357.81 586.41,371.09 586.51,362.83 586.64,372.19 586.80,366.90 586.97,372.77 587.15,366.77 587.26,375.58 587.35,366.32 587.50,372.61 587.63,365.31 587.80,367.26 587.92,359.83 588.07,377.15 588.21,365.48 588.31,370.44 588.41,366.36 588.53,367.62 588.64,361.03 588.78,369.66 588.93,365.77 589.09,381.00 589.24,362.83 589.38,371.87 589.49,358.96 589.63,370.19 589.81,360.05 589.98,378.43 590.12,354.16 590.24,373.22 590.41,366.23 590.58,372.17 590.76,364.43 590.85,370.79 590.96,361.60 591.09,367.79 591.24,359.62 591.42,381.61 591.53,364.12 591.70,373.19 591.83,361.54 591.94,368.51 592.13,365.70 592.26,369.30 592.37,354.44 592.55,374.80 592.70,364.65 592.82,370.26 592.96,357.44 593.10,374.52 593.28,364.38 593.43,369.90 593.56,355.60 593.65,369.56 593.75,354.67 593.90,372.03 594.08,360.74 594.20,371.78 594.35,366.67 594.53,376.17 594.70,359.40 594.85,367.55 594.98,360.31 595.13,376.64 595.25,365.24 595.35,375.99 595.50,361.89 595.69,375.04 595.82,366.82 595.97,380.82 596.13,353.57 596.28,370.40 596.44,365.23 596.55,372.17 596.67,355.14 596.84,369.49 596.96,344.29 597.11,369.62 597.22,356.87 597.35,372.84 597.50,363.77 597.68,374.39 597.83,361.33 597.95,373.47 598.06,359.84 598.21,372.14 598.34,359.31 598.50,370.62 598.59,359.39 598.77,370.81 598.91,363.37 599.04,372.91 599.16,357.07 599.26,368.25 599.37,364.17 599.55,380.59 599.67,366.87 599.86,373.30 600.01,350.47 600.18,376.03 600.33,360.87 600.48,370.23 600.57,358.18 600.70,367.44 600.84,357.55 600.97,375.64 601.11,362.13 601.26,368.61 601.44,363.74 601.53,375.70 601.69,360.18 601.79,368.17 601.91,354.38 602.09,372.38 602.28,365.74 602.39,368.01 602.55,359.13 602.70,368.61 602.83,361.57 602.93,372.39 603.03,363.87 603.22,376.82 603.38,355.45 603.51,370.00 603.62,361.77 603.76,368.55 603.86,361.11 603.96,373.04 604.08,366.14 604.26,372.15 604.40,364.57 604.54,372.92 604.66,365.44 604.82,368.79 604.96,366.14 605.10,375.84 605.29,366.71 605.45,390.50 605.58,349.05 605.77,377.04 605.92,363.62 606.11,390.50 606.20,366.95 606.33,371.63 606.43,358.16 606.53,374.99 606.64,356.89 606.74,372.65 606.90,357.23 607.02,373.72 607.20,363.46 607.37,369.19 607.52,364.64 607.63,367.01 607.76,359.48 607.91,368.25 608.02,360.02 608.12,375.60 608.27,354.11 608.41,371.51 608.55,365.36 608.69,372.67 608.80,357.58 608.95,369.57 609.10,358.74 609.23,376.56 609.34,364.67 609.52,374.06 609.66,357.87 609.77,384.15 609.88,349.89 610.01,371.45 610.12,354.62 610.25,377.22 610.40,366.85 610.54,368.20 610.73,362.83 610.88,377.76 611.05,362.47 611.18,378.53 611.28,354.40 611.47,371.39 611.57,350.15 611.70,372.26 611.87,365.76 612.00,374.41 612.12,366.57 612.31,368.26 612.48,363.25 612.66,369.61 612.79,365.98 612.93,373.54 613.05,359.06 613.18,372.39 613.29,355.08 613.43,376.68 613.57,348.35 613.69,385.33 613.81,363.03 613.96,374.27 614.13,359.15 614.30,368.28 614.40,362.81 614.59,371.56 614.77,364.36 614.89,370.77 615.02,366.94 615.12,371.72 615.31,363.36 615.43,367.39 615.56,360.64 615.72,370.43 615.83,355.85 616.01,372.51 616.15,365.70 616.26,368.04 616.42,366.20 616.57,373.50 616.67,366.48 616.83,370.78 616.97,364.34 617.14,374.76 617.24,356.95 617.41,369.19 617.53,360.66 617.72,378.13 617.91,355.23 618.02,370.81 618.17,365.42 618.31,383.76 618.42,366.85 618.57,371.35 618.72,345.72 618.86,368.14 619.00,355.46 619.16,376.27 619.29,366.63 619.45,381.20 619.61,365.96 619.78,369.47 619.89,359.82 620.00,371.91 620.09,355.66 620.25,368.54 620.35,361.10 620.52,368.70 620.61,358.81 620.74,369.28 620.90,365.89 621.06,373.26 621.19,360.25 621.37,373.92 621.50,357.25 621.62,367.23 621.71,358.73 621.90,367.37 622.00,361.64 622.12,372.25 622.26,366.04 622.36,370.25 622.55,364.11 622.73,369.85 622.87,365.43 623.02,372.40 623.19,366.75 623.32,372.27 623.44,365.19 623.56,374.63 623.67,354.01 623.79,375.75 623.95,365.86 624.12,371.17 624.24,366.81 624.37,368.62 624.55,366.85 624.68,376.48 624.81,364.37 624.93,369.74 625.05,360.93 625.16,381.70 625.27,366.31 625.43,371.59 625.62,355.71 625.72,374.22 625.85,358.43 626.03,368.17 626.19,358.06 626.34,374.86 626.50,365.51 626.68,367.89 626.77,365.40 626.91,367.24 627.07,355.14 627.23,369.82 627.37,363.62 627.48,370.46 627.65,360.82 627.80,371.48 627.99,364.90 628.08,369.50 628.20,366.52 628.37,379.24 628.50,360.12 628.67,370.58 628.81,365.26 628.97,373.57 629.11,357.27 629.27,370.23 629.39,364.64 629.50,370.45 629.65,358.79 629.83,372.30 629.96,360.71 630.06,376.85 630.23,365.29 630.32,368.68 630.41,362.49 630.54,374.23 630.64,364.78 630.82,368.79 631.00,359.59 631.15,371.90 631.29,363.72 631.42,372.75 631.55,364.66 631.66,368.47 631.83,360.84 631.92,373.26 632.05,359.24 632.19,369.68 632.34,365.23 632.49,373.09 632.62,365.78 632.71,378.63 632.82,360.47 633.00,369.56 633.12,358.12 633.25,367.37 633.35,364.71 633.54,372.27 633.70,361.73 633.86,370.90 634.03,354.91 634.14,373.37 634.29,366.65 634.45,371.42 634.59,360.00 634.76,368.80 634.88,362.37 634.99,376.18 635.10,358.28 635.28,367.28 635.40,354.06 635.50,371.72 635.67,356.54 635.84,368.99 636.02,359.53 636.13,375.34 636.30,366.17 636.46,370.78 636.60,363.34 636.76,371.00 636.87,366.42 637.05,370.42 637.22,355.73 637.35,370.86 637.50,364.33 637.64,370.72 637.82,342.60 638.00,371.68 638.15,356.92 638.26,371.15 638.38,357.67 638.52,371.39 638.69,356.08 638.79,370.36 638.88,366.18 638.98,375.18 639.14,354.93 639.23,370.13 639.36,366.86 639.46,370.37 639.59,362.84 639.72,370.68 639.81,365.51 639.99,373.21 640.16,363.80 640.32,372.85 640.43,364.82 640.54,370.38 640.71,355.12 640.89,377.03 641.04,365.00 641.16,372.09 641.32,363.63 641.45,371.42 641.62,364.40 641.76,370.41 641.87,357.18 642.05,368.83 642.24,359.64 642.41,380.20 642.55,366.46 642.70,370.75 642.84,362.76 643.01,372.13 643.13,365.28 643.30,374.39 643.47,365.87 643.62,368.18 643.80,366.52 643.93,368.83 644.06,360.42 644.21,367.95 644.31,366.97 644.48,375.92 644.64,363.31 644.79,368.78 644.91,359.16 645.01,374.39 645.18,361.96 645.32,367.46 645.43,359.72 645.62,369.64 645.72,359.78 645.90,368.75 646.05,366.59 646.23,373.81 646.39,360.90 646.50,370.63 646.66,359.17 646.82,373.46 646.95,366.14 647.06,373.14 647.20,362.54 647.39,373.23 647.48,365.63 647.65,367.60 647.82,359.92 647.97,374.23 648.15,366.01 648.28,368.72 648.38,366.91 648.53,369.76 648.62,361.65 648.75,368.99 648.93,357.14 649.08,371.03 649.20,356.28 649.32,372.80 649.42,363.60 649.61,372.81 649.80,365.70 649.89,386.95 650.07,350.28 650.21,371.84 650.32,360.94 650.48,371.59 650.66,359.15 650.84,373.43 651.01,364.71 651.18,373.99 651.36,360.78 651.51,382.09 651.62,364.72 651.75,379.03 651.91,363.18 652.09,367.86 652.24,358.12 652.35,367.32 652.47,355.58 652.61,372.00 652.79,365.81 652.90,376.58 653.05,358.13 653.20,370.13 653.32,364.90 653.44,378.70 653.62,365.90 653.75,374.80 653.89,363.10 654.06,367.69 654.15,364.59 654.30,367.83 654.45,364.30 654.63,371.28 654.72,358.99 654.82,367.98 654.95,365.47 655.08,371.96 655.19,366.66 655.36,368.94 655.51,364.77 655.66,382.22 655.85,361.57 655.99,368.28 656.15,363.05 656.27,372.68 656.39,354.78 656.54,370.13 656.63,363.31 656.74,368.64 656.85,361.49 657.03,375.03 657.22,362.84 657.40,374.39 657.53,359.29 657.65,371.60 657.76,364.68 657.93,371.08 658.10,365.02 658.24,370.92 658.35,360.58 658.50,370.22 658.63,361.32 658.75,367.96 658.91,354.01 659.07,371.92 659.23,366.25 659.38,368.18 659.56,365.96 659.71,379.54 659.84,362.27 659.95,370.61 660.09,365.65 660.28,370.10 660.38,357.67 660.56,374.59 660.67,360.88 660.79,367.96 660.93,365.87 661.06,367.95 661.19,366.14 661.32,372.19 661.42,357.57 661.57,384.17 661.71,363.44 661.81,368.44 661.92,363.06 662.06,375.36 662.24,366.46 662.37,367.28 662.54,366.96 662.67,373.24 662.85,366.28 663.02,382.64 663.13,363.28 663.24,372.15 663.35,363.06 663.47,379.95 663.64,363.47 663.82,368.67 663.93,358.50 664.05,368.38 664.16,357.85 664.29,373.82 664.43,360.73 664.59,367.94 664.68,363.16 664.80,371.10 664.91,359.79 665.07,368.63 665.21,363.39 665.37,367.95 665.51,354.04 665.62,367.46 665.78,362.29 665.88,367.40 666.05,360.09 666.14,371.11 666.33,365.93 666.46,373.99 666.61,353.86 666.71,371.62 666.87,363.56 667.02,386.60 667.16,357.75 667.30,374.21 667.44,361.40 667.62,373.98 667.78,360.30 667.97,369.43 668.07,366.15 668.23,368.12 668.34,361.32 668.44,372.63 668.61,356.85 668.75,372.92 668.89,355.09 668.99,368.02 669.17,358.02 669.31,367.59 669.46,363.65 669.63,368.77 669.72,366.51 669.83,372.46 669.99,363.60 670.10,367.40 670.26,364.78 670.36,374.65 670.51,362.65 670.67,380.72 670.77,360.13 670.86,373.86 671.01,363.90 671.17,369.74 671.27,356.48 671.43,368.96 671.55,361.51 671.67,375.92 671.84,361.65 672.03,383.66 672.19,366.37 672.32,369.08 672.45,365.29 672.56,377.16 672.70,356.27 672.86,383.85 673.00,359.15 673.10,371.07 673.22,362.92 673.33,378.73 673.42,365.12 673.57,377.95 673.72,364.36 673.90,371.12 674.09,345.07 674.24,372.86 674.42,364.75 674.53,373.23 674.64,359.36 674.81,376.66 675.00,361.62 675.17,369.43 675.28,365.60 675.46,373.01 675.62,366.34 675.78,368.65 675.94,366.42 676.10,367.77 676.20,360.90 676.36,369.70 676.53,356.24 676.69,367.56 676.87,364.20 677.05,372.57 677.15,365.07 677.32,370.12 677.42,363.95 677.54,376.86 677.65,363.53 677.77,373.12 677.89,366.01 678.07,368.41 678.21,361.37 678.36,369.89 678.55,364.43 678.71,371.42 678.83,362.16 678.98,373.05 679.12,366.52 679.28,367.85 679.44,359.10 679.62,371.98 679.74,362.91 679.92,368.21 680.06,362.02 680.18,367.30 680.28,364.05 680.47,372.71 680.57,364.72 680.76,372.14 680.87,364.89 680.97,368.24 681.15,363.61 681.27,369.19 681.39,365.73 681.51,374.51 681.62,359.14 681.72,371.25 681.82,364.78 681.94,374.97 682.06,362.90 682.22,368.07 682.34,366.14 682.48,368.57 682.61,361.12 682.76,371.43 682.94,363.27 683.12,367.09 683.25,363.37 683.42,368.38 683.60,363.99 683.75,383.39 683.93,362.97 684.08,372.30 684.25,359.87 684.40,367.11 684.58,358.07 684.76,367.57 684.94,364.63 685.12,367.64 685.28,363.84 685.41,370.51 685.58,359.54 685.76,378.24 685.87,364.49 686.00,368.27 686.10,364.79 686.22,377.17 686.40,364.30 686.59,369.67 686.76,362.43 686.94,377.21 687.12,366.77 687.23,369.30 687.42,366.85 687.55,371.27 687.73,351.51 687.90,375.07 688.06,363.26 688.15,371.20 688.24,365.61 688.36,372.37 688.49,360.52 688.61,374.83 688.72,360.62 688.83,367.33 688.96,359.16 689.13,378.94 689.30,350.00 689.44,371.00 689.63,363.83 689.81,370.92 689.98,358.43 690.16,371.37 690.27,354.95 690.41,373.06 690.57,361.05 690.73,373.42 690.83,360.20 690.93,370.08 691.08,366.76 691.24,367.36 691.38,365.39 691.56,375.39 691.73,359.30 691.89,371.47 692.00,365.58 692.15,375.21 692.31,359.20 692.46,369.39 692.58,362.27 692.71,371.17 692.89,351.76 692.99,390.50 693.09,360.83 693.22,372.77 693.32,365.56 693.44,380.66 693.60,366.53 693.70,376.84 693.83,359.91 693.94,378.69 694.04,365.48 694.22,372.01 694.36,362.66 694.48,376.75 694.63,362.76 694.75,369.78 694.94,360.68 695.13,367.51 695.30,365.56 695.47,378.76 695.58,366.30 695.69,374.66 695.87,366.68 695.97,374.07 696.10,365.44 696.27,368.50 696.37,362.08 696.46,371.58 696.60,362.07 696.76,373.71 696.89,361.50 696.99,367.96 697.13,364.52 697.25,383.64 697.37,365.93 697.54,372.86 697.71,366.65 697.85,370.37 698.03,363.54 698.14,371.60 698.23,357.70 698.42,369.13 698.56,365.68 698.68,368.73 698.77,360.20 698.90,368.42 699.08,357.97 699.22,377.73 699.33,365.94 699.47,375.13 699.62,366.72 699.72,378.76 699.90,366.74 700.02,368.99 700.13,362.44 700.32,379.97 700.47,352.94 700.58,383.17 700.77,364.66 700.94,379.15 701.03,359.83 701.16,369.25 701.31,363.60 701.41,371.74 701.55,354.84 701.73,369.62 701.88,365.51 701.99,368.16 702.09,366.12 702.26,372.51 702.43,362.68 702.54,371.56 702.64,352.86 702.80,368.65 702.90,365.84 703.05,377.62 703.15,359.15 703.27,368.06 703.37,362.34 703.47,372.25 703.57,348.95 703.76,368.96 703.93,365.53 704.12,370.65 704.30,360.51 704.47,367.98 704.60,361.46 704.71,377.62 704.82,349.29 704.94,367.47 705.07,351.57 705.22,367.35 705.33,351.55 705.48,374.41 705.59,358.57 705.76,367.64 705.95,355.71 706.13,368.26 706.32,361.28 706.42,371.07 706.55,358.70 706.73,372.33 706.91,353.63 707.02,372.59 707.18,362.73 707.34,373.43 707.47,362.11 707.65,373.69 707.76,359.35 707.87,376.75 707.98,360.23 708.09,373.69 708.26,357.94 708.44,382.36 708.58,357.40 708.69,374.88 708.83,356.37 708.95,373.85 709.11,363.99 709.26,383.62 709.43,363.26 709.56,371.94 709.67,365.71 709.78,369.89 709.93,359.12 710.04,369.55 710.14,346.71 710.33,381.08 710.51,357.13 710.60,370.98 710.77,354.30 710.88,367.54 711.03,356.03 711.15,372.51 711.31,359.52 711.47,369.76 711.60,362.32 711.69,371.95 711.88,362.89 712.07,367.17 712.18,356.97 712.35,373.94 712.46,362.42 712.60,370.90 712.79,364.78 712.97,370.10 713.08,362.18 713.20,374.68 713.34,360.23 713.50,371.43 713.60,356.87 713.74,369.75 713.90,356.78 714.08,370.62 714.20,360.41 714.35,371.22 714.45,366.48 714.59,373.09 714.74,366.15 714.88,371.71 715.01,360.79 715.18,367.74 715.30,359.06 715.46,378.34 715.58,366.81 715.71,375.92 715.83,364.55 715.97,369.16 716.12,361.98 716.22,372.86 716.31,360.44 716.48,375.82 716.61,363.16 716.78,367.30 716.89,358.96 716.99,372.09 717.18,364.81 717.34,372.34 717.51,340.50 717.64,369.54 717.76,363.26 717.94,370.28 718.10,359.04 718.24,367.72 718.36,361.91 718.48,370.14 718.66,363.92 718.79,370.14 718.91,365.45 719.00,372.49 719.14,360.39 719.29,367.70 719.46,354.87 719.58,371.83 719.74,358.31 719.83,373.30 719.96,364.76 720.12,368.47 720.24,358.24 720.36,375.21 720.50,360.73 720.61,374.48 720.78,351.63 720.89,372.73 721.00,355.49 721.18,368.61 721.28,362.93 721.43,370.88 721.54,366.72 721.71,368.00 721.84,359.72 722.00,373.18 722.10,362.22 722.21,367.29 722.38,357.91 722.51,370.77 722.63,363.36 722.80,375.06 722.93,362.79 723.04,373.83 723.15,359.80 723.31,372.40 723.44,358.94 723.55,367.21 723.69,360.69 723.86,372.37 723.97,364.95 724.09,379.75 724.20,362.20 724.36,367.71 724.54,361.44 724.70,375.87 724.88,365.34 725.04,368.68 725.14,365.83 725.32,368.22 725.46,361.29 725.58,376.09 725.73,362.41 725.86,368.36 725.99,365.58 726.15,374.68 726.30,363.67 726.41,368.25 726.51,357.93 726.64,378.73 726.79,362.47 726.96,380.27 727.08,360.94 727.19,372.24 727.32,363.73 727.49,369.98 727.60,366.17 727.78,369.53 727.92,359.96 728.10,370.32 728.23,364.38 728.35,383.77 728.45,360.80 728.57,374.76 728.67,353.31 728.86,370.15 729.00,366.49 729.15,367.98 729.31,360.54 729.41,369.00 729.58,362.59 729.74,367.71 729.88,366.17 730.07,373.86 730.17,362.26 730.35,373.80 730.50,366.06 730.67,371.64 730.86,357.27 730.97,376.00 731.12,364.37 731.25,371.68 731.41,365.70 731.56,371.92 731.69,360.45 731.82,373.95 731.97,365.87 732.11,367.25 732.28,359.79 732.40,374.60 732.51,366.07 732.63,370.55 732.77,363.96 732.88,376.41 733.04,366.91 733.15,369.36 733.31,358.87 733.41,371.30 733.50,361.09 733.68,376.72 733.85,352.45 733.99,367.15 734.12,356.70 734.29,380.85 734.38,365.75 734.56,369.55 734.69,359.35 734.79,371.54 734.93,358.50 735.04,367.01 735.16,365.34 735.29,371.45 735.46,365.78 735.59,368.75 735.71,366.54 735.83,375.99 736.00,364.48 736.18,372.90 736.30,362.99 736.42,381.04 736.59,356.81 736.77,375.67 736.86,357.96 736.95,368.38 737.05,364.26 737.21,374.08 737.35,361.20 737.53,372.20 737.67,359.88 737.82,368.55 737.99,363.69 738.09,371.73 738.19,351.84 738.33,371.54 738.43,360.62 738.57,373.62 738.73,366.50 738.88,370.10 739.02,364.43 739.20,368.65 739.29,365.90 739.41,372.15 739.57,362.81 739.69,372.30 739.84,365.35 739.95,368.25 740.14,365.01 740.24,370.83 740.39,366.25 740.57,375.01 740.74,355.32 740.89,369.80 741.04,349.47 741.20,376.19 741.38,357.87 741.53,373.42 741.63,359.73 741.72,373.35 741.90,366.34 742.02,369.95 742.15,362.87 742.30,377.82 742.42,356.73 742.57,367.36 742.72,363.76 742.86,379.28 742.98,366.93 743.14,376.96 743.31,361.21 743.43,367.44 743.53,361.71 743.69,368.17 743.80,365.31 743.94,369.02 744.09,359.74 744.26,374.41 744.43,364.57 744.58,375.54 744.71,359.61 744.85,368.25 745.02,359.85 745.18,367.70 745.27,360.94 745.43,367.87 745.59,364.58 745.77,369.87 745.87,364.56 745.96,372.14 746.07,361.36 746.19,374.17 746.28,366.55 746.45,371.71 746.56,355.04 746.66,367.19 746.76,359.82 746.87,370.41 746.99,366.16 747.17,368.36 747.31,363.43 747.50,368.02 747.69,360.75 747.86,367.10 748.02,358.14 748.17,368.34 748.27,365.88 748.37,368.62 748.48,358.35 748.66,371.44 748.77,366.67 748.92,370.30 749.10,361.63 749.27,371.39 749.41,365.81 749.59,372.75 749.72,365.17 749.84,367.38 750.00,364.97 750.13,369.64 750.25,365.07 750.36,367.10 750.48,365.05 750.58,380.03 750.67,361.77 750.82,367.79 750.96,365.77 751.14,373.79 751.24,361.34 751.41,368.48 751.58,360.26 751.69,377.68 751.81,365.98 751.96,370.41 752.10,362.58 752.20,378.15 752.36,366.90 752.46,374.19 752.57,365.40 752.76,371.75 752.92,362.25 753.09,370.60 753.22,364.12 753.32,371.69 753.50,358.01 753.64,367.39 753.79,359.71 753.96,369.54 754.11,357.71 754.22,369.20 754.37,357.04 754.50,368.02 754.68,364.98 754.77,371.12 754.94,364.71 755.06,372.28 755.22,366.02 755.36,369.24 755.47,365.57 755.59,372.82 755.73,365.36 755.86,367.57 756.05,366.11 756.23,368.75 756.33,363.07 756.47,374.80 756.62,364.88 756.74,370.68 756.92,365.89 757.10,370.17 757.20,366.56 757.37,368.00 757.55,360.23 757.71,367.59 757.85,367.00 757.96,372.89 758.12,365.25 758.31,371.02 758.48,358.02 758.65,370.42 758.78,363.20 758.93,371.43 759.03,356.25 759.16,367.53 759.27,366.29 759.39,367.34 759.52,366.49 759.63,369.95 759.81,365.61 759.98,377.23 760.15,363.06 760.33,372.28 760.49,359.45 760.62,367.34 760.79,364.51 760.90,368.34 761.00,363.44 761.18,369.41 761.35,361.07 761.50,378.97 761.63,350.06 761.81,370.99 762.00,363.83 762.15,368.66 762.33,359.07 762.43,367.98 762.56,365.73 762.72,371.40 762.84,362.72 762.93,367.70 763.11,360.49 763.21,370.96 763.33,360.74 763.50,370.16 763.66,364.66 763.85,369.82 763.94,362.52 764.10,371.34 764.24,364.22 764.37,368.19 764.51,363.71 764.66,388.61 764.82,359.35 764.98,367.49 765.11,361.74 765.23,368.41 765.34,366.52 765.45,368.17 765.59,362.71 765.74,372.05 765.90,366.16 766.08,370.34 766.20,358.16 766.37,375.53 766.46,364.25 766.64,373.50 766.80,360.83 766.93,368.53 767.08,364.95 767.17,368.54 767.31,363.88 767.44,367.75 767.56,362.88 767.69,374.00 767.79,364.27 767.95,370.05 768.10,363.47 768.25,369.75 768.44,361.82 768.55,370.87 768.68,360.31 768.82,369.13 768.94,366.44 769.06,371.75 769.24,365.20 769.38,370.93 769.51,360.47 769.66,369.32 769.84,362.49 770.00,369.35 770.10,362.97 770.21,370.86 770.39,361.94 770.58,367.34 770.75,361.30 770.86,371.56 771.02,360.91 771.19,375.61 771.36,365.88 771.51,368.36 771.66,361.07 771.79,367.77 771.98,363.90 772.08,375.61 772.27,364.13 772.40,371.04 772.52,359.59 772.62,371.84 772.74,358.58 772.92,371.51 773.08,361.12 773.19,368.06 773.29,364.32 773.43,369.00 773.53,362.88 773.65,367.39 773.76,366.11 773.87,370.03 774.01,362.03 774.16,368.07 774.32,363.78 774.46,375.55 774.56,363.26 774.73,373.03 774.84,356.06 774.99,369.00 775.11,366.26 775.28,370.97 775.38,362.12 775.52,368.54 775.70,361.81 775.81,375.60 775.98,362.27 776.15,382.18 776.29,366.61 776.47,368.50 776.64,362.02 776.82,388.36 777.00,365.31 777.11,373.40 777.22,363.92 777.37,374.77 777.55,363.87 777.66,373.54 777.75,363.95 777.90,370.48 778.08,364.91 778.19,369.18 778.35,364.78 778.44,370.69 778.55,366.80 778.73,373.52 778.83,360.67 778.94,371.02 779.07,366.24 779.21,380.98 779.40,365.34 779.53,369.07 779.71,364.36 779.84,372.76 780.03,357.51 780.18,369.73 780.30,364.45 780.46,368.62 780.62,364.70 780.73,368.56 780.89,364.24 780.99,372.27 781.18,366.48 781.30,367.38 781.41,366.45 781.54,371.69 781.69,358.27 781.87,367.74 782.06,362.25 782.18,367.61 782.29,365.20 782.44,376.67 782.60,364.96 782.77,372.23 782.90,362.00 783.08,372.77 783.21,363.28 783.37,371.20 783.48,359.79 783.62,367.14 783.80,366.07 783.92,368.86 784.04,366.54 784.23,367.57 784.36,362.46 784.46,370.12 784.57,366.88 784.74,370.10 784.92,364.31 785.03,368.50 785.21,361.80 785.36,368.51 785.48,363.18 785.60,368.05 785.75,364.25 785.92,367.46 786.09,359.62 786.22,374.71 786.41,363.86 786.50,371.13 786.60,365.67 786.71,368.88 786.89,364.91 787.02,368.75 787.14,366.43 787.25,384.27 787.39,359.64 787.55,368.25 787.68,366.62 787.84,368.87 787.93,364.90 788.04,368.33 788.15,361.90 788.26,368.07 788.40,366.67 788.56,368.95 788.75,364.05 788.87,367.73" fill="none" stroke="#ffa500" stroke-width="0.5" stroke-opacity="1" stroke-linejoin="bevel"/>
</svg>
<rect x="507" y="338" width="283" height="54.5" fill="none" stroke="#000" stroke-width="1.8"/>
<line x1="512.00" y1="332.5" x2="512.00" y2="337" stroke="#000" stroke-width="0.8"/>
<line x1="512.00" y1="393.5" x2="512.00" y2="398.0" stroke="#000" stroke-width="0.8"/>
<text x="512.00" y="409.2" text-anchor="middle" font-family="'Liberation Sans',Arial,sans-serif" font-size="10px">15</text>
<line x1="535.60" y1="332.5" x2="535.60" y2="337" stroke="#000" stroke-width="0.8"/>
<line x1="535.60" y1="393.5" x2="535.60" y2="398.0" stroke="#000" stroke-width="0.8"/>
<text x="535.60" y="409.2" text-anchor="middle" font-family="'Liberation Sans',Arial,sans-serif" font-size="10px">20</text>
<line x1="559.20" y1="332.5" x2="559.20" y2="337" stroke="#000" stroke-width="0.8"/>
<line x1="559.20" y1="393.5" x2="559.20" y2="398.0" stroke="#000" stroke-width="0.8"/>
<text x="559.20" y="409.2" text-anchor="middle" font-family="'Liberation Sans',Arial,sans-serif" font-size="10px">25</text>
<line x1="582.80" y1="332.5" x2="582.80" y2="337" stroke="#000" stroke-width="0.8"/>
<line x1="582.80" y1="393.5" x2="582.80" y2="398.0" stroke="#000" stroke-width="0.8"/>
<text x="582.80" y="409.2" text-anchor="middle" font-family="'Liberation Sans',Arial,sans-serif" font-size="10px">30</text>
<line x1="606.40" y1="332.5" x2="606.40" y2="337" stroke="#000" stroke-width="0.8"/>
<line x1="606.40" y1="393.5" x2="606.40" y2="398.0" stroke="#000" stroke-width="0.8"/>
<text x="606.40" y="409.2" text-anchor="middle" font-family="'Liberation Sans',Arial,sans-serif" font-size="10px">35</text>
<line x1="630.00" y1="332.5" x2="630.00" y2="337" stroke="#000" stroke-width="0.8"/>
<line x1="630.00" y1="393.5" x2="630.00" y2="398.0" stroke="#000" stroke-width="0.8"/>
<text x="630.00" y="409.2" text-anchor="middle" font-family="'Liberation Sans',Arial,sans-serif" font-size="10px">40</text>
<line x1="653.60" y1="332.5" x2="653.60" y2="337" stroke="#000" stroke-width="0.8"/>
<line x1="653.60" y1="393.5" x2="653.60" y2="398.0" stroke="#000" stroke-width="0.8"/>
<text x="653.60" y="409.2" text-anchor="middle" font-family="'Liberation Sans',Arial,sans-serif" font-size="10px">45</text>
<line x1="677.20" y1="332.5" x2="677.20" y2="337" stroke="#000" stroke-width="0.8"/>
<line x1="677.20" y1="393.5" x2="677.20" y2="398.0" stroke="#000" stroke-width="0.8"/>
<text x="677.20" y="409.2" text-anchor="middle" font-family="'Liberation Sans',Arial,sans-serif" font-size="10px">50</text>
<line x1="700.80" y1="332.5" x2="700.80" y2="337" stroke="#000" stroke-width="0.8"/>
<line x1="700.80" y1="393.5" x2="700.80" y2="398.0" stroke="#000" stroke-width="0.8"/>
<text x="700.80" y="409.2" text-anchor="middle" font-family="'Liberation Sans',Arial,sans-serif" font-size="10px">55</text>
<line x1="724.40" y1="332.5" x2="724.40" y2="337" stroke="#000" stroke-width="0.8"/>
<line x1="724.40" y1="393.5" x2="724.40" y2="398.0" stroke="#000" stroke-width="0.8"/>
<text x="724.40" y="409.2" text-anchor="middle" font-family="'Liberation Sans',Arial,sans-serif" font-size="10px">00</text>
<line x1="748.00" y1="332.5" x2="748.00" y2="337" stroke="#000" stroke-width="0.8"/>
<line x1="748.00" y1="393.5" x2="748.00" y2="398.0" stroke="#000" stroke-width="0.8"/>
<text x="748.00" y="409.2" text-anchor="middle" font-family="'Liberation Sans',Arial,sans-serif" font-size="10px">05</text>
<line x1="771.60" y1="332.5" x2="771.60" y2="337" stroke="#000" stroke-width="0.8"/>
<line x1="771.60" y1="393.5" x2="771.60" y2="398.0" stroke="#000" stroke-width="0.8"/>
<text x="771.60" y="409.2" text-anchor="middle" font-family="'Liberation Sans',Arial,sans-serif" font-size="10px">10</text>
<text x="799.3" y="346" font-family="'Liberation Sans',Arial,sans-serif" font-size="10px" font-weight="bold" fill="#0000ff">La Sabana</text>
<text x="799.3" y="368.6" font-family="'Liberation Sans',Arial,sans-serif" font-size="10px">Acel. Max. 0.0</text>
<text x="799.3" y="385.6" font-family="'Liberation Sans',Arial,sans-serif" font-size="10px">Int JMA: 0</text>
<text x="648.3" y="425.8" text-anchor="middle" font-family="'Liberation Sans',Arial,sans-serif" font-size="11.7px">Tiempo (s)</text>
</svg></body></html>
